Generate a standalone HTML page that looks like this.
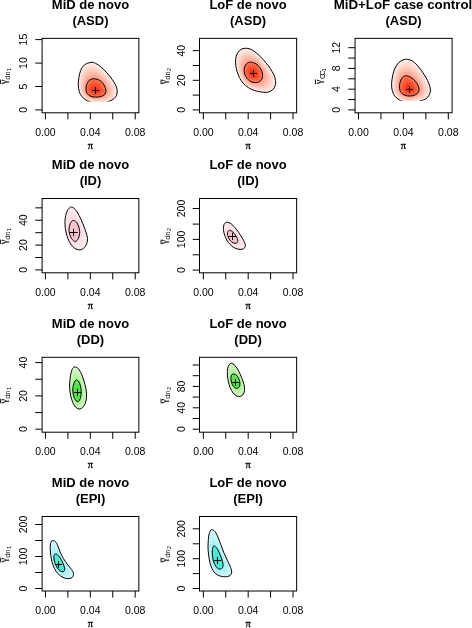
<!DOCTYPE html>
<html lang="en"><head><meta charset="utf-8"><title>Posterior density contour plots</title>
<style>html,body{margin:0;padding:0;background:#fff}body{width:472px;height:628px;overflow:hidden}svg{display:block;will-change:transform}text{font-family:"Liberation Sans", Arial, Helvetica, sans-serif;fill:#000}.t{font-size:13px;font-weight:bold;text-anchor:middle}.a{font-size:10.5px;text-anchor:middle}.g{font-size:10.5px;stroke:#000;stroke-width:0.1px;font-family:"Liberation Serif","DejaVu Serif",serif}.p{font-size:10.5px;stroke:#000;stroke-width:0.3px;text-anchor:middle;font-family:"Liberation Serif","DejaVu Serif",serif}.s{font-size:7.4px}.ss{font-size:5.6px}</style></head><body>
<svg width="472" height="628" viewBox="0 0 472 628">
<rect width="472" height="628" fill="#fff"/>
<g>
<clipPath id="cp0"><rect x="42.10" y="38.35" width="96.75" height="63.16"/></clipPath>
<g clip-path="url(#cp0)">
<path d="M90.76,62.36C92.64,62.06 93.83,62.55 95.51,63.31C97.19,64.06 98.97,65.28 100.85,66.86C102.73,68.45 104.90,70.72 106.78,72.80C108.66,74.87 110.64,77.25 112.12,79.32C113.60,81.40 114.83,83.38 115.68,85.25C116.53,87.13 117.08,88.91 117.22,90.59C117.36,92.27 117.06,93.99 116.51,95.34C115.95,96.68 115.03,97.71 113.90,98.66C112.77,99.61 111.33,100.30 109.75,101.03C108.16,101.77 106.09,102.58 104.41,103.05C102.73,103.53 101.24,103.78 99.66,103.88C98.08,103.98 96.60,104.04 94.92,103.64C93.23,103.25 91.06,102.10 89.58,101.51C88.09,100.92 87.30,100.92 86.02,100.08C84.73,99.25 82.99,97.91 81.86,96.53C80.74,95.14 79.85,93.76 79.25,91.78C78.66,89.80 78.36,87.03 78.31,84.66C78.25,82.29 78.50,79.92 78.90,77.54C79.29,75.17 79.79,72.50 80.68,70.42C81.57,68.35 82.56,66.43 84.24,65.08C85.92,63.74 88.88,62.65 90.76,62.36Z" fill="#ffede7"/>
<polygon points="116.39,90.36 116.41,92.22 116.10,94.05 115.43,95.79 114.32,97.33 112.90,98.63 111.28,99.67 109.62,100.49 108.06,101.19 106.57,101.78 105.15,102.27 103.78,102.68 102.45,103.00 101.15,103.22 99.89,103.37 98.66,103.44 97.46,103.46 96.29,103.40 95.15,103.22 94.05,102.93 93.00,102.55 92.00,102.13 91.02,101.70 90.05,101.29 89.06,100.91 88.00,100.58 86.94,100.15 85.95,99.56 85.00,98.88 84.06,98.12 83.14,97.29 82.28,96.36 81.49,95.33 80.79,94.21 80.20,92.99 79.75,91.70 79.42,90.36 79.18,88.96 79.01,87.51 78.90,86.00 78.86,84.42 78.90,82.78 79.04,81.05 79.27,79.23 79.59,77.30 80.01,75.21 80.58,72.99 81.43,70.75 82.57,68.56 84.09,66.64 86.02,65.25 88.17,64.28 90.44,63.62 92.80,63.51 95.15,64.26 97.34,65.38 99.32,66.73 101.10,68.16 102.70,69.62 104.15,71.06 105.49,72.45 106.74,73.81 107.92,75.15 109.04,76.47 110.11,77.80 111.14,79.16 112.12,80.56 113.07,82.00 113.96,83.51 114.78,85.10 115.49,86.77 116.05,88.53" fill="#ffe9e2"/>
<polygon points="115.59,90.36 115.61,92.15 115.30,93.91 114.66,95.58 113.60,97.07 112.25,98.33 110.70,99.33 109.11,100.13 107.60,100.80 106.16,101.36 104.79,101.84 103.47,102.23 102.18,102.53 100.93,102.74 99.71,102.88 98.53,102.95 97.38,102.98 96.25,102.92 95.15,102.75 94.09,102.48 93.08,102.12 92.10,101.73 91.16,101.33 90.22,100.94 89.25,100.58 88.22,100.25 87.20,99.84 86.24,99.27 85.32,98.61 84.40,97.88 83.51,97.08 82.68,96.17 81.92,95.17 81.24,94.08 80.68,92.91 80.24,91.66 79.93,90.36 79.71,89.00 79.55,87.60 79.45,86.15 79.41,84.63 79.46,83.04 79.60,81.38 79.84,79.63 80.17,77.78 80.58,75.78 81.15,73.66 81.97,71.54 83.09,69.46 84.56,67.64 86.41,66.32 88.47,65.41 90.64,64.78 92.91,64.68 95.15,65.38 97.25,66.43 99.15,67.69 100.87,69.03 102.41,70.41 103.82,71.77 105.11,73.11 106.32,74.41 107.46,75.69 108.54,76.96 109.58,78.25 110.57,79.56 111.51,80.91 112.41,82.31 113.26,83.76 114.05,85.29 114.72,86.90 115.26,88.60" fill="#ffe4dc"/>
<polygon points="114.78,90.36 114.80,92.07 114.51,93.77 113.90,95.38 112.89,96.81 111.60,98.03 110.12,99.00 108.59,99.77 107.14,100.41 105.75,100.95 104.42,101.41 103.15,101.77 101.91,102.06 100.71,102.27 99.53,102.39 98.40,102.46 97.29,102.49 96.21,102.43 95.15,102.28 94.13,102.03 93.15,101.70 92.21,101.33 91.29,100.96 90.38,100.59 89.44,100.25 88.45,99.93 87.46,99.53 86.53,98.98 85.63,98.34 84.75,97.64 83.89,96.86 83.08,95.98 82.35,95.02 81.70,93.96 81.16,92.82 80.74,91.62 80.45,90.36 80.23,89.05 80.09,87.70 80.00,86.29 79.97,84.83 80.02,83.30 80.17,81.71 80.41,80.03 80.74,78.26 81.15,76.35 81.71,74.34 82.52,72.32 83.61,70.36 85.03,68.64 86.80,67.40 88.77,66.53 90.85,65.94 93.01,65.85 95.15,66.50 97.15,67.47 98.98,68.65 100.63,69.90 102.12,71.20 103.48,72.49 104.73,73.76 105.90,75.00 107.00,76.23 108.05,77.46 109.05,78.70 110.00,79.96 110.90,81.27 111.76,82.61 112.57,84.02 113.31,85.49 113.96,87.04 114.47,88.67" fill="#ffded5"/>
<polygon points="113.98,90.36 114.00,92.00 113.71,93.63 113.13,95.17 112.17,96.55 110.95,97.72 109.54,98.66 108.08,99.41 106.68,100.02 105.34,100.54 104.06,100.97 102.83,101.32 101.64,101.59 100.48,101.79 99.36,101.91 98.27,101.98 97.21,102.00 96.17,101.95 95.15,101.81 94.17,101.58 93.23,101.27 92.32,100.94 91.43,100.59 90.54,100.24 89.63,99.91 88.68,99.60 87.72,99.21 86.82,98.68 85.95,98.07 85.10,97.40 84.26,96.64 83.48,95.80 82.77,94.86 82.15,93.84 81.64,92.74 81.24,91.57 80.96,90.36 80.76,89.10 80.62,87.79 80.54,86.44 80.52,85.03 80.59,83.56 80.74,82.03 80.98,80.43 81.31,78.74 81.72,76.93 82.28,75.01 83.07,73.10 84.12,71.25 85.49,69.64 87.19,68.47 89.07,67.66 91.05,67.11 93.11,67.02 95.15,67.62 97.06,68.52 98.81,69.61 100.40,70.78 101.84,71.99 103.15,73.21 104.36,74.42 105.48,75.60 106.55,76.77 107.56,77.95 108.52,79.14 109.42,80.36 110.28,81.62 111.10,82.92 111.87,84.27 112.58,85.69 113.19,87.17 113.68,88.73" fill="#ffd9ce"/>
<polygon points="113.17,90.36 113.19,91.93 112.92,93.49 112.36,94.97 111.46,96.29 110.30,97.42 108.96,98.33 107.56,99.04 106.21,99.64 104.93,100.13 103.70,100.54 102.51,100.87 101.37,101.12 100.26,101.31 99.18,101.42 98.14,101.49 97.12,101.51 96.12,101.47 95.15,101.34 94.21,101.13 93.30,100.85 92.42,100.54 91.56,100.22 90.71,99.89 89.83,99.58 88.90,99.28 87.98,98.90 87.12,98.39 86.27,97.81 85.44,97.16 84.64,96.43 83.88,95.61 83.20,94.71 82.60,93.72 82.12,92.65 81.74,91.53 81.48,90.36 81.29,89.14 81.16,87.89 81.09,86.59 81.08,85.23 81.15,83.83 81.31,82.36 81.55,80.83 81.88,79.22 82.30,77.50 82.85,75.69 83.62,73.89 84.64,72.15 85.96,70.64 87.58,69.55 89.37,68.78 91.26,68.27 93.21,68.19 95.15,68.74 96.97,69.56 98.64,70.57 100.16,71.65 101.55,72.78 102.81,73.93 103.98,75.07 105.07,76.20 106.09,77.32 107.06,78.44 107.98,79.59 108.85,80.76 109.67,81.97 110.45,83.22 111.18,84.52 111.84,85.88 112.43,87.31 112.89,88.80" fill="#ffd3c7"/>
<polygon points="112.37,90.36 112.38,91.86 112.12,93.35 111.59,94.76 110.74,96.03 109.65,97.12 108.38,97.99 107.05,98.68 105.75,99.25 104.51,99.72 103.33,100.10 102.19,100.41 101.10,100.65 100.03,100.83 99.00,100.94 98.00,101.00 97.03,101.02 96.08,100.98 95.15,100.87 94.25,100.68 93.38,100.42 92.53,100.14 91.70,99.84 90.87,99.54 90.02,99.25 89.13,98.96 88.24,98.59 87.41,98.10 86.59,97.54 85.79,96.91 85.01,96.21 84.28,95.42 83.63,94.55 83.06,93.60 82.60,92.57 82.24,91.49 81.99,90.36 81.81,89.19 81.70,87.98 81.64,86.73 81.64,85.44 81.71,84.09 81.88,82.69 82.12,81.23 82.45,79.70 82.87,78.07 83.41,76.37 84.17,74.67 85.16,73.05 86.43,71.64 87.97,70.62 89.67,69.91 91.46,69.43 93.32,69.36 95.15,69.85 96.88,70.60 98.47,71.52 99.93,72.52 101.26,73.58 102.48,74.65 103.60,75.72 104.65,76.79 105.64,77.86 106.57,78.94 107.45,80.03 108.28,81.16 109.06,82.33 109.79,83.53 110.48,84.78 111.11,86.08 111.66,87.44 112.10,88.87" fill="#ffcdbf"/>
<polygon points="111.57,90.36 111.58,91.79 111.33,93.21 110.83,94.56 110.03,95.77 109.00,96.81 107.80,97.66 106.53,98.32 105.29,98.86 104.10,99.30 102.97,99.67 101.88,99.96 100.83,100.18 99.81,100.35 98.83,100.45 97.87,100.51 96.95,100.53 96.04,100.50 95.15,100.40 94.29,100.23 93.45,100.00 92.64,99.74 91.83,99.47 91.03,99.19 90.21,98.91 89.36,98.63 88.51,98.28 87.70,97.81 86.91,97.27 86.13,96.67 85.38,96.00 84.68,95.24 84.06,94.39 83.51,93.47 83.08,92.49 82.74,91.44 82.51,90.36 82.34,89.24 82.23,88.08 82.18,86.88 82.19,85.64 82.28,84.35 82.44,83.02 82.69,81.63 83.03,80.18 83.44,78.64 83.98,77.04 84.72,75.46 85.68,73.95 86.89,72.64 88.36,71.69 89.97,71.03 91.67,70.59 93.42,70.52 95.15,70.97 96.79,71.65 98.30,72.48 99.70,73.40 100.97,74.37 102.14,75.37 103.22,76.38 104.23,77.39 105.18,78.40 106.08,79.43 106.92,80.48 107.71,81.56 108.44,82.68 109.14,83.84 109.78,85.03 110.38,86.28 110.90,87.58 111.31,88.94" fill="#ffc6b8"/>
<polygon points="110.76,90.36 110.77,91.72 110.53,93.07 110.06,94.35 109.31,95.51 108.35,96.51 107.22,97.32 106.01,97.96 104.83,98.48 103.69,98.89 102.60,99.24 101.56,99.51 100.56,99.71 99.59,99.87 98.65,99.96 97.74,100.02 96.86,100.05 96.00,100.02 95.15,99.93 94.33,99.78 93.53,99.58 92.74,99.35 91.97,99.10 91.20,98.84 90.41,98.58 89.59,98.31 88.77,97.96 87.99,97.52 87.23,97.01 86.48,96.43 85.76,95.78 85.08,95.05 84.48,94.24 83.97,93.35 83.56,92.40 83.24,91.40 83.02,90.36 82.87,89.28 82.77,88.17 82.73,87.03 82.75,85.84 82.84,84.61 83.01,83.35 83.27,82.03 83.60,80.66 84.01,79.22 84.55,77.72 85.27,76.24 86.20,74.85 87.36,73.65 88.75,72.77 90.28,72.15 91.87,71.76 93.52,71.69 95.15,72.09 96.70,72.69 98.13,73.44 99.46,74.27 100.68,75.16 101.81,76.09 102.84,77.03 103.81,77.99 104.73,78.95 105.59,79.92 106.39,80.93 107.14,81.96 107.83,83.04 108.48,84.14 109.09,85.28 109.64,86.47 110.13,87.71 110.52,89.01" fill="#ffc0b0"/>
<polygon points="109.96,90.36 109.97,91.65 109.74,92.93 109.29,94.14 108.60,95.25 107.70,96.21 106.64,96.99 105.50,97.60 104.37,98.09 103.28,98.48 102.24,98.80 101.24,99.05 100.28,99.24 99.36,99.39 98.47,99.48 97.61,99.53 96.78,99.56 95.96,99.54 95.15,99.46 94.37,99.33 93.60,99.15 92.85,98.95 92.11,98.73 91.36,98.49 90.60,98.25 89.81,97.98 89.03,97.65 88.28,97.23 87.55,96.74 86.83,96.19 86.13,95.56 85.48,94.86 84.91,94.08 84.42,93.23 84.03,92.32 83.74,91.35 83.54,90.36 83.39,89.33 83.31,88.27 83.28,87.17 83.31,86.04 83.40,84.88 83.58,83.67 83.84,82.43 84.17,81.14 84.58,79.79 85.11,78.39 85.82,77.02 86.72,75.74 87.83,74.65 89.14,73.84 90.58,73.28 92.08,72.92 93.62,72.86 95.15,73.21 96.61,73.74 97.97,74.40 99.23,75.14 100.40,75.95 101.47,76.81 102.47,77.69 103.40,78.58 104.27,79.49 105.09,80.42 105.86,81.37 106.57,82.36 107.22,83.39 107.83,84.45 108.39,85.54 108.91,86.67 109.37,87.85 109.73,89.08" fill="#ffb9a8"/>
<polygon points="109.15,90.36 109.16,91.58 108.95,92.79 108.53,93.94 107.88,94.99 107.05,95.91 106.06,96.65 104.98,97.24 103.91,97.70 102.87,98.07 101.87,98.37 100.92,98.60 100.01,98.78 99.14,98.91 98.30,98.99 97.48,99.05 96.69,99.07 95.91,99.05 95.15,98.99 94.41,98.88 93.68,98.73 92.96,98.55 92.24,98.36 91.52,98.14 90.79,97.91 90.04,97.66 89.29,97.34 88.57,96.94 87.87,96.47 87.17,95.94 86.51,95.35 85.89,94.68 85.34,93.93 84.88,93.11 84.51,92.23 84.24,91.31 84.05,90.36 83.92,89.37 83.85,88.36 83.83,87.32 83.86,86.25 83.97,85.14 84.15,84.00 84.41,82.83 84.74,81.62 85.16,80.36 85.68,79.07 86.37,77.81 87.23,76.64 88.29,75.65 89.53,74.92 90.88,74.40 92.28,74.08 93.72,74.03 95.15,74.32 96.52,74.78 97.80,75.36 98.99,76.02 100.11,76.74 101.14,77.53 102.09,78.34 102.98,79.18 103.81,80.03 104.60,80.91 105.33,81.82 105.99,82.77 106.60,83.74 107.17,84.75 107.69,85.79 108.17,86.87 108.60,87.98 108.94,89.15" fill="#ffb3a0"/>
<polygon points="108.35,90.36 108.35,91.51 108.15,92.65 107.76,93.73 107.17,94.73 106.40,95.60 105.48,96.32 104.47,96.88 103.44,97.31 102.45,97.66 101.51,97.93 100.61,98.15 99.74,98.31 98.92,98.43 98.12,98.51 97.35,98.56 96.60,98.58 95.87,98.57 95.15,98.52 94.45,98.43 93.75,98.30 93.06,98.16 92.38,97.98 91.68,97.79 90.98,97.58 90.27,97.33 89.55,97.03 88.86,96.65 88.18,96.20 87.52,95.70 86.88,95.13 86.29,94.49 85.76,93.77 85.33,92.99 84.99,92.15 84.74,91.27 84.57,90.36 84.45,89.42 84.38,88.46 84.37,87.47 84.42,86.45 84.53,85.40 84.71,84.33 84.98,83.23 85.31,82.10 85.73,80.93 86.25,79.74 86.92,78.59 87.75,77.54 88.76,76.65 89.92,75.99 91.18,75.53 92.49,75.24 93.83,75.20 95.15,75.44 96.42,75.83 97.63,76.32 98.76,76.89 99.82,77.53 100.80,78.24 101.71,79.00 102.56,79.77 103.36,80.58 104.11,81.40 104.80,82.26 105.42,83.17 105.99,84.10 106.51,85.06 107.00,86.05 107.44,87.06 107.84,88.12 108.15,89.22" fill="#ffac97"/>
<polygon points="107.54,90.36 107.55,91.44 107.36,92.51 106.99,93.53 106.45,94.47 105.75,95.30 104.90,95.98 103.95,96.52 102.98,96.93 102.04,97.25 101.15,97.50 100.29,97.69 99.47,97.84 98.69,97.95 97.94,98.02 97.22,98.07 96.52,98.09 95.83,98.09 95.15,98.05 94.49,97.98 93.83,97.88 93.17,97.76 92.51,97.61 91.85,97.44 91.18,97.24 90.49,97.01 89.82,96.72 89.15,96.36 88.50,95.94 87.87,95.46 87.25,94.92 86.69,94.30 86.19,93.62 85.78,92.87 85.47,92.06 85.24,91.22 85.08,90.36 84.98,89.47 84.92,88.55 84.92,87.61 84.98,86.65 85.09,85.67 85.28,84.66 85.55,83.63 85.89,82.58 86.30,81.50 86.81,80.42 87.46,79.38 88.27,78.44 89.23,77.65 90.31,77.06 91.48,76.65 92.69,76.41 93.93,76.37 95.15,76.56 96.33,76.87 97.46,77.28 98.53,77.76 99.53,78.33 100.47,78.96 101.33,79.65 102.14,80.37 102.90,81.12 103.61,81.90 104.26,82.71 104.85,83.57 105.38,84.45 105.86,85.36 106.30,86.30 106.71,87.26 107.07,88.25 107.37,89.29" fill="#ffa58f"/>
<polygon points="106.74,90.36 106.74,91.37 106.56,92.37 106.23,93.32 105.74,94.21 105.10,95.00 104.32,95.65 103.43,96.15 102.52,96.54 101.63,96.83 100.78,97.06 99.97,97.24 99.20,97.37 98.47,97.47 97.77,97.53 97.09,97.58 96.43,97.60 95.79,97.60 95.15,97.58 94.53,97.53 93.90,97.45 93.28,97.36 92.65,97.24 92.01,97.09 91.37,96.91 90.72,96.69 90.08,96.40 89.44,96.06 88.82,95.67 88.21,95.22 87.63,94.70 87.09,94.12 86.62,93.46 86.24,92.74 85.95,91.98 85.74,91.18 85.60,90.36 85.50,89.51 85.46,88.65 85.47,87.76 85.53,86.85 85.66,85.93 85.85,84.99 86.12,84.03 86.46,83.06 86.87,82.08 87.38,81.09 88.01,80.16 88.79,79.34 89.70,78.65 90.71,78.14 91.78,77.78 92.90,77.57 94.03,77.54 95.15,77.68 96.24,77.92 97.29,78.24 98.29,78.64 99.24,79.12 100.13,79.68 100.96,80.30 101.73,80.97 102.45,81.66 103.12,82.39 103.73,83.16 104.28,83.97 104.77,84.81 105.20,85.67 105.60,86.55 105.97,87.46 106.31,88.39 106.58,89.36" fill="#ff9e87"/>
<path d="M93.14,78.73C94.72,78.59 96.89,78.99 98.47,79.68C100.06,80.37 101.54,81.66 102.63,82.88C103.71,84.11 104.45,85.65 105.00,87.03C105.55,88.42 106.05,89.90 105.95,91.19C105.85,92.47 105.26,93.86 104.41,94.75C103.56,95.64 102.33,96.13 100.85,96.53C99.36,96.92 97.19,97.16 95.51,97.12C93.83,97.08 92.15,96.88 90.76,96.29C89.38,95.69 87.99,94.71 87.20,93.56C86.41,92.41 86.12,90.89 86.02,89.41C85.92,87.92 86.12,86.14 86.61,84.66C87.10,83.18 87.90,81.50 88.98,80.51C90.07,79.52 91.55,78.87 93.14,78.73Z" fill="#ff7854"/>
<polygon points="105.17,90.36 105.17,91.23 105.01,92.09 104.72,92.92 104.32,93.69 103.79,94.38 103.13,94.96 102.36,95.41 101.57,95.74 100.79,95.99 100.04,96.18 99.33,96.33 98.66,96.43 98.02,96.51 97.41,96.57 96.83,96.61 96.26,96.63 95.70,96.64 95.15,96.63 94.61,96.60 94.06,96.55 93.51,96.49 92.95,96.40 92.39,96.29 91.82,96.13 91.25,95.93 90.68,95.68 90.12,95.39 89.57,95.04 89.03,94.64 88.51,94.19 88.03,93.68 87.62,93.10 87.30,92.46 87.05,91.78 86.88,91.08 86.76,90.36 86.68,89.61 86.65,88.86 86.67,88.08 86.74,87.29 86.86,86.49 87.04,85.67 87.29,84.85 87.61,84.03 88.00,83.20 88.46,82.38 89.03,81.62 89.73,80.96 90.52,80.42 91.39,80.01 92.30,79.72 93.25,79.56 94.21,79.54 95.15,79.62 96.08,79.77 96.98,79.99 97.85,80.28 98.68,80.66 99.46,81.11 100.19,81.63 100.87,82.19 101.50,82.79 102.09,83.42 102.63,84.08 103.10,84.79 103.51,85.53 103.88,86.29 104.21,87.06 104.52,87.85 104.80,88.66 105.03,89.49" fill="#ff714e"/>
<polygon points="104.40,90.36 104.40,91.16 104.25,91.96 103.99,92.72 103.61,93.43 103.12,94.07 102.51,94.61 101.81,95.02 101.07,95.32 100.35,95.56 99.67,95.73 99.01,95.87 98.39,95.96 97.80,96.04 97.24,96.09 96.70,96.13 96.17,96.15 95.66,96.15 95.15,96.14 94.65,96.12 94.14,96.08 93.64,96.02 93.12,95.94 92.60,95.83 92.07,95.69 91.55,95.50 91.03,95.27 90.51,95.00 90.00,94.68 89.50,94.31 89.02,93.89 88.58,93.42 88.20,92.89 87.90,92.30 87.68,91.67 87.51,91.02 87.40,90.36 87.33,89.67 87.30,88.97 87.32,88.26 87.38,87.53 87.50,86.79 87.67,86.03 87.90,85.28 88.19,84.51 88.55,83.75 88.98,83.00 89.50,82.29 90.14,81.68 90.88,81.18 91.68,80.80 92.52,80.54 93.40,80.39 94.28,80.37 95.15,80.45 96.01,80.59 96.84,80.79 97.64,81.06 98.41,81.40 99.13,81.82 99.80,82.30 100.43,82.82 101.01,83.37 101.56,83.95 102.05,84.57 102.48,85.22 102.87,85.90 103.21,86.60 103.51,87.31 103.80,88.04 104.06,88.79 104.27,89.56" fill="#ff6b48"/>
<polygon points="103.63,90.36 103.63,91.10 103.49,91.83 103.25,92.53 102.91,93.18 102.46,93.76 101.90,94.25 101.25,94.63 100.58,94.91 99.92,95.12 99.29,95.29 98.69,95.41 98.12,95.50 97.58,95.57 97.07,95.61 96.57,95.65 96.09,95.67 95.62,95.67 95.15,95.66 94.69,95.64 94.23,95.60 93.76,95.55 93.29,95.47 92.81,95.37 92.33,95.24 91.85,95.07 91.37,94.86 90.90,94.61 90.43,94.32 89.97,93.98 89.53,93.60 89.13,93.16 88.78,92.68 88.51,92.14 88.30,91.56 88.15,90.97 88.05,90.36 87.98,89.73 87.96,89.09 87.97,88.43 88.03,87.76 88.13,87.08 88.29,86.39 88.50,85.70 88.77,85.00 89.10,84.30 89.49,83.61 89.97,82.96 90.56,82.40 91.23,81.95 91.97,81.60 92.74,81.36 93.54,81.22 94.35,81.21 95.15,81.27 95.94,81.40 96.70,81.59 97.44,81.83 98.14,82.15 98.80,82.53 99.42,82.97 99.99,83.45 100.53,83.95 101.03,84.48 101.48,85.05 101.87,85.65 102.22,86.27 102.54,86.91 102.82,87.57 103.08,88.23 103.31,88.92 103.51,89.63" fill="#ff6442"/>
<polygon points="102.85,90.36 102.86,91.03 102.73,91.69 102.51,92.33 102.20,92.92 101.80,93.45 101.29,93.90 100.70,94.24 100.09,94.50 99.49,94.69 98.91,94.84 98.37,94.95 97.85,95.03 97.36,95.09 96.89,95.14 96.44,95.17 96.00,95.18 95.58,95.19 95.15,95.18 94.73,95.16 94.31,95.12 93.89,95.08 93.46,95.01 93.03,94.92 92.59,94.80 92.15,94.65 91.71,94.45 91.28,94.23 90.86,93.96 90.44,93.65 90.04,93.30 89.68,92.91 89.36,92.46 89.11,91.97 88.92,91.45 88.79,90.91 88.69,90.36 88.64,89.79 88.61,89.20 88.63,88.61 88.68,88.00 88.77,87.38 88.91,86.75 89.11,86.12 89.35,85.49 89.65,84.85 90.01,84.22 90.45,83.63 90.98,83.13 91.59,82.71 92.26,82.40 92.96,82.17 93.69,82.05 94.42,82.04 95.15,82.10 95.86,82.22 96.56,82.39 97.23,82.61 97.87,82.89 98.47,83.25 99.03,83.64 99.55,84.08 100.04,84.53 100.49,85.02 100.90,85.53 101.26,86.08 101.58,86.64 101.86,87.23 102.12,87.82 102.36,88.43 102.57,89.05 102.75,89.69" fill="#ff5e3d"/>
<polygon points="102.08,90.36 102.09,90.96 101.98,91.56 101.78,92.13 101.50,92.66 101.13,93.14 100.67,93.54 100.14,93.85 99.59,94.08 99.05,94.26 98.54,94.39 98.05,94.49 97.58,94.56 97.14,94.62 96.72,94.66 96.31,94.69 95.92,94.70 95.53,94.70 95.15,94.70 94.77,94.68 94.40,94.65 94.01,94.60 93.63,94.54 93.24,94.46 92.84,94.36 92.45,94.22 92.06,94.04 91.67,93.84 91.29,93.60 90.91,93.32 90.56,93.01 90.22,92.65 89.94,92.25 89.71,91.81 89.55,91.34 89.42,90.86 89.34,90.36 89.29,89.84 89.26,89.32 89.28,88.78 89.33,88.24 89.41,87.68 89.54,87.11 89.71,86.55 89.93,85.97 90.20,85.40 90.52,84.84 90.92,84.31 91.40,83.85 91.94,83.48 92.54,83.19 93.18,82.99 93.83,82.88 94.50,82.87 95.15,82.92 95.79,83.03 96.42,83.18 97.02,83.38 97.60,83.64 98.14,83.96 98.64,84.31 99.11,84.70 99.55,85.12 99.96,85.55 100.33,86.01 100.65,86.51 100.94,87.02 101.19,87.54 101.42,88.07 101.64,88.62 101.83,89.18 101.99,89.76" fill="#ff5737"/>
<polygon points="101.31,90.36 101.32,90.90 101.22,91.43 101.04,91.93 100.79,92.41 100.47,92.83 100.06,93.19 99.59,93.46 99.10,93.67 98.62,93.82 98.16,93.94 97.72,94.03 97.31,94.09 96.92,94.14 96.54,94.18 96.18,94.20 95.83,94.22 95.49,94.22 95.15,94.21 94.82,94.20 94.48,94.17 94.14,94.13 93.80,94.08 93.45,94.01 93.10,93.91 92.75,93.79 92.40,93.63 92.06,93.45 91.72,93.24 91.38,92.99 91.07,92.72 90.77,92.40 90.52,92.04 90.32,91.65 90.17,91.23 90.06,90.80 89.99,90.36 89.94,89.90 89.92,89.43 89.93,88.96 89.97,88.47 90.05,87.98 90.16,87.47 90.32,86.97 90.51,86.46 90.75,85.95 91.04,85.45 91.39,84.98 91.81,84.57 92.30,84.24 92.83,83.99 93.40,83.81 93.98,83.71 94.57,83.70 95.15,83.75 95.72,83.84 96.28,83.98 96.81,84.16 97.33,84.39 97.81,84.67 98.25,84.99 98.67,85.33 99.06,85.70 99.42,86.08 99.75,86.50 100.04,86.93 100.30,87.39 100.52,87.85 100.73,88.33 100.92,88.81 101.09,89.31 101.23,89.82" fill="#ff5131"/>
<polygon points="100.54,90.36 100.54,90.83 100.46,91.29 100.31,91.74 100.09,92.15 99.80,92.52 99.45,92.84 99.04,93.07 98.61,93.25 98.19,93.39 97.79,93.49 97.40,93.57 97.04,93.63 96.70,93.67 96.37,93.70 96.05,93.72 95.75,93.74 95.45,93.74 95.15,93.73 94.86,93.72 94.56,93.69 94.27,93.66 93.97,93.61 93.66,93.55 93.36,93.47 93.05,93.36 92.75,93.22 92.44,93.06 92.15,92.88 91.86,92.66 91.58,92.42 91.32,92.14 91.10,91.83 90.92,91.49 90.79,91.12 90.70,90.75 90.63,90.36 90.59,89.96 90.57,89.55 90.58,89.13 90.62,88.71 90.69,88.27 90.79,87.83 90.92,87.39 91.09,86.95 91.30,86.50 91.55,86.06 91.86,85.65 92.23,85.29 92.66,85.01 93.12,84.78 93.62,84.63 94.13,84.54 94.64,84.53 95.15,84.58 95.65,84.66 96.14,84.78 96.61,84.93 97.05,85.13 97.47,85.38 97.87,85.66 98.23,85.96 98.57,86.28 98.89,86.62 99.18,86.98 99.43,87.36 99.65,87.76 99.85,88.17 100.03,88.58 100.20,89.00 100.35,89.44 100.47,89.89" fill="#ff4a2b"/>
<polygon points="99.77,90.36 99.77,90.76 99.70,91.16 99.57,91.54 99.38,91.90 99.14,92.21 98.83,92.48 98.48,92.69 98.11,92.84 97.75,92.96 97.41,93.05 97.08,93.11 96.77,93.16 96.48,93.20 96.20,93.22 95.93,93.24 95.66,93.25 95.41,93.26 95.15,93.25 94.90,93.24 94.65,93.22 94.39,93.19 94.14,93.15 93.88,93.09 93.61,93.02 93.35,92.93 93.09,92.81 92.83,92.68 92.58,92.52 92.33,92.33 92.09,92.13 91.87,91.89 91.68,91.62 91.53,91.33 91.42,91.01 91.33,90.69 91.28,90.36 91.24,90.01 91.23,89.66 91.24,89.31 91.27,88.94 91.32,88.57 91.41,88.19 91.53,87.82 91.67,87.44 91.85,87.05 92.06,86.68 92.33,86.32 92.65,86.02 93.01,85.77 93.41,85.58 93.84,85.45 94.27,85.37 94.72,85.36 95.15,85.40 95.58,85.47 96.00,85.57 96.40,85.71 96.78,85.88 97.14,86.09 97.48,86.33 97.79,86.59 98.08,86.86 98.36,87.15 98.60,87.46 98.82,87.79 99.01,88.13 99.18,88.48 99.33,88.83 99.48,89.20 99.60,89.57 99.71,89.96" fill="#ff4325"/>
<polygon points="99.00,90.36 99.00,90.69 98.94,91.02 98.83,91.34 98.68,91.64 98.47,91.90 98.22,92.13 97.93,92.30 97.62,92.43 97.32,92.52 97.03,92.60 96.76,92.65 96.50,92.69 96.26,92.72 96.02,92.75 95.80,92.76 95.58,92.77 95.36,92.77 95.15,92.77 94.94,92.76 94.73,92.74 94.52,92.72 94.31,92.68 94.09,92.64 93.87,92.58 93.65,92.50 93.43,92.40 93.22,92.29 93.01,92.16 92.80,92.00 92.60,91.83 92.41,91.63 92.26,91.41 92.13,91.17 92.04,90.91 91.97,90.63 91.92,90.36 91.89,90.07 91.88,89.78 91.89,89.48 91.92,89.18 91.96,88.87 92.03,88.55 92.13,88.24 92.25,87.92 92.40,87.60 92.58,87.29 92.80,86.99 93.07,86.74 93.37,86.53 93.70,86.38 94.06,86.26 94.42,86.20 94.79,86.20 95.15,86.23 95.51,86.29 95.86,86.37 96.19,86.48 96.51,86.63 96.81,86.80 97.09,87.00 97.35,87.22 97.59,87.45 97.82,87.69 98.03,87.94 98.21,88.22 98.37,88.50 98.51,88.79 98.64,89.09 98.75,89.39 98.86,89.70 98.95,90.02" fill="#ff3d1f"/>
<polygon points="98.23,90.36 98.23,90.63 98.19,90.89 98.10,91.14 97.97,91.38 97.81,91.60 97.61,91.77 97.37,91.91 97.13,92.01 96.89,92.09 96.66,92.15 96.44,92.19 96.23,92.23 96.04,92.25 95.85,92.27 95.67,92.28 95.49,92.29 95.32,92.29 95.15,92.28 94.98,92.28 94.82,92.26 94.65,92.24 94.48,92.22 94.30,92.18 94.13,92.13 93.95,92.07 93.78,91.99 93.60,91.90 93.43,91.80 93.27,91.68 93.11,91.54 92.96,91.38 92.84,91.20 92.74,91.00 92.66,90.80 92.61,90.58 92.57,90.36 92.55,90.13 92.54,89.89 92.54,89.66 92.56,89.41 92.60,89.17 92.66,88.92 92.73,88.66 92.83,88.41 92.95,88.15 93.09,87.90 93.27,87.67 93.48,87.46 93.73,87.30 93.99,87.17 94.28,87.08 94.57,87.03 94.86,87.03 95.15,87.05 95.44,87.10 95.71,87.17 95.98,87.26 96.24,87.37 96.48,87.51 96.70,87.67 96.91,87.84 97.11,88.03 97.29,88.22 97.45,88.43 97.60,88.64 97.72,88.87 97.84,89.10 97.94,89.34 98.03,89.58 98.12,89.83 98.19,90.09" fill="#ff3619"/>
<polygon points="97.46,90.36 97.46,90.56 97.43,90.76 97.36,90.95 97.27,91.13 97.15,91.29 96.99,91.42 96.82,91.52 96.63,91.60 96.45,91.66 96.28,91.70 96.12,91.73 95.96,91.76 95.82,91.78 95.67,91.79 95.54,91.80 95.41,91.80 95.28,91.81 95.15,91.80 95.03,91.80 94.90,91.79 94.77,91.77 94.64,91.75 94.51,91.72 94.38,91.69 94.25,91.64 94.12,91.59 93.99,91.52 93.86,91.44 93.74,91.35 93.62,91.24 93.51,91.12 93.41,90.99 93.34,90.84 93.28,90.69 93.24,90.52 93.22,90.36 93.20,90.18 93.19,90.01 93.19,89.83 93.21,89.65 93.24,89.46 93.28,89.28 93.34,89.09 93.41,88.90 93.50,88.70 93.61,88.52 93.74,88.34 93.90,88.19 94.08,88.06 94.28,87.97 94.49,87.90 94.71,87.87 94.93,87.86 95.15,87.88 95.37,87.91 95.57,87.96 95.78,88.03 95.97,88.12 96.15,88.22 96.32,88.34 96.47,88.47 96.62,88.61 96.75,88.75 96.88,88.91 96.99,89.07 97.08,89.24 97.17,89.42 97.24,89.60 97.31,89.78 97.38,89.96 97.43,90.16" fill="#ff3014"/>
<polygon points="96.69,90.36 96.69,90.49 96.67,90.62 96.62,90.75 96.56,90.87 96.48,90.98 96.38,91.06 96.26,91.13 96.14,91.18 96.02,91.22 95.90,91.25 95.80,91.27 95.69,91.29 95.59,91.30 95.50,91.31 95.41,91.32 95.32,91.32 95.24,91.32 95.15,91.32 95.07,91.32 94.98,91.31 94.90,91.30 94.81,91.29 94.73,91.27 94.64,91.24 94.55,91.21 94.46,91.18 94.38,91.13 94.29,91.08 94.21,91.02 94.13,90.95 94.06,90.87 93.99,90.78 93.94,90.68 93.91,90.58 93.88,90.47 93.86,90.36 93.85,90.24 93.84,90.13 93.85,90.01 93.86,89.88 93.88,89.76 93.90,89.64 93.94,89.51 93.99,89.38 94.05,89.25 94.12,89.13 94.21,89.01 94.32,88.91 94.44,88.83 94.57,88.76 94.71,88.72 94.86,88.70 95.01,88.69 95.15,88.70 95.29,88.73 95.43,88.76 95.57,88.81 95.70,88.86 95.82,88.93 95.93,89.01 96.03,89.10 96.13,89.19 96.22,89.29 96.30,89.39 96.37,89.50 96.44,89.61 96.49,89.73 96.55,89.85 96.59,89.97 96.64,90.09 96.67,90.22" fill="#ff290e"/>
<polygon points="95.92,90.36 95.92,90.42 95.91,90.49 95.89,90.55 95.86,90.61 95.82,90.67 95.77,90.71 95.71,90.74 95.65,90.77 95.59,90.79 95.53,90.80 95.47,90.82 95.42,90.82 95.37,90.83 95.33,90.83 95.28,90.84 95.24,90.84 95.19,90.84 95.15,90.84 95.11,90.84 95.07,90.83 95.03,90.83 94.98,90.82 94.94,90.81 94.90,90.80 94.85,90.78 94.81,90.77 94.77,90.74 94.72,90.72 94.68,90.69 94.64,90.65 94.61,90.61 94.57,90.57 94.55,90.52 94.53,90.47 94.52,90.41 94.51,90.36 94.50,90.30 94.50,90.24 94.50,90.18 94.51,90.12 94.51,90.06 94.53,90.00 94.55,89.93 94.57,89.87 94.60,89.81 94.64,89.74 94.68,89.68 94.74,89.63 94.80,89.59 94.86,89.56 94.93,89.54 95.01,89.53 95.08,89.52 95.15,89.53 95.22,89.54 95.29,89.56 95.36,89.58 95.42,89.61 95.48,89.64 95.54,89.68 95.59,89.73 95.64,89.77 95.69,89.82 95.73,89.87 95.76,89.93 95.80,89.98 95.82,90.04 95.85,90.10 95.87,90.16 95.89,90.23 95.91,90.29" fill="#ff2308"/>
<path d="M90.76,62.36C92.64,62.06 93.83,62.55 95.51,63.31C97.19,64.06 98.97,65.28 100.85,66.86C102.73,68.45 104.90,70.72 106.78,72.80C108.66,74.87 110.64,77.25 112.12,79.32C113.60,81.40 114.83,83.38 115.68,85.25C116.53,87.13 117.08,88.91 117.22,90.59C117.36,92.27 117.06,93.99 116.51,95.34C115.95,96.68 115.03,97.71 113.90,98.66C112.77,99.61 111.33,100.30 109.75,101.03C108.16,101.77 106.09,102.58 104.41,103.05C102.73,103.53 101.24,103.78 99.66,103.88C98.08,103.98 96.60,104.04 94.92,103.64C93.23,103.25 91.06,102.10 89.58,101.51C88.09,100.92 87.30,100.92 86.02,100.08C84.73,99.25 82.99,97.91 81.86,96.53C80.74,95.14 79.85,93.76 79.25,91.78C78.66,89.80 78.36,87.03 78.31,84.66C78.25,82.29 78.50,79.92 78.90,77.54C79.29,75.17 79.79,72.50 80.68,70.42C81.57,68.35 82.56,66.43 84.24,65.08C85.92,63.74 88.88,62.65 90.76,62.36Z" fill="none" stroke="#000" stroke-width="1.0"/>
</g>
<path d="M93.14,78.73C94.72,78.59 96.89,78.99 98.47,79.68C100.06,80.37 101.54,81.66 102.63,82.88C103.71,84.11 104.45,85.65 105.00,87.03C105.55,88.42 106.05,89.90 105.95,91.19C105.85,92.47 105.26,93.86 104.41,94.75C103.56,95.64 102.33,96.13 100.85,96.53C99.36,96.92 97.19,97.16 95.51,97.12C93.83,97.08 92.15,96.88 90.76,96.29C89.38,95.69 87.99,94.71 87.20,93.56C86.41,92.41 86.12,90.89 86.02,89.41C85.92,87.92 86.12,86.14 86.61,84.66C87.10,83.18 87.90,81.50 88.98,80.51C90.07,79.52 91.55,78.87 93.14,78.73Z" fill="none" stroke="#000" stroke-width="1.0"/>
<path d="M92.00,90.50H99.00M95.50,87.10V93.90" stroke="#000" stroke-width="1" fill="none"/>
<rect x="42.10" y="38.35" width="96.75" height="74.45" fill="none" stroke="#000" stroke-width="1"/>
<path d="M45.45,112.80v6.6M67.89,112.80v6.6M90.32,112.80v6.6M112.76,112.80v6.6M135.20,112.80v6.6M42.10,109.90h-6.8M42.10,86.50h-6.8M42.10,63.10h-6.8M42.10,39.60h-6.8" stroke="#000" stroke-width="1" fill="none"/>
<text class="a" x="45.45" y="135.60">0.00</text>
<text class="a" x="90.32" y="135.60">0.04</text>
<text class="a" x="135.20" y="135.60">0.08</text>
<text class="a" transform="translate(27.10,109.90) rotate(-90)">0</text>
<text class="a" transform="translate(27.10,86.50) rotate(-90)">5</text>
<text class="a" transform="translate(27.10,63.10) rotate(-90)">10</text>
<text class="a" transform="translate(27.10,39.60) rotate(-90)">15</text>
<text class="p" x="90.32" y="148.60">π</text>
<g transform="translate(6.90,84.28) rotate(-90)">
<text class="g" x="0" y="0">γ</text><path d="M0.1,-6.2h4.6" stroke="#000" stroke-width="1"/>
<text class="s" x="4.60" y="2.60">dn</text><text class="ss" x="13.40" y="3.90">1</text>
</g>
<text class="t" x="90.47" y="9.05">MiD de novo</text>
<text class="t" x="90.47" y="25.05">(ASD)</text>
</g>
<g>
<g>
<path d="M245.22,48.27C246.75,48.24 248.61,48.44 250.31,49.08C252.00,49.73 253.69,50.86 255.39,52.14C257.08,53.41 258.78,55.02 260.47,56.71C262.17,58.41 263.95,60.36 265.56,62.31C267.17,64.25 268.78,66.37 270.14,68.41C271.49,70.44 272.80,72.47 273.69,74.51C274.59,76.54 275.27,78.75 275.53,80.61C275.78,82.47 275.69,84.17 275.22,85.69C274.75,87.22 273.78,88.71 272.68,89.76C271.58,90.81 270.14,91.58 268.61,92.00C267.08,92.42 265.39,92.42 263.53,92.31C261.66,92.19 259.46,91.80 257.42,91.29C255.39,90.78 253.27,90.19 251.32,89.25C249.37,88.32 247.42,87.14 245.73,85.69C244.03,84.25 242.42,82.47 241.15,80.61C239.88,78.75 238.92,76.54 238.10,74.51C237.29,72.47 236.69,70.44 236.27,68.41C235.85,66.37 235.59,64.25 235.56,62.31C235.53,60.36 235.64,58.41 236.07,56.71C236.49,55.02 237.25,53.37 238.10,52.14C238.95,50.90 239.97,49.93 241.15,49.29C242.34,48.64 243.69,48.31 245.22,48.27Z" fill="#ffede7"/>
<polygon points="272.29,73.19 273.09,74.93 273.78,76.82 274.34,78.86 274.67,81.02 274.67,83.22 274.22,85.35 273.29,87.29 271.96,88.97 270.24,90.28 268.24,91.16 266.03,91.58 263.79,91.61 261.67,91.46 259.70,91.17 257.87,90.81 256.19,90.40 254.62,89.96 253.15,89.48 251.78,88.93 250.49,88.31 249.28,87.64 248.15,86.94 247.08,86.20 246.09,85.42 245.16,84.60 244.29,83.75 243.47,82.87 242.70,81.96 241.98,81.01 241.30,80.03 240.68,79.00 240.10,77.94 239.57,76.83 239.06,75.67 238.57,74.46 238.10,73.19 237.65,71.83 237.25,70.38 236.89,68.83 236.58,67.15 236.34,65.35 236.21,63.40 236.21,61.32 236.39,59.12 236.85,56.89 237.68,54.75 238.86,52.77 240.40,51.10 242.31,49.94 244.48,49.35 246.75,49.29 248.99,49.61 251.15,50.33 253.15,51.43 254.95,52.65 256.56,53.89 257.99,55.14 259.28,56.35 260.46,57.51 261.56,58.63 262.58,59.72 263.55,60.80 264.47,61.87 265.36,62.94 266.23,64.03 267.09,65.14 267.94,66.29 268.80,67.49 269.65,68.77 270.53,70.12 271.42,71.59" fill="#ffe9e2"/>
<polygon points="271.53,73.19 272.28,74.86 272.92,76.67 273.43,78.62 273.73,80.68 273.72,82.78 273.29,84.81 272.40,86.66 271.13,88.27 269.50,89.54 267.60,90.40 265.51,90.83 263.37,90.89 261.35,90.77 259.46,90.51 257.71,90.18 256.08,89.80 254.57,89.39 253.15,88.93 251.82,88.41 250.57,87.82 249.40,87.18 248.30,86.51 247.27,85.79 246.31,85.03 245.41,84.24 244.57,83.41 243.78,82.56 243.03,81.68 242.33,80.76 241.68,79.81 241.08,78.82 240.52,77.78 240.01,76.71 239.52,75.59 239.04,74.42 238.59,73.19 238.17,71.88 237.79,70.48 237.45,68.98 237.16,67.37 236.95,65.63 236.83,63.76 236.85,61.77 237.04,59.67 237.51,57.54 238.32,55.51 239.45,53.62 240.94,52.04 242.77,50.92 244.84,50.35 247.02,50.28 249.17,50.58 251.23,51.26 253.15,52.28 254.88,53.43 256.43,54.61 257.81,55.79 259.06,56.95 260.21,58.06 261.27,59.13 262.25,60.19 263.19,61.23 264.08,62.26 264.94,63.30 265.77,64.35 266.60,65.42 267.41,66.54 268.22,67.70 269.04,68.93 269.87,70.24 270.71,71.65" fill="#ffe4dc"/>
<polygon points="270.77,73.19 271.46,74.79 272.06,76.52 272.53,78.38 272.80,80.34 272.77,82.33 272.35,84.27 271.51,86.04 270.31,87.58 268.76,88.80 266.96,89.64 264.98,90.07 262.95,90.16 261.03,90.07 259.22,89.85 257.54,89.55 255.98,89.20 254.52,88.82 253.15,88.39 251.87,87.89 250.66,87.33 249.53,86.72 248.46,86.07 247.47,85.38 246.54,84.65 245.67,83.88 244.85,83.08 244.09,82.25 243.37,81.40 242.69,80.51 242.06,79.59 241.48,78.63 240.94,77.63 240.44,76.59 239.97,75.51 239.51,74.38 239.08,73.19 238.68,71.92 238.32,70.57 238.01,69.13 237.74,67.58 237.55,65.91 237.46,64.13 237.49,62.22 237.70,60.22 238.16,58.19 238.95,56.26 240.05,54.48 241.48,52.97 243.23,51.90 245.20,51.35 247.28,51.27 249.34,51.55 251.32,52.18 253.15,53.14 254.81,54.22 256.30,55.33 257.64,56.45 258.84,57.55 259.95,58.61 260.97,59.64 261.93,60.65 262.83,61.65 263.69,62.65 264.51,63.65 265.32,64.67 266.10,65.71 266.88,66.79 267.65,67.91 268.42,69.09 269.21,70.36 270.00,71.71" fill="#ffded5"/>
<polygon points="270.01,73.19 270.65,74.72 271.19,76.37 271.62,78.14 271.86,79.99 271.82,81.89 271.42,83.73 270.62,85.42 269.48,86.89 268.03,88.06 266.32,88.88 264.45,89.32 262.53,89.43 260.70,89.37 258.98,89.19 257.37,88.92 255.87,88.60 254.47,88.25 253.15,87.85 251.91,87.38 250.74,86.84 249.65,86.26 248.62,85.64 247.66,84.97 246.76,84.26 245.92,83.52 245.13,82.74 244.40,81.94 243.70,81.12 243.05,80.26 242.44,79.37 241.88,78.44 241.36,77.48 240.88,76.48 240.42,75.43 239.98,74.34 239.57,73.19 239.20,71.97 238.86,70.67 238.57,69.28 238.33,67.79 238.16,66.19 238.08,64.49 238.14,62.67 238.35,60.77 238.81,58.85 239.59,57.02 240.65,55.33 242.02,53.90 243.68,52.88 245.57,52.35 247.55,52.26 249.51,52.51 251.40,53.11 253.15,54.00 254.74,55.01 256.17,56.05 257.46,57.11 258.62,58.15 259.69,59.16 260.68,60.15 261.60,61.12 262.47,62.08 263.30,63.04 264.09,64.01 264.86,64.99 265.61,66.00 266.35,67.03 267.08,68.12 267.81,69.26 268.55,70.47 269.29,71.77" fill="#ffd9ce"/>
<polygon points="269.24,73.19 269.84,74.65 270.33,76.22 270.72,77.89 270.92,79.65 270.87,81.45 270.49,83.19 269.73,84.79 268.66,86.20 267.29,87.32 265.69,88.12 263.92,88.57 262.11,88.70 260.38,88.68 258.74,88.53 257.20,88.29 255.77,88.01 254.42,87.68 253.15,87.30 251.96,86.86 250.83,86.36 249.77,85.80 248.78,85.20 247.85,84.56 246.98,83.87 246.17,83.16 245.42,82.41 244.71,81.63 244.04,80.83 243.41,80.01 242.82,79.15 242.28,78.26 241.78,77.33 241.31,76.36 240.87,75.35 240.45,74.30 240.06,73.19 239.71,72.01 239.40,70.76 239.13,69.43 238.91,68.00 238.76,66.48 238.71,64.85 238.78,63.12 239.01,61.32 239.47,59.50 240.22,57.78 241.25,56.18 242.56,54.83 244.14,53.86 245.93,53.35 247.81,53.26 249.68,53.48 251.48,54.03 253.15,54.86 254.67,55.80 256.05,56.77 257.28,57.77 258.41,58.75 259.44,59.71 260.39,60.65 261.28,61.58 262.11,62.51 262.91,63.43 263.66,64.37 264.40,65.31 265.11,66.28 265.82,67.28 266.51,68.32 267.20,69.42 267.89,70.59 268.58,71.84" fill="#ffd3c7"/>
<polygon points="268.48,73.19 269.02,74.57 269.47,76.06 269.81,77.65 269.98,79.31 269.92,81.01 269.55,82.66 268.84,84.17 267.83,85.50 266.55,86.58 265.05,87.36 263.40,87.81 261.69,87.98 260.05,87.98 258.49,87.86 257.03,87.67 255.66,87.41 254.37,87.11 253.15,86.76 252.00,86.34 250.92,85.87 249.90,85.34 248.94,84.77 248.04,84.15 247.20,83.49 246.43,82.79 245.70,82.07 245.01,81.32 244.37,80.55 243.77,79.76 243.20,78.93 242.68,78.07 242.20,77.17 241.75,76.24 241.32,75.27 240.92,74.26 240.56,73.19 240.22,72.06 239.93,70.86 239.68,69.58 239.49,68.21 239.36,66.76 239.33,65.21 239.42,63.57 239.66,61.87 240.12,60.16 240.86,58.53 241.85,57.04 243.10,55.77 244.60,54.84 246.29,54.34 248.08,54.25 249.85,54.45 251.56,54.96 253.15,55.72 254.60,56.58 255.92,57.49 257.11,58.42 258.19,59.35 259.18,60.26 260.10,61.16 260.95,62.05 261.76,62.93 262.51,63.82 263.24,64.72 263.94,65.63 264.62,66.57 265.28,67.53 265.94,68.53 266.58,69.59 267.23,70.70 267.87,71.90" fill="#ffcdbf"/>
<polygon points="267.72,73.19 268.21,74.50 268.61,75.91 268.90,77.41 269.05,78.97 268.97,80.56 268.62,82.12 267.95,83.55 267.01,84.81 265.81,85.84 264.41,86.60 262.87,87.06 261.27,87.25 259.73,87.28 258.25,87.20 256.86,87.04 255.55,86.81 254.32,86.54 253.15,86.21 252.05,85.83 251.00,85.38 250.02,84.88 249.10,84.33 248.23,83.74 247.43,83.10 246.68,82.43 245.98,81.74 245.32,81.02 244.71,80.27 244.13,79.51 243.58,78.71 243.08,77.88 242.61,77.02 242.18,76.13 241.78,75.19 241.40,74.22 241.05,73.19 240.74,72.10 240.47,70.95 240.24,69.73 240.07,68.43 239.97,67.04 239.96,65.57 240.06,64.02 240.32,62.41 240.78,60.81 241.49,59.29 242.44,57.89 243.63,56.70 245.06,55.83 246.66,55.34 248.34,55.24 250.02,55.42 251.64,55.88 253.15,56.58 254.54,57.37 255.79,58.21 256.93,59.08 257.97,59.95 258.92,60.81 259.81,61.66 260.63,62.51 261.40,63.36 262.12,64.22 262.81,65.08 263.48,65.96 264.12,66.85 264.75,67.78 265.37,68.74 265.97,69.75 266.57,70.82 267.16,71.96" fill="#ffc6b8"/>
<polygon points="266.96,73.19 267.39,74.43 267.74,75.76 268.00,77.16 268.11,78.63 268.03,80.12 267.69,81.58 267.06,82.92 266.18,84.12 265.07,85.10 263.77,85.84 262.34,86.31 260.85,86.52 259.40,86.59 258.01,86.54 256.70,86.41 255.45,86.21 254.27,85.97 253.15,85.67 252.09,85.31 251.09,84.89 250.14,84.42 249.25,83.90 248.42,83.33 247.65,82.71 246.93,82.07 246.26,81.40 245.63,80.71 245.04,79.99 244.49,79.26 243.96,78.49 243.48,77.70 243.03,76.87 242.62,76.01 242.23,75.11 241.87,74.17 241.54,73.19 241.25,72.15 241.01,71.04 240.80,69.88 240.65,68.64 240.57,67.32 240.58,65.93 240.71,64.47 240.97,62.96 241.43,61.47 242.13,60.05 243.04,58.75 244.17,57.63 245.52,56.81 247.02,56.34 248.61,56.23 250.19,56.39 251.72,56.81 253.15,57.44 254.47,58.16 255.67,58.93 256.76,59.74 257.75,60.55 258.67,61.36 259.51,62.17 260.30,62.98 261.04,63.79 261.73,64.61 262.39,65.44 263.02,66.28 263.63,67.14 264.22,68.03 264.80,68.95 265.36,69.92 265.91,70.94 266.45,72.02" fill="#ffc0b0"/>
<polygon points="266.19,73.19 266.58,74.36 266.88,75.61 267.09,76.92 267.17,78.29 267.08,79.68 266.75,81.04 266.17,82.30 265.36,83.43 264.33,84.37 263.14,85.08 261.81,85.55 260.43,85.79 259.08,85.89 257.77,85.88 256.53,85.78 255.34,85.62 254.22,85.40 253.15,85.13 252.14,84.80 251.17,84.40 250.27,83.96 249.41,83.46 248.62,82.92 247.87,82.33 247.19,81.71 246.54,81.06 245.94,80.40 245.38,79.71 244.84,79.00 244.34,78.27 243.88,77.51 243.45,76.72 243.05,75.89 242.68,75.03 242.34,74.13 242.03,73.19 241.77,72.19 241.54,71.14 241.36,70.03 241.23,68.85 241.18,67.60 241.21,66.29 241.35,64.92 241.63,63.51 242.09,62.12 242.76,60.80 243.64,59.60 244.71,58.57 245.97,57.79 247.38,57.34 248.87,57.22 250.36,57.36 251.80,57.73 253.15,58.29 254.40,58.95 255.54,59.65 256.58,60.40 257.53,61.15 258.41,61.91 259.22,62.67 259.98,63.44 260.68,64.22 261.34,65.00 261.97,65.79 262.56,66.60 263.14,67.42 263.69,68.27 264.22,69.16 264.74,70.08 265.25,71.05 265.74,72.09" fill="#ffb9a8"/>
<polygon points="265.43,73.19 265.77,74.29 266.02,75.45 266.18,76.68 266.23,77.95 266.13,79.24 265.82,80.50 265.28,81.68 264.53,82.73 263.59,83.63 262.50,84.33 261.29,84.80 260.01,85.07 258.75,85.20 257.53,85.22 256.36,85.15 255.24,85.02 254.17,84.83 253.15,84.58 252.18,84.28 251.26,83.92 250.39,83.50 249.57,83.03 248.81,82.50 248.10,81.94 247.44,81.35 246.82,80.73 246.25,80.09 245.71,79.43 245.20,78.75 244.73,78.05 244.28,77.32 243.87,76.57 243.49,75.78 243.13,74.95 242.81,74.09 242.52,73.19 242.28,72.24 242.08,71.23 241.92,70.18 241.82,69.06 241.78,67.88 241.83,66.65 241.99,65.37 242.28,64.06 242.74,62.77 243.40,61.56 244.24,60.45 245.25,59.50 246.43,58.77 247.75,58.34 249.14,58.21 250.53,58.33 251.88,58.66 253.15,59.15 254.33,59.73 255.41,60.37 256.40,61.05 257.31,61.76 258.15,62.46 258.93,63.18 259.65,63.91 260.32,64.64 260.95,65.39 261.54,66.15 262.10,66.92 262.64,67.71 263.16,68.52 263.65,69.36 264.13,70.25 264.59,71.17 265.03,72.15" fill="#ffb3a0"/>
<polygon points="264.67,73.19 264.95,74.22 265.15,75.30 265.28,76.44 265.30,77.61 265.18,78.79 264.89,79.96 264.39,81.05 263.71,82.04 262.85,82.89 261.86,83.57 260.76,84.05 259.59,84.34 258.43,84.50 257.29,84.55 256.19,84.52 255.13,84.42 254.12,84.26 253.15,84.04 252.23,83.76 251.35,83.43 250.51,83.04 249.73,82.59 249.00,82.09 248.32,81.55 247.69,80.99 247.11,80.39 246.56,79.78 246.04,79.15 245.56,78.50 245.11,77.83 244.68,77.14 244.29,76.41 243.92,75.66 243.58,74.87 243.28,74.05 243.01,73.19 242.79,72.28 242.61,71.33 242.48,70.33 242.40,69.27 242.38,68.16 242.46,67.01 242.63,65.82 242.94,64.61 243.39,63.43 244.03,62.32 244.83,61.31 245.79,60.43 246.89,59.75 248.11,59.34 249.41,59.20 250.70,59.30 251.96,59.58 253.15,60.01 254.26,60.52 255.29,61.09 256.23,61.71 257.09,62.36 257.90,63.01 258.64,63.69 259.33,64.37 259.96,65.07 260.56,65.78 261.12,66.50 261.64,67.24 262.15,67.99 262.62,68.77 263.08,69.57 263.52,70.41 263.93,71.29 264.32,72.21" fill="#ffac97"/>
<polygon points="263.90,73.19 264.14,74.15 264.29,75.15 264.37,76.19 264.36,77.27 264.23,78.35 263.95,79.42 263.50,80.43 262.88,81.35 262.11,82.15 261.22,82.81 260.23,83.29 259.17,83.61 258.10,83.80 257.05,83.89 256.02,83.90 255.03,83.82 254.07,83.69 253.15,83.49 252.27,83.25 251.43,82.94 250.64,82.58 249.89,82.16 249.19,81.68 248.54,81.17 247.94,80.62 247.39,80.06 246.87,79.47 246.38,78.87 245.92,78.25 245.49,77.61 245.08,76.95 244.71,76.26 244.36,75.54 244.03,74.79 243.75,74.01 243.51,73.19 243.31,72.33 243.15,71.42 243.04,70.48 242.98,69.48 242.99,68.45 243.08,67.37 243.28,66.27 243.59,65.16 244.05,64.08 244.67,63.07 245.43,62.16 246.33,61.36 247.35,60.74 248.47,60.33 249.67,60.20 250.87,60.27 252.04,60.51 253.15,60.87 254.19,61.31 255.16,61.81 256.05,62.37 256.88,62.96 257.64,63.57 258.35,64.19 259.00,64.84 259.60,65.50 260.17,66.17 260.69,66.86 261.18,67.56 261.65,68.28 262.09,69.02 262.51,69.78 262.90,70.57 263.27,71.40 263.61,72.27" fill="#ffa58f"/>
<polygon points="263.14,73.19 263.32,74.08 263.43,75.00 263.46,75.95 263.42,76.92 263.28,77.91 263.02,78.88 262.61,79.81 262.05,80.66 261.38,81.41 260.59,82.05 259.70,82.54 258.75,82.88 257.78,83.11 256.81,83.23 255.85,83.27 254.92,83.22 254.02,83.12 253.15,82.95 252.32,82.73 251.52,82.45 250.76,82.12 250.05,81.72 249.38,81.27 248.77,80.78 248.20,80.26 247.67,79.72 247.17,79.16 246.71,78.59 246.28,78.00 245.87,77.39 245.49,76.76 245.12,76.11 244.79,75.43 244.49,74.71 244.22,73.97 244.00,73.19 243.82,72.37 243.69,71.52 243.60,70.63 243.56,69.70 243.59,68.73 243.71,67.73 243.92,66.72 244.25,65.71 244.70,64.74 245.30,63.83 246.03,63.01 246.87,62.30 247.80,61.72 248.84,61.33 249.94,61.19 251.05,61.24 252.12,61.43 253.15,61.73 254.12,62.10 255.03,62.53 255.88,63.03 256.66,63.56 257.38,64.12 258.05,64.70 258.67,65.30 259.25,65.93 259.77,66.56 260.27,67.22 260.73,67.88 261.16,68.56 261.56,69.27 261.94,69.99 262.29,70.74 262.61,71.52 262.90,72.33" fill="#ff9e87"/>
<path d="M249.29,62.31C250.64,61.97 252.42,62.31 253.86,62.81C255.31,63.32 256.75,64.25 257.93,65.36C259.12,66.46 260.22,67.98 260.98,69.42C261.75,70.86 262.34,72.47 262.51,74.00C262.68,75.53 262.51,77.31 262.00,78.58C261.49,79.85 260.56,80.95 259.46,81.63C258.36,82.31 256.83,82.64 255.39,82.64C253.95,82.64 252.17,82.31 250.81,81.63C249.46,80.95 248.27,79.85 247.25,78.58C246.24,77.31 245.22,75.61 244.71,74.00C244.20,72.39 244.03,70.44 244.20,68.92C244.37,67.39 244.88,65.95 245.73,64.85C246.58,63.75 247.93,62.64 249.29,62.31Z" fill="#ff7854"/>
<polygon points="261.72,73.19 261.84,73.95 261.89,74.73 261.89,75.53 261.82,76.34 261.68,77.16 261.45,77.98 261.11,78.76 260.65,79.48 260.10,80.14 259.46,80.71 258.75,81.17 257.96,81.52 257.15,81.75 256.32,81.90 255.50,81.96 254.70,81.95 253.91,81.88 253.15,81.75 252.42,81.57 251.71,81.34 251.04,81.05 250.41,80.71 249.83,80.31 249.29,79.88 248.79,79.42 248.32,78.94 247.89,78.45 247.48,77.94 247.10,77.42 246.74,76.89 246.40,76.33 246.09,75.76 245.79,75.16 245.53,74.53 245.29,73.87 245.11,73.19 244.97,72.47 244.86,71.72 244.80,70.95 244.79,70.14 244.83,69.31 244.96,68.46 245.18,67.60 245.49,66.76 245.91,65.95 246.45,65.20 247.09,64.53 247.81,63.94 248.61,63.45 249.48,63.11 250.41,62.97 251.35,62.99 252.27,63.13 253.15,63.34 253.99,63.62 254.78,63.96 255.52,64.36 256.20,64.80 256.84,65.27 257.43,65.77 257.98,66.30 258.48,66.84 258.94,67.40 259.36,67.97 259.76,68.56 260.13,69.16 260.47,69.78 260.78,70.41 261.07,71.07 261.32,71.75 261.54,72.45" fill="#ff714e"/>
<polygon points="261.06,73.19 261.17,73.89 261.22,74.61 261.21,75.35 261.15,76.10 261.02,76.86 260.81,77.61 260.49,78.33 260.08,79.00 259.57,79.60 258.98,80.13 258.32,80.56 257.59,80.87 256.84,81.09 256.08,81.23 255.32,81.29 254.58,81.28 253.85,81.21 253.15,81.09 252.48,80.92 251.83,80.71 251.21,80.45 250.63,80.13 250.09,79.76 249.59,79.37 249.12,78.94 248.69,78.50 248.29,78.05 247.92,77.58 247.57,77.10 247.24,76.60 246.92,76.09 246.63,75.56 246.36,75.01 246.11,74.43 245.90,73.82 245.73,73.19 245.60,72.53 245.50,71.84 245.44,71.12 245.43,70.38 245.47,69.61 245.59,68.82 245.79,68.03 246.08,67.25 246.47,66.50 246.97,65.82 247.56,65.20 248.23,64.65 248.96,64.20 249.77,63.88 250.62,63.75 251.49,63.77 252.34,63.90 253.15,64.10 253.93,64.36 254.65,64.67 255.34,65.04 255.97,65.45 256.56,65.88 257.10,66.34 257.61,66.83 258.07,67.33 258.49,67.85 258.89,68.38 259.25,68.92 259.59,69.47 259.90,70.04 260.19,70.62 260.46,71.23 260.69,71.86 260.90,72.51" fill="#ff6b48"/>
<polygon points="260.40,73.19 260.50,73.83 260.55,74.49 260.54,75.17 260.48,75.85 260.37,76.55 260.17,77.24 259.88,77.90 259.50,78.51 259.03,79.07 258.49,79.55 257.89,79.95 257.22,80.23 256.53,80.43 255.84,80.56 255.14,80.61 254.46,80.60 253.80,80.54 253.15,80.43 252.53,80.28 251.94,80.09 251.37,79.84 250.84,79.55 250.34,79.22 249.88,78.85 249.46,78.46 249.07,78.06 248.70,77.64 248.36,77.21 248.03,76.77 247.73,76.32 247.44,75.85 247.17,75.36 246.92,74.86 246.70,74.32 246.50,73.77 246.35,73.19 246.23,72.58 246.14,71.95 246.09,71.29 246.07,70.61 246.11,69.90 246.22,69.18 246.40,68.46 246.67,67.75 247.03,67.06 247.48,66.43 248.03,65.86 248.64,65.36 249.31,64.95 250.05,64.66 250.84,64.54 251.63,64.56 252.41,64.68 253.15,64.86 253.86,65.09 254.53,65.38 255.15,65.72 255.73,66.09 256.27,66.49 256.77,66.91 257.24,67.36 257.66,67.82 258.05,68.29 258.41,68.78 258.74,69.27 259.05,69.78 259.34,70.30 259.61,70.84 259.85,71.39 260.07,71.97 260.25,72.57" fill="#ff6442"/>
<polygon points="259.74,73.19 259.84,73.77 259.88,74.37 259.87,74.99 259.82,75.61 259.71,76.24 259.53,76.87 259.27,77.47 258.92,78.03 258.50,78.53 258.01,78.97 257.45,79.33 256.85,79.59 256.23,79.78 255.59,79.89 254.96,79.94 254.34,79.93 253.74,79.87 253.15,79.77 252.59,79.63 252.05,79.46 251.53,79.24 251.05,78.97 250.60,78.67 250.18,78.34 249.79,77.98 249.44,77.61 249.10,77.24 248.79,76.85 248.50,76.45 248.22,76.03 247.96,75.61 247.72,75.16 247.49,74.70 247.29,74.22 247.11,73.72 246.96,73.19 246.86,72.64 246.78,72.06 246.73,71.46 246.72,70.84 246.75,70.20 246.85,69.55 247.02,68.89 247.26,68.24 247.58,67.62 248.00,67.05 248.49,66.53 249.05,66.07 249.66,65.70 250.33,65.43 251.05,65.32 251.77,65.34 252.48,65.45 253.15,65.61 253.80,65.83 254.40,66.09 254.97,66.40 255.50,66.74 255.99,67.10 256.45,67.48 256.86,67.89 257.25,68.31 257.60,68.74 257.93,69.18 258.23,69.63 258.52,70.09 258.78,70.56 259.02,71.05 259.24,71.56 259.44,72.08 259.61,72.62" fill="#ff5e3d"/>
<polygon points="259.08,73.19 259.17,73.71 259.20,74.25 259.20,74.81 259.15,75.37 259.05,75.94 258.89,76.50 258.66,77.04 258.34,77.54 257.96,78.00 257.52,78.39 257.02,78.72 256.48,78.95 255.92,79.12 255.35,79.22 254.78,79.26 254.22,79.25 253.68,79.20 253.15,79.11 252.64,78.99 252.16,78.83 251.69,78.63 251.26,78.39 250.85,78.12 250.48,77.82 250.13,77.50 249.81,77.17 249.51,76.83 249.23,76.48 248.96,76.12 248.71,75.75 248.48,75.36 248.26,74.97 248.06,74.55 247.87,74.12 247.71,73.66 247.58,73.19 247.48,72.69 247.41,72.17 247.37,71.64 247.36,71.08 247.39,70.50 247.48,69.91 247.63,69.32 247.85,68.74 248.14,68.17 248.51,67.66 248.96,67.20 249.46,66.79 250.01,66.44 250.61,66.21 251.26,66.11 251.91,66.13 252.54,66.22 253.15,66.37 253.73,66.56 254.28,66.80 254.79,67.08 255.27,67.38 255.71,67.71 256.12,68.05 256.49,68.42 256.84,68.79 257.16,69.18 257.45,69.58 257.73,69.98 257.98,70.40 258.22,70.83 258.43,71.26 258.63,71.72 258.81,72.19 258.96,72.68" fill="#ff5737"/>
<polygon points="258.43,73.19 258.50,73.65 258.53,74.13 258.53,74.63 258.48,75.13 258.40,75.63 258.26,76.13 258.05,76.61 257.77,77.06 257.43,77.46 257.04,77.82 256.59,78.10 256.11,78.31 255.61,78.46 255.10,78.55 254.60,78.59 254.10,78.58 253.62,78.53 253.15,78.45 252.70,78.34 252.27,78.20 251.86,78.03 251.47,77.82 251.11,77.57 250.77,77.31 250.47,77.02 250.18,76.73 249.91,76.43 249.66,76.11 249.43,75.79 249.21,75.46 249.00,75.12 248.80,74.77 248.62,74.40 248.46,74.01 248.32,73.61 248.20,73.19 248.11,72.75 248.05,72.29 248.01,71.81 248.00,71.31 248.03,70.80 248.11,70.28 248.24,69.75 248.44,69.23 248.70,68.73 249.03,68.27 249.42,67.86 249.87,67.50 250.36,67.19 250.89,66.98 251.47,66.90 252.05,66.91 252.61,67.00 253.15,67.13 253.67,67.30 254.15,67.51 254.61,67.76 255.03,68.03 255.42,68.32 255.79,68.62 256.12,68.95 256.43,69.28 256.71,69.63 256.97,69.98 257.22,70.34 257.44,70.71 257.65,71.09 257.85,71.48 258.02,71.88 258.18,72.30 258.32,72.73" fill="#ff5131"/>
<polygon points="257.77,73.19 257.83,73.60 257.86,74.02 257.86,74.45 257.82,74.88 257.74,75.33 257.62,75.77 257.44,76.19 257.19,76.58 256.89,76.93 256.55,77.24 256.16,77.49 255.74,77.67 255.30,77.80 254.86,77.88 254.42,77.91 253.98,77.91 253.56,77.87 253.15,77.80 252.76,77.70 252.38,77.58 252.02,77.42 251.68,77.24 251.36,77.02 251.07,76.79 250.80,76.54 250.55,76.29 250.32,76.02 250.10,75.75 249.89,75.47 249.70,75.18 249.52,74.88 249.35,74.57 249.19,74.25 249.05,73.91 248.92,73.56 248.82,73.19 248.74,72.80 248.69,72.40 248.66,71.98 248.65,71.55 248.67,71.10 248.74,70.64 248.86,70.18 249.03,69.72 249.25,69.29 249.55,68.89 249.89,68.53 250.28,68.21 250.71,67.94 251.18,67.76 251.68,67.68 252.18,67.70 252.68,67.77 253.15,67.89 253.60,68.04 254.03,68.22 254.43,68.43 254.80,68.67 255.14,68.93 255.46,69.19 255.75,69.48 256.02,69.77 256.27,70.07 256.50,70.38 256.71,70.70 256.91,71.02 257.09,71.35 257.26,71.69 257.41,72.04 257.55,72.41 257.67,72.79" fill="#ff4a2b"/>
<polygon points="257.11,73.19 257.16,73.54 257.19,73.90 257.18,74.27 257.15,74.64 257.09,75.02 256.98,75.40 256.82,75.76 256.61,76.09 256.36,76.39 256.07,76.66 255.73,76.87 255.37,77.03 255.00,77.14 254.62,77.21 254.24,77.24 253.87,77.23 253.50,77.20 253.15,77.14 252.81,77.06 252.49,76.95 252.18,76.82 251.89,76.66 251.62,76.48 251.37,76.28 251.14,76.06 250.92,75.84 250.72,75.62 250.54,75.38 250.36,75.14 250.19,74.89 250.04,74.64 249.89,74.37 249.76,74.10 249.63,73.81 249.53,73.50 249.44,73.19 249.37,72.86 249.33,72.51 249.30,72.15 249.29,71.78 249.31,71.40 249.37,71.00 249.47,70.61 249.62,70.22 249.81,69.85 250.06,69.50 250.36,69.19 250.69,68.92 251.06,68.69 251.46,68.53 251.89,68.47 252.32,68.48 252.75,68.54 253.15,68.64 253.54,68.77 253.90,68.93 254.24,69.11 254.56,69.32 254.86,69.53 255.13,69.76 255.38,70.01 255.61,70.26 255.82,70.52 256.02,70.78 256.20,71.05 256.37,71.33 256.53,71.61 256.67,71.91 256.81,72.21 256.92,72.52 257.03,72.85" fill="#ff4325"/>
<polygon points="256.45,73.19 256.49,73.48 256.51,73.78 256.51,74.09 256.49,74.40 256.43,74.72 256.34,75.03 256.21,75.33 256.04,75.61 255.83,75.86 255.58,76.08 255.30,76.26 255.00,76.39 254.69,76.48 254.37,76.54 254.06,76.56 253.75,76.56 253.44,76.53 253.15,76.48 252.87,76.41 252.60,76.32 252.34,76.21 252.10,76.08 251.87,75.93 251.67,75.76 251.47,75.58 251.29,75.40 251.13,75.21 250.97,75.02 250.83,74.82 250.69,74.61 250.56,74.40 250.43,74.18 250.32,73.95 250.22,73.70 250.13,73.45 250.06,73.19 250.00,72.91 249.96,72.62 249.94,72.33 249.94,72.02 249.95,71.69 250.00,71.37 250.08,71.04 250.21,70.71 250.37,70.40 250.58,70.12 250.82,69.86 251.10,69.63 251.41,69.44 251.74,69.31 252.10,69.26 252.46,69.26 252.81,69.32 253.15,69.40 253.47,69.51 253.78,69.64 254.06,69.79 254.33,69.96 254.57,70.14 254.80,70.34 255.01,70.54 255.20,70.75 255.38,70.96 255.54,71.18 255.69,71.41 255.83,71.64 255.97,71.87 256.09,72.12 256.20,72.37 256.30,72.63 256.38,72.90" fill="#ff3d1f"/>
<polygon points="255.79,73.19 255.83,73.42 255.84,73.66 255.84,73.91 255.82,74.16 255.78,74.41 255.70,74.66 255.60,74.90 255.46,75.12 255.29,75.32 255.09,75.50 254.87,75.64 254.63,75.75 254.38,75.82 254.13,75.87 253.88,75.89 253.63,75.88 253.39,75.86 253.15,75.82 252.93,75.77 252.71,75.70 252.50,75.61 252.31,75.50 252.13,75.38 251.96,75.25 251.81,75.10 251.67,74.96 251.53,74.81 251.41,74.65 251.29,74.49 251.18,74.33 251.08,74.15 250.98,73.98 250.89,73.79 250.81,73.60 250.73,73.40 250.68,73.19 250.63,72.97 250.60,72.74 250.58,72.50 250.58,72.25 250.59,71.99 250.63,71.73 250.70,71.47 250.79,71.21 250.92,70.96 251.09,70.73 251.29,70.52 251.51,70.34 251.76,70.19 252.02,70.08 252.31,70.04 252.60,70.05 252.88,70.09 253.15,70.16 253.41,70.24 253.65,70.35 253.88,70.47 254.09,70.61 254.29,70.75 254.47,70.91 254.64,71.07 254.79,71.23 254.93,71.41 255.06,71.58 255.19,71.76 255.30,71.95 255.40,72.14 255.50,72.33 255.59,72.53 255.67,72.74 255.73,72.96" fill="#ff3619"/>
<polygon points="255.13,73.19 255.16,73.36 255.17,73.54 255.17,73.73 255.15,73.91 255.12,74.10 255.07,74.29 254.99,74.47 254.88,74.64 254.76,74.79 254.61,74.92 254.44,75.03 254.26,75.11 254.07,75.16 253.88,75.20 253.70,75.21 253.51,75.21 253.33,75.19 253.15,75.16 252.98,75.12 252.82,75.07 252.67,75.00 252.52,74.92 252.39,74.83 252.26,74.73 252.15,74.63 252.04,74.51 251.94,74.40 251.84,74.28 251.76,74.16 251.67,74.04 251.60,73.91 251.52,73.78 251.45,73.64 251.39,73.50 251.34,73.35 251.30,73.19 251.26,73.02 251.24,72.85 251.23,72.67 251.22,72.48 251.23,72.29 251.26,72.10 251.31,71.90 251.38,71.70 251.48,71.52 251.61,71.34 251.75,71.19 251.92,71.05 252.10,70.94 252.31,70.86 252.52,70.83 252.74,70.83 252.95,70.87 253.15,70.91 253.35,70.98 253.53,71.06 253.70,71.15 253.86,71.25 254.00,71.36 254.14,71.48 254.27,71.60 254.38,71.72 254.49,71.85 254.59,71.98 254.68,72.12 254.76,72.26 254.84,72.40 254.91,72.55 254.98,72.70 255.04,72.85 255.09,73.02" fill="#ff3014"/>
<polygon points="254.47,73.19 254.49,73.30 254.50,73.42 254.50,73.55 254.49,73.67 254.46,73.80 254.43,73.92 254.38,74.04 254.31,74.15 254.22,74.26 254.12,74.34 254.01,74.42 253.89,74.47 253.77,74.50 253.64,74.53 253.51,74.54 253.39,74.53 253.27,74.52 253.15,74.50 253.04,74.48 252.93,74.44 252.83,74.40 252.73,74.34 252.64,74.28 252.56,74.22 252.48,74.15 252.41,74.07 252.34,74.00 252.28,73.92 252.22,73.84 252.17,73.76 252.11,73.67 252.07,73.58 252.02,73.49 251.98,73.39 251.94,73.29 251.92,73.19 251.89,73.08 251.88,72.96 251.87,72.84 251.87,72.72 251.87,72.59 251.89,72.46 251.93,72.33 251.97,72.20 252.04,72.07 252.12,71.96 252.22,71.86 252.33,71.76 252.45,71.69 252.59,71.64 252.73,71.61 252.88,71.62 253.02,71.64 253.15,71.67 253.28,71.71 253.40,71.77 253.52,71.83 253.62,71.90 253.72,71.97 253.81,72.05 253.89,72.13 253.97,72.21 254.04,72.30 254.11,72.38 254.17,72.47 254.23,72.57 254.28,72.66 254.33,72.76 254.37,72.86 254.41,72.96 254.44,73.07" fill="#ff290e"/>
<polygon points="253.81,73.19 253.82,73.24 253.82,73.31 253.82,73.37 253.82,73.43 253.81,73.49 253.79,73.55 253.76,73.61 253.73,73.67 253.69,73.72 253.64,73.77 253.58,73.80 253.52,73.83 253.46,73.85 253.40,73.86 253.33,73.86 253.27,73.86 253.21,73.85 253.15,73.84 253.10,73.83 253.04,73.81 252.99,73.79 252.94,73.77 252.90,73.73 252.86,73.70 252.82,73.67 252.78,73.63 252.75,73.59 252.72,73.55 252.69,73.51 252.66,73.47 252.63,73.43 252.61,73.38 252.59,73.34 252.57,73.29 252.55,73.24 252.53,73.19 252.52,73.13 252.51,73.07 252.51,73.01 252.51,72.95 252.51,72.89 252.52,72.82 252.54,72.76 252.56,72.69 252.60,72.63 252.64,72.57 252.69,72.52 252.74,72.48 252.80,72.44 252.87,72.41 252.94,72.40 253.01,72.40 253.08,72.41 253.15,72.43 253.22,72.45 253.28,72.48 253.33,72.51 253.39,72.54 253.44,72.58 253.48,72.62 253.52,72.66 253.56,72.70 253.60,72.74 253.63,72.79 253.66,72.83 253.69,72.88 253.72,72.92 253.74,72.97 253.76,73.02 253.78,73.08 253.80,73.13" fill="#ff2308"/>
<path d="M245.22,48.27C246.75,48.24 248.61,48.44 250.31,49.08C252.00,49.73 253.69,50.86 255.39,52.14C257.08,53.41 258.78,55.02 260.47,56.71C262.17,58.41 263.95,60.36 265.56,62.31C267.17,64.25 268.78,66.37 270.14,68.41C271.49,70.44 272.80,72.47 273.69,74.51C274.59,76.54 275.27,78.75 275.53,80.61C275.78,82.47 275.69,84.17 275.22,85.69C274.75,87.22 273.78,88.71 272.68,89.76C271.58,90.81 270.14,91.58 268.61,92.00C267.08,92.42 265.39,92.42 263.53,92.31C261.66,92.19 259.46,91.80 257.42,91.29C255.39,90.78 253.27,90.19 251.32,89.25C249.37,88.32 247.42,87.14 245.73,85.69C244.03,84.25 242.42,82.47 241.15,80.61C239.88,78.75 238.92,76.54 238.10,74.51C237.29,72.47 236.69,70.44 236.27,68.41C235.85,66.37 235.59,64.25 235.56,62.31C235.53,60.36 235.64,58.41 236.07,56.71C236.49,55.02 237.25,53.37 238.10,52.14C238.95,50.90 239.97,49.93 241.15,49.29C242.34,48.64 243.69,48.31 245.22,48.27Z" fill="none" stroke="#000" stroke-width="1.0"/>
</g>
<path d="M249.29,62.31C250.64,61.97 252.42,62.31 253.86,62.81C255.31,63.32 256.75,64.25 257.93,65.36C259.12,66.46 260.22,67.98 260.98,69.42C261.75,70.86 262.34,72.47 262.51,74.00C262.68,75.53 262.51,77.31 262.00,78.58C261.49,79.85 260.56,80.95 259.46,81.63C258.36,82.31 256.83,82.64 255.39,82.64C253.95,82.64 252.17,82.31 250.81,81.63C249.46,80.95 248.27,79.85 247.25,78.58C246.24,77.31 245.22,75.61 244.71,74.00C244.20,72.39 244.03,70.44 244.20,68.92C244.37,67.39 244.88,65.95 245.73,64.85C246.58,63.75 247.93,62.64 249.29,62.31Z" fill="none" stroke="#000" stroke-width="1.0"/>
<path d="M250.00,73.50H257.00M253.50,70.10V76.90" stroke="#000" stroke-width="1" fill="none"/>
<rect x="199.50" y="38.35" width="97.15" height="74.45" fill="none" stroke="#000" stroke-width="1"/>
<path d="M203.35,112.80v6.6M225.76,112.80v6.6M248.18,112.80v6.6M270.59,112.80v6.6M293.00,112.80v6.6M199.50,109.90h-6.8M199.50,95.10h-6.8M199.50,80.30h-6.8M199.50,65.50h-6.8M199.50,50.65h-6.8" stroke="#000" stroke-width="1" fill="none"/>
<text class="a" x="203.35" y="135.60">0.00</text>
<text class="a" x="248.18" y="135.60">0.04</text>
<text class="a" x="293.00" y="135.60">0.08</text>
<text class="a" transform="translate(184.50,109.90) rotate(-90)">0</text>
<text class="a" transform="translate(184.50,80.30) rotate(-90)">20</text>
<text class="a" transform="translate(184.50,50.65) rotate(-90)">40</text>
<text class="p" x="248.18" y="148.60">π</text>
<g transform="translate(167.30,84.28) rotate(-90)">
<text class="g" x="0" y="0">γ</text><path d="M0.1,-6.2h4.6" stroke="#000" stroke-width="1"/>
<text class="s" x="4.60" y="2.60">dn</text><text class="ss" x="13.40" y="3.90">2</text>
</g>
<text class="t" x="248.07" y="9.05">LoF de novo</text>
<text class="t" x="248.07" y="25.05">(ASD)</text>
</g>
<g>
<clipPath id="cp2"><rect x="355.05" y="38.35" width="97.05" height="62.29"/></clipPath>
<g clip-path="url(#cp2)">
<path d="M407.51,59.36C408.99,59.55 410.67,59.95 412.25,60.90C413.84,61.85 415.42,63.37 417.00,65.05C418.58,66.73 420.26,68.91 421.75,70.98C423.23,73.06 424.71,75.43 425.90,77.51C427.08,79.58 428.11,81.46 428.86,83.44C429.62,85.42 430.31,87.49 430.41,89.37C430.51,91.25 430.21,93.13 429.46,94.71C428.71,96.29 427.28,97.88 425.90,98.86C424.51,99.85 422.73,100.05 421.15,100.64C419.57,101.24 418.09,102.03 416.41,102.42C414.73,102.82 412.85,103.02 411.07,103.02C409.29,103.02 407.51,102.86 405.73,102.42C403.95,101.99 401.97,101.20 400.39,100.41C398.81,99.62 397.42,98.82 396.24,97.68C395.05,96.53 394.02,95.21 393.27,93.53C392.52,91.84 391.99,89.57 391.73,87.59C391.47,85.62 391.53,83.84 391.73,81.66C391.93,79.49 392.36,76.82 392.92,74.54C393.47,72.27 394.10,69.99 395.05,68.02C396.00,66.04 397.23,64.06 398.61,62.68C399.99,61.29 401.87,60.27 403.36,59.71C404.84,59.16 406.03,59.16 407.51,59.36Z" fill="#ffede7"/>
<polygon points="429.60,89.37 429.56,91.17 429.25,92.93 428.62,94.62 427.66,96.15 426.46,97.49 425.08,98.63 423.38,99.41 421.63,99.93 420.14,100.46 418.82,101.01 417.55,101.51 416.29,101.91 415.02,102.17 413.77,102.35 412.56,102.46 411.37,102.51 410.20,102.51 409.05,102.45 407.92,102.33 406.80,102.16 405.69,101.92 404.60,101.61 403.52,101.24 402.44,100.82 401.36,100.35 400.28,99.82 399.19,99.23 398.11,98.56 397.07,97.76 396.12,96.84 395.24,95.81 394.47,94.68 393.82,93.45 393.31,92.15 392.90,90.79 392.57,89.37 392.33,87.91 392.17,86.40 392.13,84.84 392.19,83.24 392.32,81.57 392.53,79.84 392.82,78.01 393.20,76.07 393.70,74.02 394.33,71.83 395.17,69.55 396.30,67.29 397.73,65.10 399.52,63.18 401.64,61.73 404.00,60.72 406.52,60.45 409.05,60.84 411.47,61.70 413.67,63.16 415.61,64.91 417.31,66.69 418.81,68.45 420.14,70.16 421.35,71.81 422.45,73.40 423.47,74.96 424.41,76.49 425.30,78.00 426.14,79.50 426.95,81.03 427.68,82.59 428.33,84.21 428.89,85.87 429.35,87.60" fill="#ffe9e2"/>
<polygon points="428.78,89.37 428.74,91.10 428.44,92.79 427.84,94.41 426.93,95.88 425.78,97.17 424.45,98.26 422.83,99.02 421.16,99.53 419.72,100.05 418.45,100.58 417.23,101.05 416.01,101.43 414.79,101.68 413.59,101.86 412.42,101.97 411.28,102.01 410.16,102.01 409.05,101.95 407.96,101.85 406.88,101.68 405.81,101.45 404.76,101.16 403.72,100.81 402.68,100.41 401.64,99.96 400.59,99.45 399.54,98.89 398.49,98.23 397.49,97.47 396.57,96.58 395.72,95.59 394.97,94.50 394.34,93.32 393.83,92.06 393.44,90.74 393.12,89.37 392.89,87.96 392.74,86.50 392.70,84.99 392.76,83.44 392.88,81.83 393.08,80.15 393.36,78.39 393.73,76.52 394.22,74.54 394.84,72.44 395.66,70.25 396.76,68.09 398.15,66.00 399.88,64.17 401.93,62.81 404.20,61.88 406.63,61.65 409.05,62.04 411.37,62.88 413.48,64.26 415.33,65.93 416.97,67.62 418.41,69.30 419.70,70.93 420.86,72.50 421.93,74.03 422.90,75.52 423.81,76.99 424.67,78.44 425.48,79.89 426.25,81.35 426.96,82.85 427.58,84.41 428.12,86.01 428.55,87.67" fill="#ffe4dc"/>
<polygon points="427.97,89.37 427.93,91.02 427.64,92.65 427.06,94.20 426.19,95.61 425.09,96.85 423.82,97.90 422.27,98.63 420.68,99.13 419.31,99.63 418.08,100.14 416.91,100.59 415.73,100.95 414.56,101.19 413.41,101.36 412.29,101.47 411.19,101.52 410.11,101.51 409.05,101.46 408.00,101.36 406.96,101.20 405.94,100.99 404.93,100.71 403.92,100.37 402.92,99.99 401.92,99.56 400.91,99.08 399.89,98.54 398.88,97.91 397.91,97.17 397.02,96.32 396.20,95.37 395.47,94.32 394.86,93.18 394.36,91.96 393.97,90.69 393.67,89.37 393.44,88.01 393.31,86.60 393.27,85.14 393.32,83.65 393.44,82.10 393.64,80.47 393.90,78.77 394.27,76.97 394.74,75.07 395.35,73.04 396.15,70.95 397.22,68.88 398.57,66.90 400.24,65.17 402.22,63.89 404.41,63.03 406.73,62.85 409.05,63.24 411.27,64.06 413.28,65.37 415.06,66.95 416.63,68.55 418.01,70.15 419.25,71.70 420.38,73.20 421.40,74.66 422.34,76.08 423.22,77.49 424.04,78.88 424.82,80.27 425.56,81.68 426.24,83.12 426.83,84.61 427.34,86.15 427.76,87.74" fill="#ffded5"/>
<polygon points="427.16,89.37 427.12,90.95 426.84,92.51 426.29,93.99 425.45,95.34 424.41,96.53 423.19,97.54 421.72,98.24 420.21,98.73 418.89,99.21 417.72,99.70 416.58,100.13 415.46,100.47 414.34,100.71 413.23,100.87 412.16,100.97 411.10,101.02 410.07,101.01 409.05,100.97 408.04,100.87 407.05,100.73 406.06,100.52 405.09,100.26 404.12,99.94 403.16,99.58 402.19,99.17 401.22,98.71 400.24,98.19 399.26,97.59 398.33,96.88 397.47,96.06 396.68,95.14 395.97,94.13 395.37,93.04 394.89,91.87 394.51,90.64 394.22,89.37 394.00,88.06 393.87,86.70 393.84,85.30 393.89,83.85 394.00,82.36 394.19,80.79 394.45,79.15 394.80,77.41 395.27,75.59 395.86,73.65 396.64,71.65 397.68,69.68 398.99,67.80 400.61,66.17 402.51,64.97 404.61,64.19 406.83,64.04 409.05,64.44 411.16,65.23 413.09,66.48 414.79,67.97 416.29,69.49 417.62,71.00 418.81,72.47 419.89,73.89 420.87,75.28 421.78,76.65 422.62,77.99 423.41,79.32 424.16,80.65 424.86,82.00 425.51,83.38 426.08,84.81 426.57,86.28 426.96,87.81" fill="#ffd9ce"/>
<polygon points="426.35,89.37 426.30,90.88 426.03,92.37 425.51,93.78 424.72,95.07 423.72,96.21 422.56,97.17 421.17,97.86 419.73,98.33 418.48,98.80 417.35,99.26 416.26,99.67 415.18,99.99 414.11,100.22 413.05,100.37 412.02,100.47 411.02,100.52 410.03,100.52 409.05,100.47 408.09,100.39 407.13,100.25 406.19,100.05 405.25,99.81 404.32,99.51 403.40,99.16 402.47,98.78 401.53,98.34 400.58,97.84 399.65,97.26 398.75,96.59 397.92,95.80 397.15,94.92 396.47,93.95 395.89,92.90 395.42,91.78 395.05,90.60 394.77,89.37 394.56,88.11 394.44,86.80 394.41,85.45 394.46,84.06 394.56,82.62 394.74,81.11 394.99,79.53 395.33,77.86 395.79,76.11 396.37,74.26 397.13,72.35 398.14,70.48 399.41,68.70 400.97,67.17 402.80,66.05 404.81,65.35 406.94,65.24 409.05,65.65 411.06,66.41 412.89,67.59 414.51,68.99 415.95,70.42 417.22,71.84 418.37,73.24 419.40,74.59 420.35,75.91 421.22,77.21 422.02,78.49 422.78,79.76 423.49,81.03 424.17,82.32 424.79,83.65 425.33,85.01 425.79,86.42 426.16,87.88" fill="#ffd3c7"/>
<polygon points="425.54,89.37 425.49,90.81 425.23,92.23 424.73,93.57 423.98,94.81 423.04,95.89 421.93,96.81 420.61,97.47 419.26,97.94 418.06,98.38 416.98,98.82 415.94,99.21 414.91,99.52 413.88,99.73 412.87,99.88 411.89,99.97 410.93,100.02 409.98,100.02 409.05,99.98 408.13,99.90 407.22,99.77 406.31,99.59 405.42,99.36 404.53,99.07 403.64,98.75 402.74,98.38 401.84,97.96 400.93,97.49 400.03,96.94 399.17,96.29 398.37,95.54 397.63,94.70 396.97,93.77 396.41,92.76 395.95,91.68 395.59,90.55 395.32,89.37 395.12,88.15 395.01,86.90 394.98,85.60 395.02,84.27 395.13,82.88 395.29,81.43 395.53,79.91 395.86,78.31 396.31,76.63 396.88,74.87 397.62,73.05 398.60,71.27 399.83,69.60 401.33,68.17 403.09,67.14 405.02,66.50 407.04,66.44 409.05,66.85 410.96,67.58 412.70,68.69 414.24,70.01 415.61,71.35 416.83,72.69 417.92,74.00 418.92,75.28 419.82,76.54 420.65,77.77 421.43,78.99 422.15,80.20 422.83,81.42 423.48,82.65 424.06,83.91 424.57,85.21 425.02,86.56 425.36,87.95" fill="#ffcdbf"/>
<polygon points="424.73,89.37 424.68,90.74 424.42,92.08 423.95,93.37 423.24,94.54 422.35,95.57 421.30,96.44 420.06,97.08 418.78,97.54 417.65,97.97 416.61,98.38 415.62,98.75 414.63,99.04 413.65,99.24 412.69,99.38 411.76,99.47 410.84,99.52 409.94,99.52 409.05,99.49 408.17,99.41 407.30,99.29 406.44,99.12 405.58,98.91 404.73,98.64 403.88,98.34 403.02,97.99 402.15,97.59 401.28,97.14 400.42,96.62 399.59,96.00 398.82,95.28 398.11,94.48 397.47,93.59 396.93,92.62 396.48,91.59 396.13,90.50 395.87,89.37 395.68,88.20 395.57,87.00 395.55,85.75 395.59,84.47 395.69,83.14 395.84,81.75 396.08,80.29 396.40,78.76 396.83,77.15 397.39,75.48 398.12,73.76 399.06,72.07 400.25,70.50 401.70,69.17 403.38,68.22 405.22,67.66 407.15,67.64 409.05,68.05 410.85,68.76 412.50,69.80 413.97,71.03 415.27,72.28 416.43,73.54 417.48,74.77 418.43,75.98 419.30,77.16 420.09,78.33 420.83,79.49 421.52,80.64 422.17,81.80 422.78,82.97 423.34,84.17 423.82,85.41 424.24,86.69 424.57,88.02" fill="#ffc6b8"/>
<polygon points="423.92,89.37 423.86,90.67 423.62,91.94 423.17,93.16 422.51,94.27 421.66,95.25 420.67,96.08 419.50,96.69 418.30,97.14 417.23,97.55 416.24,97.95 415.29,98.29 414.36,98.56 413.42,98.75 412.51,98.89 411.62,98.97 410.75,99.02 409.90,99.02 409.05,98.99 408.22,98.93 407.39,98.81 406.56,98.66 405.75,98.45 404.93,98.21 404.11,97.92 403.29,97.60 402.47,97.22 401.63,96.79 400.80,96.29 400.01,95.70 399.27,95.02 398.59,94.25 397.97,93.40 397.45,92.48 397.01,91.50 396.67,90.46 396.42,89.37 396.24,88.25 396.14,87.10 396.12,85.91 396.16,84.68 396.25,83.40 396.40,82.07 396.62,80.67 396.93,79.20 397.35,77.68 397.90,76.08 398.61,74.46 399.52,72.87 400.67,71.40 402.06,70.17 403.67,69.30 405.43,68.82 407.25,68.84 409.05,69.25 410.75,69.93 412.31,70.91 413.69,72.05 414.93,73.21 416.04,74.39 417.04,75.54 417.94,76.67 418.77,77.79 419.53,78.89 420.23,79.99 420.89,81.08 421.51,82.18 422.09,83.29 422.62,84.44 423.07,85.62 423.47,86.83 423.77,88.09" fill="#ffc0b0"/>
<polygon points="423.10,89.37 423.05,90.60 422.82,91.80 422.40,92.95 421.77,94.00 420.98,94.93 420.04,95.72 418.95,96.30 417.83,96.74 416.81,97.14 415.88,97.51 414.97,97.83 414.08,98.08 413.20,98.26 412.33,98.39 411.49,98.47 410.66,98.52 409.85,98.53 409.05,98.50 408.26,98.44 407.47,98.34 406.69,98.19 405.91,98.00 405.13,97.78 404.35,97.51 403.57,97.20 402.78,96.85 401.98,96.44 401.19,95.97 400.43,95.41 399.72,94.76 399.06,94.03 398.47,93.22 397.96,92.34 397.54,91.40 397.21,90.41 396.97,89.37 396.80,88.30 396.71,87.20 396.69,86.06 396.72,84.89 396.81,83.66 396.95,82.39 397.16,81.05 397.46,79.65 397.88,78.20 398.41,76.69 399.10,75.16 399.98,73.67 401.09,72.30 402.42,71.16 403.96,70.38 405.63,69.97 407.36,70.04 409.05,70.46 410.65,71.11 412.11,72.01 413.42,73.06 414.59,74.14 415.64,75.23 416.59,76.31 417.46,77.37 418.24,78.42 418.97,79.46 419.63,80.49 420.26,81.53 420.84,82.56 421.39,83.62 421.89,84.70 422.32,85.82 422.69,86.97 422.97,88.16" fill="#ffb9a8"/>
<polygon points="422.29,89.37 422.24,90.53 422.01,91.66 421.62,92.74 421.03,93.73 420.29,94.61 419.41,95.35 418.39,95.92 417.35,96.34 416.40,96.72 415.51,97.07 414.65,97.37 413.80,97.61 412.97,97.78 412.15,97.90 411.36,97.98 410.58,98.02 409.81,98.03 409.05,98.01 408.30,97.95 407.55,97.86 406.81,97.73 406.07,97.55 405.33,97.34 404.59,97.10 403.84,96.81 403.09,96.48 402.33,96.09 401.57,95.65 400.85,95.12 400.17,94.50 399.54,93.81 398.98,93.04 398.48,92.20 398.07,91.31 397.75,90.36 397.52,89.37 397.36,88.35 397.28,87.30 397.26,86.21 397.29,85.09 397.37,83.92 397.50,82.70 397.70,81.43 398.00,80.10 398.40,78.72 398.92,77.30 399.59,75.86 400.44,74.46 401.51,73.20 402.79,72.16 404.25,71.46 405.83,71.13 407.46,71.24 409.05,71.66 410.55,72.28 411.92,73.12 413.15,74.08 414.25,75.08 415.25,76.08 416.15,77.08 416.97,78.06 417.72,79.04 418.40,80.02 419.04,80.99 419.63,81.97 420.18,82.95 420.70,83.94 421.17,84.96 421.57,86.02 421.92,87.10 422.17,88.22" fill="#ffb3a0"/>
<polygon points="421.48,89.37 421.42,90.46 421.21,91.52 420.84,92.53 420.30,93.47 419.61,94.29 418.78,94.99 417.84,95.53 416.88,95.94 415.98,96.30 415.14,96.63 414.33,96.91 413.53,97.13 412.74,97.29 411.97,97.40 411.22,97.48 410.49,97.52 409.76,97.53 409.05,97.51 408.34,97.46 407.64,97.38 406.94,97.26 406.24,97.10 405.54,96.91 404.83,96.68 404.12,96.42 403.40,96.10 402.68,95.75 401.96,95.32 401.27,94.82 400.62,94.24 400.02,93.58 399.48,92.86 399.00,92.07 398.60,91.22 398.29,90.31 398.06,89.37 397.92,88.40 397.84,87.40 397.83,86.37 397.86,85.30 397.93,84.19 398.05,83.02 398.25,81.81 398.53,80.54 398.92,79.24 399.43,77.91 400.08,76.56 400.90,75.26 401.93,74.10 403.15,73.16 404.54,72.54 406.04,72.29 407.57,72.44 409.05,72.86 410.44,73.46 411.72,74.23 412.87,75.10 413.92,76.01 414.85,76.93 415.71,77.85 416.48,78.76 417.19,79.67 417.84,80.58 418.44,81.49 419.00,82.41 419.52,83.33 420.00,84.26 420.44,85.23 420.82,86.22 421.14,87.24 421.38,88.29" fill="#ffac97"/>
<polygon points="420.67,89.37 420.61,90.38 420.41,91.38 420.06,92.32 419.56,93.20 418.92,93.97 418.15,94.63 417.29,95.14 416.40,95.54 415.57,95.89 414.77,96.19 414.00,96.45 413.25,96.65 412.51,96.80 411.79,96.91 411.09,96.98 410.40,97.02 409.72,97.03 409.05,97.02 408.39,96.98 407.72,96.90 407.06,96.80 406.40,96.65 405.74,96.48 405.07,96.27 404.39,96.02 403.71,95.73 403.03,95.40 402.34,95.00 401.69,94.53 401.07,93.98 400.50,93.36 399.98,92.68 399.52,91.93 399.13,91.12 398.82,90.27 398.61,89.37 398.48,88.45 398.41,87.50 398.40,86.52 398.42,85.50 398.49,84.45 398.61,83.34 398.79,82.19 399.06,80.99 399.44,79.77 399.94,78.52 400.57,77.26 401.36,76.06 402.35,75.00 403.51,74.16 404.83,73.62 406.24,73.44 407.67,73.64 409.05,74.06 410.34,74.64 411.53,75.34 412.60,76.12 413.58,76.94 414.46,77.78 415.26,78.61 416.00,79.45 416.67,80.30 417.28,81.14 417.84,81.99 418.37,82.85 418.86,83.71 419.31,84.59 419.72,85.49 420.07,86.42 420.37,87.38 420.58,88.36" fill="#ffa58f"/>
<polygon points="419.86,89.37 419.79,90.31 419.60,91.23 419.28,92.11 418.82,92.93 418.23,93.65 417.52,94.26 416.73,94.75 415.93,95.14 415.15,95.47 414.40,95.75 413.68,95.99 412.98,96.17 412.29,96.31 411.61,96.41 410.96,96.48 410.31,96.52 409.68,96.54 409.05,96.53 408.43,96.49 407.81,96.43 407.19,96.33 406.56,96.20 405.94,96.04 405.31,95.85 404.67,95.63 404.03,95.36 403.38,95.05 402.73,94.68 402.11,94.23 401.52,93.72 400.97,93.14 400.48,92.49 400.04,91.79 399.66,91.03 399.36,90.22 399.16,89.37 399.04,88.50 398.98,87.60 398.97,86.67 398.99,85.71 399.05,84.71 399.16,83.66 399.33,82.57 399.59,81.44 399.97,80.29 400.45,79.13 401.06,77.96 401.82,76.85 402.77,75.90 403.88,75.16 405.12,74.71 406.45,74.60 407.78,74.84 409.05,75.27 410.24,75.81 411.33,76.44 412.33,77.14 413.24,77.87 414.06,78.62 414.82,79.38 415.51,80.15 416.14,80.92 416.72,81.71 417.25,82.49 417.74,83.29 418.20,84.09 418.62,84.91 418.99,85.75 419.32,86.62 419.59,87.51 419.78,88.43" fill="#ff9e87"/>
<path d="M406.32,75.73C407.71,75.79 409.58,76.62 411.07,77.51C412.55,78.40 414.03,79.68 415.22,81.07C416.41,82.45 417.55,84.33 418.19,85.81C418.82,87.30 419.16,88.68 419.02,89.97C418.88,91.25 418.38,92.58 417.36,93.53C416.33,94.47 414.49,95.27 412.85,95.66C411.21,96.06 409.19,96.16 407.51,95.90C405.83,95.64 404.01,95.01 402.76,94.12C401.52,93.23 400.57,91.94 400.03,90.56C399.50,89.18 399.50,87.40 399.56,85.81C399.62,84.23 399.86,82.51 400.39,81.07C400.92,79.62 401.77,78.04 402.76,77.15C403.75,76.26 404.94,75.67 406.32,75.73Z" fill="#ff7854"/>
<polygon points="418.33,89.37 418.27,90.18 418.10,90.97 417.83,91.72 417.44,92.43 416.94,93.05 416.33,93.58 415.67,94.01 414.99,94.36 414.33,94.65 413.68,94.89 413.05,95.09 412.44,95.24 411.84,95.36 411.26,95.45 410.70,95.51 410.14,95.55 409.59,95.56 409.05,95.56 408.51,95.53 407.97,95.48 407.44,95.40 406.89,95.30 406.35,95.17 405.80,95.01 405.24,94.82 404.67,94.59 404.11,94.32 403.54,94.00 402.99,93.61 402.48,93.17 401.99,92.66 401.55,92.10 401.16,91.49 400.82,90.82 400.56,90.12 400.38,89.37 400.27,88.61 400.22,87.82 400.21,87.01 400.23,86.16 400.28,85.28 400.38,84.37 400.53,83.41 400.76,82.42 401.10,81.42 401.54,80.42 402.09,79.43 402.77,78.49 403.61,77.70 404.58,77.10 405.67,76.76 406.82,76.73 407.97,76.99 409.05,77.39 410.06,77.87 410.99,78.40 411.84,78.96 412.62,79.56 413.34,80.18 413.99,80.81 414.60,81.45 415.15,82.11 415.65,82.78 416.11,83.45 416.53,84.13 416.93,84.83 417.29,85.53 417.61,86.26 417.89,87.00 418.12,87.77 418.27,88.57" fill="#ff714e"/>
<polygon points="417.62,89.37 417.56,90.12 417.41,90.85 417.15,91.54 416.80,92.19 416.33,92.77 415.77,93.25 415.16,93.65 414.54,93.98 413.92,94.24 413.32,94.47 412.74,94.65 412.18,94.79 411.63,94.90 411.09,94.98 410.57,95.04 410.06,95.07 409.55,95.09 409.05,95.08 408.55,95.06 408.06,95.01 407.56,94.94 407.06,94.84 406.56,94.72 406.05,94.57 405.53,94.40 405.01,94.19 404.49,93.94 403.96,93.64 403.46,93.29 402.98,92.88 402.54,92.41 402.13,91.89 401.77,91.32 401.46,90.71 401.21,90.06 401.05,89.37 400.95,88.66 400.90,87.94 400.89,87.19 400.91,86.41 400.96,85.60 401.05,84.75 401.19,83.87 401.40,82.95 401.71,82.03 402.12,81.11 402.62,80.19 403.25,79.32 404.03,78.60 404.93,78.04 405.93,77.73 406.99,77.70 408.05,77.94 409.05,78.31 409.98,78.76 410.84,79.24 411.63,79.76 412.35,80.31 413.01,80.88 413.61,81.47 414.17,82.06 414.68,82.67 415.14,83.28 415.57,83.91 415.96,84.54 416.32,85.18 416.65,85.83 416.95,86.50 417.21,87.19 417.42,87.90 417.56,88.63" fill="#ff6b48"/>
<polygon points="416.90,89.37 416.85,90.06 416.71,90.72 416.48,91.36 416.15,91.96 415.73,92.49 415.21,92.93 414.65,93.29 414.08,93.59 413.52,93.84 412.97,94.04 412.44,94.21 411.92,94.34 411.41,94.44 410.92,94.51 410.44,94.57 409.97,94.60 409.51,94.61 409.05,94.61 408.60,94.58 408.14,94.54 407.68,94.47 407.23,94.39 406.76,94.27 406.30,94.14 405.83,93.98 405.35,93.79 404.87,93.56 404.39,93.29 403.93,92.96 403.49,92.58 403.08,92.16 402.71,91.68 402.38,91.16 402.09,90.60 401.86,90.00 401.71,89.37 401.62,88.72 401.58,88.06 401.57,87.37 401.59,86.66 401.63,85.91 401.71,85.14 401.84,84.33 402.04,83.49 402.32,82.65 402.70,81.80 403.16,80.96 403.73,80.16 404.44,79.49 405.27,78.99 406.19,78.70 407.16,78.67 408.13,78.89 409.05,79.23 409.90,79.64 410.69,80.08 411.41,80.56 412.07,81.07 412.68,81.59 413.23,82.13 413.74,82.67 414.21,83.23 414.63,83.79 415.02,84.36 415.38,84.94 415.72,85.53 416.02,86.12 416.29,86.74 416.53,87.37 416.73,88.02 416.85,88.69" fill="#ff6442"/>
<polygon points="416.19,89.37 416.14,89.99 416.01,90.60 415.80,91.18 415.50,91.72 415.12,92.20 414.65,92.61 414.14,92.94 413.62,93.21 413.11,93.43 412.61,93.62 412.13,93.77 411.66,93.89 411.20,93.98 410.75,94.05 410.32,94.09 409.89,94.12 409.47,94.13 409.05,94.13 408.64,94.11 408.22,94.07 407.81,94.01 407.39,93.93 406.97,93.83 406.55,93.71 406.12,93.56 405.68,93.38 405.25,93.18 404.81,92.93 404.39,92.64 403.99,92.29 403.62,91.90 403.28,91.47 402.98,91.00 402.72,90.49 402.52,89.94 402.38,89.37 402.30,88.78 402.26,88.18 402.25,87.55 402.27,86.90 402.31,86.23 402.38,85.52 402.50,84.78 402.68,84.02 402.94,83.26 403.27,82.49 403.69,81.72 404.22,81.00 404.86,80.39 405.61,79.93 406.45,79.67 407.34,79.65 408.22,79.85 409.05,80.16 409.82,80.53 410.54,80.93 411.20,81.36 411.80,81.82 412.35,82.30 412.85,82.79 413.32,83.28 413.74,83.79 414.13,84.30 414.48,84.82 414.81,85.34 415.11,85.87 415.39,86.42 415.64,86.98 415.85,87.55 416.03,88.14 416.15,88.75" fill="#ff5e3d"/>
<polygon points="415.48,89.37 415.43,89.93 415.32,90.48 415.13,91.00 414.86,91.49 414.51,91.92 414.09,92.28 413.63,92.58 413.17,92.83 412.70,93.03 412.26,93.19 411.82,93.33 411.40,93.44 410.98,93.52 410.58,93.58 410.19,93.62 409.80,93.65 409.43,93.66 409.05,93.65 408.68,93.64 408.31,93.60 407.93,93.55 407.56,93.47 407.18,93.38 406.80,93.27 406.41,93.14 406.02,92.98 405.63,92.80 405.24,92.57 404.86,92.31 404.50,92.00 404.17,91.65 403.86,91.26 403.59,90.84 403.36,90.38 403.17,89.89 403.05,89.37 402.98,88.84 402.94,88.30 402.93,87.73 402.95,87.15 402.98,86.54 403.05,85.91 403.15,85.24 403.31,84.56 403.55,83.87 403.85,83.18 404.23,82.49 404.70,81.84 405.28,81.29 405.96,80.88 406.71,80.64 407.51,80.62 408.30,80.80 409.05,81.08 409.75,81.41 410.39,81.77 410.98,82.16 411.52,82.58 412.02,83.01 412.47,83.44 412.89,83.89 413.27,84.34 413.62,84.81 413.94,85.27 414.23,85.75 414.50,86.22 414.75,86.71 414.98,87.22 415.17,87.73 415.33,88.27 415.44,88.81" fill="#ff5737"/>
<polygon points="414.76,89.37 414.73,89.87 414.62,90.35 414.45,90.82 414.21,91.25 413.91,91.64 413.53,91.96 413.12,92.22 412.71,92.44 412.30,92.62 411.90,92.77 411.51,92.89 411.14,92.98 410.77,93.06 410.41,93.11 410.06,93.15 409.72,93.17 409.38,93.18 409.05,93.18 408.72,93.16 408.39,93.13 408.06,93.08 407.72,93.02 407.39,92.94 407.05,92.84 406.71,92.72 406.36,92.58 406.01,92.42 405.66,92.22 405.32,91.98 405.00,91.71 404.71,91.40 404.44,91.05 404.20,90.67 403.99,90.27 403.82,89.83 403.71,89.37 403.65,88.90 403.62,88.42 403.61,87.92 403.63,87.40 403.65,86.86 403.71,86.29 403.81,85.70 403.95,85.09 404.16,84.48 404.43,83.86 404.77,83.25 405.18,82.67 405.70,82.19 406.30,81.82 406.97,81.61 407.68,81.59 408.38,81.75 409.05,82.00 409.67,82.30 410.24,82.62 410.77,82.97 411.25,83.33 411.69,83.71 412.09,84.10 412.46,84.50 412.80,84.90 413.11,85.31 413.39,85.73 413.66,86.15 413.90,86.57 414.12,87.01 414.32,87.46 414.49,87.91 414.63,88.39 414.73,88.88" fill="#ff5131"/>
<polygon points="414.05,89.37 414.02,89.81 413.92,90.23 413.78,90.64 413.57,91.02 413.30,91.35 412.97,91.64 412.61,91.87 412.25,92.06 411.89,92.21 411.54,92.34 411.20,92.45 410.88,92.53 410.55,92.60 410.24,92.64 409.94,92.68 409.64,92.70 409.34,92.71 409.05,92.70 408.76,92.69 408.47,92.66 408.18,92.62 407.89,92.56 407.60,92.49 407.30,92.41 407.00,92.30 406.69,92.18 406.39,92.04 406.08,91.86 405.79,91.66 405.51,91.42 405.25,91.14 405.01,90.84 404.80,90.51 404.62,90.15 404.48,89.77 404.38,89.37 404.33,88.96 404.30,88.53 404.29,88.10 404.30,87.64 404.33,87.17 404.38,86.68 404.46,86.16 404.59,85.63 404.77,85.09 405.01,84.55 405.30,84.02 405.67,83.51 406.12,83.09 406.65,82.76 407.23,82.58 407.85,82.56 408.47,82.70 409.05,82.92 409.59,83.18 410.09,83.46 410.55,83.77 410.97,84.09 411.36,84.42 411.71,84.76 412.04,85.11 412.33,85.46 412.60,85.82 412.85,86.18 413.08,86.55 413.29,86.92 413.49,87.30 413.66,87.70 413.81,88.10 413.93,88.51 414.02,88.94" fill="#ff4a2b"/>
<polygon points="413.33,89.37 413.31,89.75 413.23,90.11 413.10,90.46 412.92,90.78 412.69,91.07 412.41,91.31 412.11,91.51 411.79,91.67 411.49,91.81 411.19,91.92 410.90,92.01 410.61,92.08 410.34,92.14 410.07,92.18 409.81,92.21 409.55,92.22 409.30,92.23 409.05,92.23 408.80,92.21 408.55,92.19 408.31,92.16 408.06,92.11 407.80,92.05 407.55,91.97 407.29,91.89 407.03,91.78 406.77,91.66 406.51,91.51 406.26,91.33 406.02,91.12 405.79,90.89 405.59,90.63 405.41,90.35 405.25,90.04 405.13,89.72 405.05,89.37 405.00,89.02 404.98,88.65 404.97,88.28 404.98,87.89 405.00,87.49 405.05,87.06 405.12,86.62 405.23,86.16 405.38,85.70 405.58,85.24 405.84,84.78 406.15,84.35 406.54,83.98 406.99,83.71 407.49,83.55 408.02,83.54 408.55,83.66 409.05,83.84 409.52,84.06 409.94,84.31 410.34,84.57 410.70,84.84 411.03,85.13 411.33,85.42 411.61,85.72 411.86,86.02 412.10,86.33 412.31,86.64 412.50,86.95 412.69,87.27 412.85,87.60 413.00,87.93 413.13,88.28 413.24,88.63 413.31,89.00" fill="#ff4325"/>
<polygon points="412.62,89.37 412.60,89.68 412.53,89.99 412.43,90.28 412.28,90.55 412.09,90.79 411.85,90.99 411.60,91.16 411.34,91.29 411.08,91.40 410.83,91.49 410.59,91.57 410.35,91.63 410.12,91.68 409.90,91.71 409.68,91.73 409.47,91.75 409.26,91.75 409.05,91.75 408.84,91.74 408.64,91.72 408.43,91.69 408.22,91.65 408.01,91.60 407.80,91.54 407.58,91.47 407.37,91.38 407.15,91.28 406.93,91.15 406.72,91.00 406.52,90.83 406.34,90.64 406.17,90.42 406.02,90.19 405.89,89.93 405.78,89.66 405.72,89.37 405.68,89.08 405.66,88.77 405.65,88.46 405.66,88.14 405.68,87.80 405.72,87.45 405.77,87.08 405.86,86.70 405.99,86.32 406.16,85.93 406.37,85.55 406.63,85.19 406.96,84.88 407.33,84.65 407.75,84.52 408.19,84.51 408.63,84.61 409.05,84.76 409.44,84.95 409.80,85.15 410.12,85.37 410.42,85.60 410.70,85.84 410.95,86.08 411.18,86.33 411.40,86.58 411.59,86.84 411.77,87.10 411.93,87.36 412.08,87.62 412.22,87.90 412.34,88.17 412.45,88.46 412.54,88.76 412.60,89.06" fill="#ff3d1f"/>
<polygon points="411.91,89.37 411.89,89.62 411.84,89.86 411.75,90.10 411.63,90.31 411.48,90.50 411.29,90.67 411.09,90.80 410.88,90.91 410.67,91.00 410.48,91.07 410.28,91.13 410.09,91.18 409.91,91.22 409.73,91.24 409.56,91.26 409.39,91.27 409.22,91.28 409.05,91.28 408.89,91.27 408.72,91.25 408.55,91.23 408.39,91.20 408.22,91.16 408.05,91.11 407.88,91.05 407.70,90.98 407.53,90.89 407.35,90.80 407.19,90.68 407.03,90.54 406.88,90.39 406.74,90.21 406.62,90.02 406.52,89.82 406.44,89.60 406.38,89.37 406.35,89.14 406.34,88.89 406.33,88.64 406.34,88.39 406.35,88.11 406.38,87.83 406.43,87.54 406.50,87.23 406.60,86.93 406.74,86.62 406.91,86.31 407.12,86.02 407.38,85.78 407.68,85.60 408.01,85.49 408.36,85.48 408.72,85.56 409.05,85.69 409.36,85.83 409.65,86.00 409.91,86.17 410.15,86.35 410.37,86.54 410.57,86.74 410.76,86.94 410.93,87.14 411.08,87.34 411.22,87.55 411.35,87.76 411.47,87.97 411.59,88.19 411.68,88.41 411.77,88.64 411.84,88.88 411.89,89.12" fill="#ff3619"/>
<polygon points="411.19,89.37 411.18,89.56 411.14,89.74 411.08,89.92 410.99,90.08 410.87,90.22 410.73,90.34 410.58,90.44 410.42,90.52 410.27,90.59 410.12,90.65 409.97,90.69 409.83,90.73 409.70,90.75 409.56,90.78 409.43,90.79 409.30,90.80 409.18,90.80 409.05,90.80 408.93,90.79 408.80,90.78 408.68,90.76 408.55,90.74 408.43,90.71 408.30,90.67 408.17,90.63 408.04,90.58 407.91,90.51 407.78,90.44 407.65,90.35 407.53,90.25 407.42,90.13 407.32,90.00 407.23,89.86 407.15,89.71 407.09,89.54 407.05,89.37 407.03,89.20 407.01,89.01 407.01,88.83 407.02,88.63 407.03,88.43 407.05,88.22 407.08,88.00 407.14,87.77 407.22,87.54 407.32,87.31 407.44,87.08 407.60,86.86 407.79,86.68 408.02,86.54 408.27,86.46 408.54,86.46 408.80,86.51 409.05,86.61 409.28,86.72 409.50,86.84 409.69,86.97 409.88,87.11 410.04,87.25 410.19,87.40 410.33,87.55 410.46,87.70 410.57,87.85 410.68,88.01 410.78,88.16 410.87,88.32 410.95,88.49 411.03,88.65 411.09,88.83 411.14,89.00 411.18,89.19" fill="#ff3014"/>
<polygon points="410.48,89.37 410.47,89.50 410.44,89.62 410.40,89.73 410.34,89.84 410.26,89.94 410.17,90.02 410.07,90.09 409.97,90.14 409.86,90.18 409.76,90.22 409.67,90.25 409.57,90.28 409.48,90.29 409.39,90.31 409.30,90.32 409.22,90.32 409.13,90.33 409.05,90.32 408.97,90.32 408.89,90.31 408.80,90.30 408.72,90.28 408.64,90.26 408.55,90.24 408.46,90.21 408.38,90.18 408.29,90.13 408.20,90.08 408.12,90.03 408.04,89.96 407.97,89.88 407.90,89.79 407.84,89.70 407.79,89.60 407.74,89.49 407.72,89.37 407.70,89.25 407.69,89.13 407.69,89.01 407.69,88.88 407.70,88.74 407.72,88.60 407.74,88.46 407.78,88.30 407.83,88.15 407.90,88.00 407.98,87.84 408.08,87.70 408.21,87.58 408.36,87.48 408.53,87.43 408.71,87.43 408.88,87.47 409.05,87.53 409.21,87.60 409.35,87.68 409.48,87.77 409.60,87.86 409.71,87.96 409.81,88.06 409.90,88.15 409.99,88.26 410.07,88.36 410.14,88.46 410.20,88.57 410.26,88.67 410.32,88.78 410.37,88.89 410.41,89.01 410.45,89.13 410.47,89.25" fill="#ff290e"/>
<polygon points="409.76,89.37 409.76,89.43 409.75,89.50 409.73,89.55 409.70,89.61 409.66,89.66 409.61,89.70 409.56,89.73 409.51,89.76 409.46,89.78 409.41,89.80 409.36,89.81 409.31,89.82 409.27,89.83 409.22,89.84 409.18,89.84 409.13,89.85 409.09,89.85 409.05,89.85 409.01,89.85 408.97,89.84 408.93,89.84 408.88,89.83 408.84,89.82 408.80,89.81 408.76,89.79 408.71,89.77 408.67,89.75 408.63,89.73 408.58,89.70 408.55,89.66 408.51,89.63 408.47,89.58 408.44,89.54 408.42,89.48 408.40,89.43 408.38,89.37 408.38,89.31 408.37,89.25 408.37,89.19 408.37,89.13 408.38,89.06 408.38,88.99 408.40,88.91 408.41,88.84 408.44,88.76 408.47,88.68 408.52,88.61 408.57,88.54 408.63,88.47 408.71,88.43 408.79,88.40 408.88,88.40 408.97,88.42 409.05,88.45 409.13,88.49 409.20,88.53 409.27,88.57 409.33,88.62 409.38,88.67 409.43,88.71 409.48,88.76 409.52,88.81 409.56,88.87 409.59,88.92 409.63,88.97 409.66,89.02 409.68,89.08 409.71,89.13 409.73,89.19 409.75,89.25 409.76,89.31" fill="#ff2308"/>
<path d="M407.51,59.36C408.99,59.55 410.67,59.95 412.25,60.90C413.84,61.85 415.42,63.37 417.00,65.05C418.58,66.73 420.26,68.91 421.75,70.98C423.23,73.06 424.71,75.43 425.90,77.51C427.08,79.58 428.11,81.46 428.86,83.44C429.62,85.42 430.31,87.49 430.41,89.37C430.51,91.25 430.21,93.13 429.46,94.71C428.71,96.29 427.28,97.88 425.90,98.86C424.51,99.85 422.73,100.05 421.15,100.64C419.57,101.24 418.09,102.03 416.41,102.42C414.73,102.82 412.85,103.02 411.07,103.02C409.29,103.02 407.51,102.86 405.73,102.42C403.95,101.99 401.97,101.20 400.39,100.41C398.81,99.62 397.42,98.82 396.24,97.68C395.05,96.53 394.02,95.21 393.27,93.53C392.52,91.84 391.99,89.57 391.73,87.59C391.47,85.62 391.53,83.84 391.73,81.66C391.93,79.49 392.36,76.82 392.92,74.54C393.47,72.27 394.10,69.99 395.05,68.02C396.00,66.04 397.23,64.06 398.61,62.68C399.99,61.29 401.87,60.27 403.36,59.71C404.84,59.16 406.03,59.16 407.51,59.36Z" fill="none" stroke="#000" stroke-width="1.0"/>
</g>
<path d="M406.32,75.73C407.71,75.79 409.58,76.62 411.07,77.51C412.55,78.40 414.03,79.68 415.22,81.07C416.41,82.45 417.55,84.33 418.19,85.81C418.82,87.30 419.16,88.68 419.02,89.97C418.88,91.25 418.38,92.58 417.36,93.53C416.33,94.47 414.49,95.27 412.85,95.66C411.21,96.06 409.19,96.16 407.51,95.90C405.83,95.64 404.01,95.01 402.76,94.12C401.52,93.23 400.57,91.94 400.03,90.56C399.50,89.18 399.50,87.40 399.56,85.81C399.62,84.23 399.86,82.51 400.39,81.07C400.92,79.62 401.77,78.04 402.76,77.15C403.75,76.26 404.94,75.67 406.32,75.73Z" fill="none" stroke="#000" stroke-width="1.0"/>
<path d="M406.00,89.50H413.00M409.50,86.10V92.90" stroke="#000" stroke-width="1" fill="none"/>
<rect x="355.05" y="38.35" width="97.05" height="74.45" fill="none" stroke="#000" stroke-width="1"/>
<path d="M358.50,112.80v6.6M380.95,112.80v6.6M403.40,112.80v6.6M425.85,112.80v6.6M448.30,112.80v6.6M355.05,109.90h-6.8M355.05,99.53h-6.8M355.05,89.17h-6.8M355.05,78.80h-6.8M355.05,68.43h-6.8M355.05,58.07h-6.8M355.05,47.70h-6.8" stroke="#000" stroke-width="1" fill="none"/>
<text class="a" x="358.50" y="135.60">0.00</text>
<text class="a" x="403.40" y="135.60">0.04</text>
<text class="a" x="448.30" y="135.60">0.08</text>
<text class="a" transform="translate(340.05,109.90) rotate(-90)">0</text>
<text class="a" transform="translate(340.05,89.17) rotate(-90)">4</text>
<text class="a" transform="translate(340.05,68.43) rotate(-90)">8</text>
<text class="a" transform="translate(340.05,47.70) rotate(-90)">12</text>
<text class="p" x="403.40" y="148.60">π</text>
<g transform="translate(321.65,84.28) rotate(-90)">
<text class="g" x="0" y="0">γ</text><path d="M0.1,-6.2h4.6" stroke="#000" stroke-width="1"/>
<text class="s" x="5.30" y="3.50" letter-spacing="-1.85">CC</text><text class="ss" x="12.80" y="4.80">1</text>
</g>
<text class="t" x="402.98" y="9.05" style="font-size:13.3px">MiD+LoF case control</text>
<text class="t" x="403.58" y="25.05">(ASD)</text>
</g>
<g>
<g>
<path d="M71.46,207.05C72.47,207.25 74.00,207.95 75.27,209.35C76.55,210.75 77.82,213.04 79.09,215.46C80.37,217.87 81.77,221.06 82.91,223.86C84.06,226.66 85.20,229.84 85.97,232.26C86.73,234.68 87.37,236.46 87.49,238.37C87.62,240.28 87.37,242.06 86.73,243.71C86.09,245.37 84.82,247.28 83.68,248.30C82.53,249.31 81.13,249.70 79.86,249.82C78.58,249.95 77.31,249.70 76.04,249.06C74.77,248.42 73.37,247.28 72.22,246.00C71.07,244.73 70.06,243.20 69.16,241.42C68.27,239.64 67.51,237.48 66.87,235.31C66.24,233.15 65.66,230.73 65.35,228.44C65.03,226.15 64.90,223.73 64.96,221.57C65.03,219.40 65.35,217.24 65.73,215.46C66.11,213.67 66.68,212.08 67.26,210.87C67.83,209.66 68.46,208.84 69.16,208.20C69.86,207.56 70.44,206.86 71.46,207.05Z" fill="#fdeaed"/>
<polygon points="85.57,232.41 85.89,233.46 86.22,234.58 86.55,235.80 86.81,237.11 86.94,238.49 86.91,239.92 86.70,241.38 86.32,242.83 85.72,244.23 84.95,245.58 84.01,246.85 82.88,247.96 81.50,248.72 79.98,249.12 78.40,249.20 76.80,248.86 75.28,248.13 73.90,247.14 72.71,246.05 71.69,244.92 70.85,243.79 70.15,242.71 69.58,241.68 69.10,240.73 68.70,239.84 68.36,239.01 68.07,238.24 67.81,237.52 67.58,236.84 67.37,236.18 67.17,235.55 66.99,234.93 66.81,234.31 66.65,233.69 66.49,233.06 66.33,232.41 66.18,231.73 66.03,231.02 65.88,230.26 65.74,229.44 65.60,228.54 65.49,227.55 65.38,226.45 65.30,225.20 65.26,223.77 65.27,222.13 65.39,220.25 65.65,218.12 66.12,215.72 66.89,213.16 68.07,210.67 69.73,208.78 71.77,208.06 73.90,209.02 75.79,210.82 77.31,213.07 78.52,215.19 79.49,217.05 80.29,218.71 80.96,220.18 81.54,221.50 82.04,222.70 82.50,223.81 82.91,224.85 83.30,225.83 83.65,226.78 83.99,227.70 84.32,228.62 84.64,229.53 84.95,230.46 85.26,231.42" fill="#fde9ec"/>
<polygon points="85.12,232.41 85.41,233.42 85.72,234.49 86.02,235.66 86.25,236.91 86.36,238.22 86.32,239.58 86.12,240.97 85.75,242.35 85.19,243.70 84.45,244.99 83.57,246.22 82.49,247.29 81.19,248.04 79.74,248.47 78.23,248.58 76.70,248.28 75.23,247.61 73.90,246.67 72.74,245.62 71.76,244.53 70.94,243.44 70.27,242.39 69.71,241.40 69.24,240.48 68.85,239.62 68.52,238.82 68.24,238.07 67.99,237.37 67.76,236.71 67.56,236.07 67.37,235.46 67.19,234.85 67.02,234.25 66.86,233.65 66.71,233.04 66.55,232.41 66.41,231.75 66.26,231.06 66.12,230.33 65.99,229.53 65.86,228.66 65.76,227.71 65.66,226.64 65.59,225.44 65.56,224.07 65.58,222.49 65.70,220.70 65.97,218.67 66.42,216.37 67.17,213.92 68.31,211.54 69.90,209.73 71.85,209.02 73.90,209.90 75.72,211.59 77.20,213.71 78.37,215.73 79.32,217.52 80.09,219.13 80.74,220.56 81.30,221.85 81.79,223.01 82.22,224.09 82.62,225.09 82.98,226.05 83.32,226.97 83.64,227.87 83.95,228.75 84.25,229.64 84.54,230.53 84.83,231.45" fill="#fde8ec"/>
<polygon points="84.67,232.41 84.94,233.38 85.22,234.41 85.48,235.51 85.69,236.70 85.78,237.95 85.74,239.24 85.54,240.56 85.19,241.88 84.65,243.16 83.96,244.40 83.12,245.58 82.10,246.62 80.88,247.37 79.50,247.81 78.06,247.96 76.60,247.71 75.18,247.08 73.90,246.19 72.78,245.19 71.83,244.14 71.04,243.09 70.38,242.08 69.84,241.12 69.39,240.23 69.01,239.39 68.69,238.62 68.41,237.90 68.17,237.22 67.95,236.57 67.75,235.96 67.57,235.36 67.40,234.78 67.23,234.20 67.08,233.61 66.93,233.02 66.78,232.41 66.64,231.78 66.50,231.11 66.37,230.39 66.24,229.62 66.12,228.78 66.02,227.86 65.94,226.84 65.88,225.68 65.86,224.37 65.89,222.86 66.01,221.15 66.28,219.21 66.72,217.02 67.45,214.68 68.54,212.42 70.07,210.67 71.94,209.98 73.90,210.78 75.65,212.35 77.08,214.36 78.22,216.27 79.15,218.00 79.90,219.55 80.52,220.94 81.06,222.19 81.53,223.32 81.94,224.37 82.32,225.34 82.67,226.27 82.99,227.16 83.30,228.03 83.59,228.88 83.87,229.74 84.14,230.60 84.41,231.49" fill="#fce7eb"/>
<polygon points="84.22,232.41 84.46,233.33 84.71,234.32 84.95,235.37 85.13,236.50 85.20,237.68 85.15,238.91 84.96,240.16 84.62,241.41 84.12,242.63 83.47,243.81 82.68,244.94 81.72,245.95 80.56,246.70 79.27,247.15 77.90,247.33 76.50,247.14 75.14,246.56 73.90,245.72 72.82,244.76 71.90,243.75 71.13,242.75 70.49,241.77 69.97,240.84 69.53,239.98 69.17,239.17 68.86,238.42 68.59,237.72 68.35,237.06 68.14,236.44 67.95,235.85 67.77,235.27 67.60,234.70 67.44,234.14 67.29,233.58 67.15,233.00 67.01,232.41 66.87,231.80 66.74,231.15 66.61,230.46 66.49,229.71 66.38,228.91 66.29,228.02 66.22,227.03 66.17,225.93 66.16,224.67 66.20,223.23 66.33,221.60 66.59,219.75 67.02,217.67 67.73,215.45 68.78,213.29 70.23,211.62 72.02,210.94 73.90,211.66 75.59,213.12 76.97,215.00 78.08,216.82 78.97,218.47 79.70,219.97 80.30,221.32 80.82,222.53 81.27,223.63 81.67,224.64 82.03,225.59 82.36,226.49 82.66,227.35 82.95,228.19 83.22,229.02 83.48,229.84 83.74,230.68 83.98,231.53" fill="#fce6ea"/>
<polygon points="83.77,232.41 83.99,233.29 84.21,234.23 84.41,235.23 84.57,236.29 84.62,237.41 84.57,238.57 84.38,239.75 84.06,240.93 83.58,242.09 82.97,243.22 82.23,244.31 81.33,245.29 80.25,246.02 79.03,246.50 77.73,246.71 76.40,246.56 75.09,246.04 73.90,245.24 72.86,244.33 71.97,243.37 71.22,242.40 70.61,241.46 70.10,240.56 69.68,239.73 69.32,238.95 69.02,238.22 68.76,237.55 68.53,236.91 68.33,236.31 68.14,235.73 67.97,235.18 67.81,234.63 67.65,234.08 67.51,233.54 67.37,232.98 67.23,232.41 67.10,231.82 66.98,231.19 66.85,230.52 66.74,229.81 66.64,229.03 66.56,228.18 66.50,227.23 66.46,226.17 66.46,224.97 66.51,223.60 66.64,222.05 66.90,220.29 67.33,218.32 68.00,216.21 69.01,214.16 70.40,212.57 72.11,211.90 73.90,212.54 75.52,213.89 76.86,215.64 77.93,217.36 78.80,218.95 79.50,220.40 80.08,221.70 80.58,222.87 81.01,223.94 81.39,224.92 81.73,225.84 82.04,226.71 82.33,227.54 82.60,228.35 82.85,229.15 83.10,229.95 83.33,230.75 83.55,231.57" fill="#fce5e9"/>
<polygon points="83.32,232.41 83.51,233.25 83.70,234.14 83.88,235.08 84.01,236.09 84.05,237.14 83.98,238.23 83.80,239.34 83.49,240.46 83.05,241.56 82.48,242.63 81.79,243.67 80.95,244.62 79.93,245.35 78.79,245.84 77.56,246.09 76.29,245.99 75.05,245.51 73.90,244.77 72.89,243.90 72.04,242.98 71.32,242.05 70.72,241.14 70.23,240.28 69.82,239.48 69.48,238.72 69.19,238.02 68.94,237.37 68.72,236.76 68.52,236.18 68.34,235.62 68.17,235.08 68.01,234.55 67.86,234.03 67.72,233.50 67.59,232.96 67.46,232.41 67.33,231.84 67.21,231.23 67.10,230.59 66.99,229.90 66.90,229.15 66.83,228.33 66.78,227.43 66.75,226.41 66.76,225.27 66.82,223.97 66.96,222.50 67.22,220.84 67.63,218.96 68.28,216.97 69.24,215.03 70.57,213.52 72.19,212.86 73.90,213.42 75.45,214.66 76.74,216.29 77.79,217.91 78.63,219.42 79.31,220.82 79.86,222.08 80.34,223.22 80.75,224.25 81.11,225.20 81.43,226.09 81.73,226.93 82.00,227.73 82.25,228.52 82.49,229.28 82.71,230.05 82.93,230.82 83.13,231.60" fill="#fce4e8"/>
<polygon points="82.87,232.41 83.04,233.21 83.20,234.05 83.35,234.94 83.45,235.89 83.47,236.87 83.40,237.89 83.22,238.94 82.93,239.99 82.51,241.02 81.98,242.04 81.34,243.04 80.56,243.95 79.62,244.67 78.55,245.19 77.40,245.47 76.19,245.42 75.00,244.99 73.90,244.29 72.93,243.47 72.10,242.59 71.41,241.70 70.83,240.83 70.36,240.00 69.97,239.22 69.64,238.50 69.36,237.82 69.11,237.20 68.90,236.61 68.71,236.05 68.53,235.51 68.37,234.99 68.22,234.48 68.07,233.97 67.94,233.46 67.81,232.94 67.68,232.41 67.56,231.86 67.45,231.27 67.34,230.65 67.25,229.99 67.16,229.27 67.10,228.49 67.06,227.62 67.04,226.66 67.06,225.57 67.13,224.34 67.27,222.95 67.53,221.38 67.93,219.61 68.56,217.73 69.48,215.91 70.74,214.47 72.27,213.82 73.90,214.30 75.39,215.43 76.63,216.93 77.64,218.45 78.46,219.89 79.11,221.24 79.64,222.46 80.10,223.56 80.49,224.56 80.83,225.48 81.14,226.34 81.42,227.15 81.67,227.92 81.90,228.68 82.12,229.42 82.33,230.15 82.52,230.89 82.70,231.64" fill="#fce3e7"/>
<polygon points="82.42,232.41 82.56,233.17 82.70,233.96 82.81,234.80 82.89,235.68 82.89,236.60 82.81,237.56 82.64,238.53 82.36,239.51 81.98,240.49 81.49,241.45 80.90,242.40 80.18,243.28 79.30,244.00 78.31,244.53 77.23,244.85 76.09,244.84 74.95,244.47 73.90,243.81 72.97,243.04 72.17,242.20 71.50,241.35 70.95,240.52 70.49,239.72 70.11,238.97 69.79,238.28 69.52,237.63 69.29,237.02 69.08,236.46 68.89,235.92 68.72,235.40 68.57,234.90 68.42,234.40 68.28,233.92 68.15,233.42 68.03,232.92 67.91,232.41 67.79,231.88 67.69,231.32 67.59,230.72 67.50,230.08 67.42,229.39 67.37,228.64 67.34,227.82 67.34,226.90 67.36,225.87 67.44,224.71 67.59,223.40 67.84,221.92 68.23,220.26 68.83,218.49 69.71,216.78 70.90,215.42 72.36,214.78 73.90,215.18 75.32,216.20 76.52,217.58 77.49,218.99 78.28,220.37 78.91,221.66 79.42,222.84 79.86,223.90 80.23,224.87 80.55,225.76 80.84,226.59 81.10,227.37 81.34,228.12 81.56,228.84 81.76,229.55 81.95,230.25 82.12,230.96 82.28,231.68" fill="#fbe2e6"/>
<polygon points="81.97,232.41 82.09,233.13 82.19,233.87 82.28,234.66 82.33,235.48 82.31,236.33 82.23,237.22 82.06,238.12 81.80,239.04 81.44,239.95 80.99,240.86 80.45,241.77 79.79,242.61 78.99,243.33 78.07,243.87 77.06,244.22 75.99,244.27 74.91,243.94 73.90,243.34 73.01,242.61 72.24,241.81 71.60,241.01 71.06,240.21 70.62,239.44 70.26,238.72 69.95,238.05 69.69,237.43 69.46,236.85 69.26,236.30 69.08,235.78 68.92,235.29 68.77,234.80 68.63,234.33 68.49,233.86 68.37,233.39 68.25,232.90 68.14,232.41 68.03,231.90 67.92,231.36 67.83,230.78 67.75,230.17 67.68,229.51 67.64,228.80 67.62,228.01 67.63,227.15 67.66,226.17 67.75,225.08 67.90,223.85 68.16,222.46 68.54,220.91 69.11,219.25 69.95,217.65 71.07,216.37 72.44,215.73 73.90,216.06 75.25,216.97 76.40,218.22 77.35,219.54 78.11,220.84 78.71,222.08 79.21,223.22 79.62,224.25 79.97,225.18 80.27,226.04 80.55,226.83 80.79,227.59 81.01,228.31 81.21,229.00 81.39,229.68 81.56,230.36 81.71,231.03 81.85,231.71" fill="#fbe1e5"/>
<polygon points="81.52,232.41 81.61,233.09 81.69,233.78 81.74,234.51 81.77,235.27 81.74,236.06 81.64,236.88 81.48,237.71 81.23,238.56 80.91,239.42 80.50,240.27 80.01,241.13 79.41,241.95 78.68,242.65 77.83,243.22 76.90,243.60 75.89,243.70 74.86,243.42 73.90,242.86 73.05,242.17 72.31,241.43 71.69,240.66 71.18,239.90 70.75,239.16 70.40,238.47 70.11,237.83 69.86,237.23 69.64,236.67 69.44,236.15 69.27,235.65 69.11,235.17 68.97,234.71 68.83,234.26 68.70,233.80 68.58,233.35 68.47,232.89 68.36,232.41 68.26,231.92 68.16,231.40 68.08,230.85 68.00,230.26 67.94,229.63 67.91,228.95 67.90,228.21 67.92,227.39 67.96,226.48 68.06,225.45 68.22,224.30 68.47,223.00 68.84,221.56 69.39,220.02 70.18,218.52 71.24,217.32 72.52,216.69 73.90,216.94 75.18,217.74 76.29,218.87 77.20,220.08 77.94,221.32 78.52,222.51 78.99,223.60 79.38,224.59 79.71,225.49 80.00,226.31 80.25,227.08 80.48,227.81 80.68,228.50 80.86,229.17 81.02,229.82 81.18,230.46 81.31,231.10 81.42,231.75" fill="#fbe0e4"/>
<polygon points="81.07,232.41 81.13,233.04 81.18,233.69 81.21,234.37 81.21,235.07 81.16,235.79 81.05,236.54 80.89,237.31 80.67,238.09 80.37,238.88 80.00,239.69 79.56,240.49 79.02,241.28 78.36,241.98 77.59,242.56 76.73,242.98 75.79,243.12 74.82,242.89 73.90,242.39 73.08,241.74 72.38,241.04 71.78,240.31 71.29,239.58 70.88,238.88 70.55,238.22 70.26,237.60 70.02,237.03 69.81,236.50 69.62,236.00 69.46,235.52 69.31,235.06 69.17,234.62 69.04,234.18 68.91,233.75 68.80,233.31 68.69,232.87 68.59,232.41 68.49,231.94 68.40,231.44 68.32,230.92 68.25,230.36 68.20,229.75 68.18,229.11 68.18,228.41 68.21,227.63 68.27,226.78 68.37,225.82 68.53,224.75 68.78,223.55 69.14,222.21 69.67,220.78 70.41,219.40 71.41,218.27 72.61,217.65 73.90,217.82 75.12,218.51 76.17,219.51 77.06,220.63 77.77,221.79 78.32,222.93 78.77,223.98 79.14,224.93 79.45,225.80 79.72,226.59 79.95,227.33 80.16,228.03 80.35,228.69 80.51,229.33 80.66,229.95 80.79,230.56 80.91,231.18 81.00,231.79" fill="#fbdfe3"/>
<polygon points="80.62,232.41 80.66,233.00 80.68,233.61 80.68,234.23 80.65,234.87 80.58,235.53 80.47,236.20 80.31,236.90 80.10,237.62 79.84,238.35 79.51,239.10 79.12,239.86 78.63,240.61 78.05,241.30 77.35,241.90 76.57,242.36 75.69,242.55 74.77,242.37 73.90,241.91 73.12,241.31 72.45,240.65 71.88,239.96 71.40,239.27 71.01,238.60 70.69,237.97 70.42,237.38 70.19,236.83 69.99,236.32 69.81,235.85 69.65,235.39 69.50,234.95 69.37,234.52 69.24,234.11 69.12,233.69 69.01,233.27 68.91,232.85 68.81,232.41 68.72,231.96 68.64,231.48 68.56,230.98 68.50,230.45 68.46,229.88 68.45,229.26 68.46,228.60 68.50,227.88 68.57,227.08 68.68,226.19 68.85,225.20 69.10,224.09 69.44,222.86 69.94,221.54 70.65,220.27 71.57,219.22 72.69,218.61 73.90,218.70 75.05,219.27 76.06,220.15 76.91,221.17 77.59,222.26 78.12,223.35 78.55,224.36 78.90,225.27 79.19,226.11 79.44,226.87 79.66,227.58 79.85,228.25 80.02,228.88 80.16,229.49 80.29,230.08 80.41,230.67 80.50,231.25 80.57,231.83" fill="#fadde2"/>
<polygon points="80.18,232.41 80.18,232.96 80.18,233.52 80.14,234.08 80.09,234.66 80.00,235.26 79.88,235.87 79.73,236.49 79.54,237.14 79.30,237.81 79.02,238.51 78.67,239.22 78.25,239.94 77.73,240.63 77.12,241.25 76.40,241.74 75.59,241.98 74.73,241.85 73.90,241.44 73.16,240.88 72.52,240.26 71.97,239.61 71.52,238.96 71.14,238.32 70.84,237.72 70.58,237.16 70.35,236.64 70.16,236.15 69.99,235.69 69.83,235.26 69.69,234.84 69.57,234.43 69.45,234.03 69.33,233.63 69.23,233.23 69.13,232.83 69.04,232.41 68.95,231.98 68.87,231.52 68.81,231.05 68.76,230.54 68.72,230.00 68.72,229.42 68.74,228.80 68.79,228.12 68.87,227.38 68.99,226.56 69.16,225.64 69.41,224.63 69.75,223.50 70.22,222.30 70.88,221.14 71.74,220.16 72.78,219.57 73.90,219.58 74.98,220.04 75.95,220.80 76.77,221.71 77.42,222.74 77.93,223.77 78.33,224.74 78.66,225.62 78.93,226.42 79.16,227.15 79.36,227.83 79.53,228.46 79.68,229.07 79.81,229.65 79.93,230.22 80.02,230.77 80.10,231.32 80.15,231.86" fill="#fadce1"/>
<path d="M73.37,220.42C74.51,220.36 76.13,221.25 77.18,223.09C78.24,224.94 79.51,228.95 79.70,231.49C79.89,234.04 79.07,236.71 78.33,238.37C77.59,240.02 76.42,241.42 75.27,241.42C74.13,241.42 72.50,240.15 71.46,238.37C70.41,236.59 69.20,233.21 69.01,230.73C68.82,228.25 69.58,225.19 70.31,223.47C71.04,221.76 72.22,220.48 73.37,220.42Z" fill="#f7c8d0"/>
<polygon points="79.31,232.41 79.29,232.88 79.26,233.36 79.20,233.83 79.12,234.31 79.03,234.80 78.91,235.31 78.78,235.82 78.61,236.36 78.42,236.93 78.19,237.52 77.92,238.15 77.58,238.78 77.17,239.42 76.66,240.01 76.07,240.49 75.37,240.76 74.62,240.69 73.90,240.35 73.25,239.88 72.68,239.34 72.19,238.77 71.79,238.20 71.46,237.64 71.19,237.11 70.96,236.61 70.76,236.15 70.59,235.72 70.44,235.32 70.30,234.93 70.17,234.56 70.06,234.20 69.95,233.85 69.85,233.49 69.76,233.14 69.67,232.78 69.60,232.41 69.52,232.03 69.45,231.63 69.40,231.20 69.36,230.76 69.34,230.28 69.34,229.78 69.37,229.24 69.42,228.65 69.51,228.02 69.63,227.32 69.79,226.55 70.02,225.69 70.32,224.74 70.74,223.73 71.31,222.76 72.05,221.92 72.93,221.38 73.90,221.31 74.84,221.64 75.70,222.23 76.43,222.98 77.01,223.87 77.46,224.78 77.81,225.64 78.09,226.42 78.33,227.13 78.53,227.78 78.70,228.39 78.84,228.95 78.96,229.49 79.07,230.00 79.16,230.50 79.23,230.98 79.28,231.46 79.31,231.94" fill="#f7c7cf"/>
<polygon points="78.89,232.41 78.88,232.85 78.85,233.28 78.79,233.72 78.72,234.17 78.63,234.62 78.53,235.08 78.40,235.56 78.25,236.06 78.07,236.58 77.86,237.13 77.61,237.71 77.30,238.29 76.92,238.88 76.45,239.42 75.90,239.87 75.26,240.12 74.57,240.05 73.90,239.74 73.30,239.30 72.77,238.81 72.33,238.29 71.95,237.75 71.65,237.24 71.40,236.74 71.19,236.29 71.00,235.86 70.84,235.47 70.70,235.09 70.58,234.74 70.46,234.40 70.36,234.06 70.26,233.74 70.17,233.41 70.08,233.08 70.00,232.75 69.93,232.41 69.86,232.06 69.80,231.69 69.75,231.30 69.71,230.88 69.69,230.45 69.69,229.98 69.72,229.48 69.77,228.94 69.84,228.35 69.95,227.71 70.11,227.00 70.32,226.21 70.60,225.33 70.98,224.40 71.51,223.50 72.19,222.73 73.01,222.23 73.90,222.17 74.77,222.47 75.56,223.01 76.23,223.71 76.77,224.53 77.18,225.37 77.51,226.16 77.77,226.88 77.99,227.54 78.17,228.14 78.33,228.70 78.46,229.22 78.57,229.71 78.67,230.19 78.75,230.64 78.82,231.09 78.87,231.53 78.89,231.97" fill="#f7c6cf"/>
<polygon points="78.48,232.41 78.46,232.81 78.43,233.21 78.39,233.61 78.32,234.02 78.24,234.43 78.14,234.86 78.03,235.30 77.89,235.76 77.72,236.23 77.53,236.74 77.30,237.26 77.01,237.80 76.66,238.34 76.24,238.84 75.73,239.25 75.15,239.47 74.51,239.41 73.90,239.13 73.35,238.73 72.87,238.27 72.46,237.80 72.12,237.31 71.84,236.83 71.61,236.38 71.41,235.96 71.25,235.57 71.10,235.21 70.97,234.87 70.85,234.54 70.75,234.23 70.65,233.93 70.56,233.63 70.48,233.33 70.40,233.03 70.32,232.72 70.26,232.41 70.19,232.09 70.14,231.75 70.09,231.39 70.06,231.01 70.04,230.61 70.04,230.18 70.07,229.73 70.11,229.23 70.18,228.69 70.28,228.10 70.42,227.45 70.62,226.72 70.87,225.92 71.23,225.07 71.71,224.24 72.33,223.53 73.08,223.07 73.90,223.02 74.70,223.30 75.42,223.79 76.04,224.43 76.53,225.18 76.91,225.96 77.21,226.68 77.45,227.34 77.65,227.94 77.82,228.49 77.96,229.01 78.08,229.48 78.19,229.94 78.27,230.37 78.35,230.79 78.41,231.20 78.45,231.61 78.47,232.01" fill="#f7c5ce"/>
<polygon points="78.06,232.41 78.05,232.77 78.02,233.14 77.98,233.50 77.92,233.87 77.85,234.25 77.76,234.64 77.65,235.04 77.52,235.45 77.38,235.89 77.20,236.34 76.99,236.82 76.73,237.31 76.41,237.80 76.03,238.25 75.57,238.63 75.03,238.83 74.46,238.78 73.90,238.52 73.40,238.15 72.96,237.74 72.59,237.31 72.28,236.86 72.02,236.43 71.81,236.02 71.64,235.64 71.49,235.29 71.35,234.96 71.24,234.65 71.13,234.35 71.03,234.07 70.95,233.79 70.86,233.52 70.79,233.24 70.72,232.97 70.65,232.69 70.59,232.41 70.53,232.12 70.48,231.81 70.44,231.48 70.41,231.14 70.39,230.77 70.39,230.39 70.41,229.97 70.46,229.52 70.52,229.03 70.61,228.49 70.74,227.90 70.91,227.24 71.15,226.51 71.47,225.73 71.91,224.99 72.48,224.34 73.16,223.92 73.90,223.87 74.62,224.13 75.28,224.58 75.84,225.16 76.29,225.84 76.64,226.54 76.91,227.20 77.13,227.80 77.31,228.35 77.46,228.85 77.59,229.31 77.70,229.75 77.80,230.16 77.88,230.56 77.94,230.94 78.00,231.31 78.04,231.68 78.06,232.05" fill="#f6c5cd"/>
<polygon points="77.65,232.41 77.63,232.74 77.61,233.06 77.57,233.39 77.52,233.73 77.45,234.07 77.37,234.41 77.28,234.77 77.16,235.15 77.03,235.54 76.87,235.95 76.68,236.38 76.45,236.82 76.16,237.26 75.81,237.67 75.40,238.01 74.92,238.19 74.40,238.14 73.90,237.91 73.45,237.58 73.05,237.21 72.72,236.82 72.44,236.42 72.21,236.03 72.02,235.66 71.86,235.32 71.73,235.00 71.61,234.70 71.50,234.42 71.41,234.16 71.32,233.90 71.24,233.65 71.17,233.40 71.10,233.16 71.04,232.92 70.97,232.67 70.92,232.41 70.87,232.15 70.82,231.87 70.78,231.58 70.75,231.27 70.74,230.94 70.74,230.59 70.76,230.21 70.80,229.81 70.86,229.37 70.94,228.88 71.06,228.35 71.21,227.76 71.42,227.10 71.71,226.40 72.11,225.73 72.62,225.15 73.23,224.77 73.90,224.73 74.55,224.95 75.14,225.36 75.65,225.88 76.05,226.50 76.36,227.13 76.61,227.72 76.80,228.26 76.97,228.76 77.10,229.21 77.22,229.62 77.32,230.02 77.41,230.39 77.48,230.74 77.54,231.09 77.59,231.42 77.62,231.75 77.64,232.08" fill="#f6c4cc"/>
<polygon points="77.23,232.41 77.22,232.70 77.20,232.99 77.16,233.28 77.11,233.58 77.06,233.88 76.99,234.19 76.90,234.51 76.80,234.84 76.68,235.19 76.54,235.56 76.37,235.94 76.16,236.33 75.91,236.72 75.60,237.08 75.23,237.38 74.81,237.55 74.35,237.50 73.90,237.30 73.50,237.01 73.15,236.67 72.85,236.33 72.60,235.97 72.40,235.63 72.23,235.30 72.09,234.99 71.97,234.71 71.86,234.45 71.77,234.20 71.68,233.96 71.61,233.73 71.54,233.51 71.47,233.29 71.41,233.08 71.35,232.86 71.30,232.64 71.25,232.41 71.20,232.17 71.16,231.93 71.13,231.67 71.10,231.39 71.09,231.10 71.09,230.79 71.11,230.46 71.14,230.10 71.20,229.71 71.27,229.28 71.37,228.80 71.51,228.27 71.70,227.69 71.96,227.07 72.31,226.47 72.76,225.95 73.31,225.62 73.90,225.58 74.48,225.78 75.00,226.14 75.45,226.61 75.81,227.15 76.09,227.72 76.30,228.24 76.48,228.72 76.63,229.16 76.75,229.56 76.85,229.93 76.94,230.28 77.02,230.61 77.08,230.93 77.13,231.23 77.18,231.53 77.21,231.83 77.23,232.12" fill="#f6c3cc"/>
<polygon points="76.81,232.41 76.80,232.66 76.79,232.92 76.75,233.18 76.71,233.43 76.66,233.70 76.60,233.97 76.53,234.25 76.44,234.54 76.33,234.84 76.21,235.16 76.06,235.50 75.88,235.84 75.66,236.18 75.39,236.50 75.07,236.76 74.69,236.91 74.29,236.87 73.90,236.68 73.55,236.43 73.24,236.14 72.98,235.84 72.77,235.53 72.59,235.23 72.44,234.94 72.32,234.67 72.21,234.42 72.12,234.19 72.03,233.98 71.96,233.77 71.89,233.57 71.83,233.37 71.78,233.18 71.72,232.99 71.67,232.80 71.62,232.61 71.58,232.41 71.54,232.20 71.51,231.99 71.48,231.76 71.45,231.52 71.44,231.26 71.44,230.99 71.46,230.70 71.49,230.39 71.53,230.04 71.60,229.67 71.69,229.25 71.81,228.79 71.97,228.28 72.20,227.74 72.51,227.21 72.90,226.76 73.38,226.47 73.90,226.43 74.41,226.61 74.87,226.93 75.26,227.33 75.57,227.81 75.82,228.30 76.00,228.77 76.16,229.19 76.29,229.57 76.39,229.92 76.48,230.24 76.56,230.55 76.63,230.84 76.68,231.11 76.73,231.38 76.77,231.64 76.80,231.90 76.81,232.16" fill="#f6c2cb"/>
<polygon points="76.40,232.41 76.39,232.63 76.37,232.85 76.35,233.07 76.31,233.29 76.27,233.51 76.21,233.75 76.15,233.99 76.07,234.24 75.99,234.50 75.88,234.77 75.75,235.06 75.60,235.35 75.41,235.64 75.18,235.92 74.90,236.14 74.58,236.26 74.23,236.23 73.90,236.07 73.60,235.86 73.34,235.61 73.11,235.35 72.93,235.08 72.77,234.82 72.65,234.58 72.54,234.35 72.45,234.14 72.37,233.94 72.30,233.75 72.24,233.57 72.18,233.40 72.13,233.24 72.08,233.07 72.03,232.91 71.99,232.75 71.95,232.58 71.91,232.41 71.88,232.23 71.85,232.05 71.82,231.85 71.80,231.65 71.79,231.43 71.80,231.20 71.81,230.95 71.83,230.68 71.87,230.38 71.93,230.06 72.00,229.70 72.11,229.31 72.25,228.87 72.44,228.40 72.71,227.96 73.05,227.57 73.45,227.32 73.90,227.29 74.33,227.44 74.73,227.71 75.07,228.06 75.33,228.47 75.54,228.89 75.70,229.29 75.84,229.65 75.94,229.97 76.04,230.27 76.11,230.55 76.18,230.81 76.24,231.06 76.29,231.30 76.33,231.53 76.36,231.75 76.38,231.97 76.39,232.19" fill="#f6c1ca"/>
<polygon points="75.98,232.41 75.97,232.59 75.96,232.77 75.94,232.96 75.91,233.14 75.87,233.33 75.83,233.52 75.78,233.72 75.71,233.93 75.64,234.15 75.55,234.38 75.44,234.62 75.32,234.86 75.16,235.10 74.96,235.33 74.73,235.52 74.47,235.62 74.18,235.59 73.90,235.46 73.65,235.28 73.43,235.08 73.24,234.86 73.09,234.64 72.96,234.42 72.86,234.22 72.77,234.03 72.69,233.85 72.63,233.68 72.57,233.53 72.52,233.38 72.47,233.24 72.42,233.10 72.38,232.96 72.34,232.83 72.31,232.69 72.27,232.55 72.24,232.41 72.21,232.26 72.19,232.11 72.17,231.95 72.15,231.77 72.14,231.59 72.15,231.40 72.16,231.19 72.18,230.97 72.21,230.72 72.26,230.45 72.32,230.15 72.41,229.83 72.52,229.46 72.68,229.07 72.90,228.70 73.19,228.38 73.53,228.17 73.90,228.14 74.26,228.27 74.59,228.49 74.87,228.78 75.10,229.13 75.27,229.48 75.40,229.81 75.51,230.11 75.60,230.38 75.68,230.63 75.74,230.86 75.80,231.08 75.85,231.29 75.89,231.48 75.92,231.67 75.95,231.86 75.97,232.05 75.98,232.23" fill="#f6c0ca"/>
<polygon points="75.56,232.41 75.56,232.56 75.55,232.70 75.53,232.85 75.51,233.00 75.48,233.15 75.44,233.30 75.40,233.46 75.35,233.63 75.29,233.80 75.22,233.98 75.14,234.18 75.03,234.37 74.90,234.57 74.75,234.75 74.57,234.90 74.35,234.98 74.12,234.96 73.90,234.85 73.70,234.71 73.52,234.54 73.38,234.37 73.25,234.19 73.15,234.02 73.07,233.85 73.00,233.70 72.93,233.56 72.88,233.43 72.83,233.30 72.79,233.19 72.75,233.07 72.72,232.96 72.69,232.85 72.66,232.74 72.63,232.63 72.60,232.52 72.58,232.41 72.55,232.29 72.53,232.17 72.51,232.04 72.50,231.90 72.50,231.76 72.50,231.60 72.51,231.43 72.52,231.25 72.55,231.06 72.58,230.84 72.64,230.61 72.71,230.34 72.80,230.05 72.93,229.74 73.10,229.44 73.33,229.18 73.60,229.02 73.90,229.00 74.19,229.10 74.45,229.28 74.68,229.51 74.86,229.78 74.99,230.06 75.10,230.33 75.19,230.57 75.26,230.79 75.32,230.99 75.38,231.17 75.42,231.35 75.46,231.51 75.49,231.67 75.52,231.82 75.54,231.97 75.55,232.12 75.56,232.26" fill="#f6bfc9"/>
<polygon points="75.15,232.41 75.14,232.52 75.14,232.63 75.12,232.74 75.11,232.85 75.08,232.96 75.06,233.08 75.02,233.20 74.99,233.32 74.94,233.45 74.89,233.59 74.83,233.73 74.75,233.88 74.65,234.03 74.54,234.16 74.40,234.28 74.24,234.34 74.07,234.32 73.90,234.24 73.75,234.13 73.62,234.01 73.51,233.88 73.41,233.75 73.34,233.62 73.27,233.49 73.22,233.38 73.18,233.27 73.14,233.17 73.10,233.08 73.07,232.99 73.04,232.91 73.01,232.82 72.99,232.74 72.97,232.66 72.94,232.58 72.92,232.50 72.91,232.41 72.89,232.32 72.87,232.23 72.86,232.13 72.85,232.03 72.85,231.92 72.85,231.80 72.85,231.68 72.87,231.54 72.89,231.40 72.91,231.24 72.95,231.06 73.00,230.86 73.07,230.64 73.17,230.41 73.30,230.18 73.47,229.99 73.68,229.86 73.90,229.85 74.12,229.93 74.31,230.06 74.48,230.24 74.62,230.44 74.72,230.65 74.80,230.85 74.87,231.03 74.92,231.19 74.97,231.34 75.01,231.48 75.04,231.61 75.07,231.74 75.09,231.85 75.11,231.97 75.13,232.08 75.14,232.19 75.15,232.30" fill="#f5bfc8"/>
<polygon points="74.73,232.41 74.73,232.48 74.72,232.56 74.72,232.63 74.70,232.70 74.69,232.78 74.67,232.86 74.65,232.94 74.62,233.02 74.60,233.11 74.56,233.20 74.52,233.29 74.47,233.39 74.40,233.49 74.33,233.58 74.23,233.65 74.13,233.69 74.01,233.68 73.90,233.63 73.80,233.56 73.71,233.48 73.64,233.39 73.58,233.30 73.52,233.21 73.48,233.13 73.45,233.06 73.42,232.99 73.39,232.92 73.37,232.86 73.35,232.80 73.33,232.74 73.31,232.69 73.29,232.63 73.28,232.58 73.26,232.52 73.25,232.47 73.24,232.41 73.23,232.35 73.22,232.29 73.21,232.22 73.20,232.16 73.20,232.08 73.20,232.01 73.20,231.92 73.21,231.83 73.22,231.73 73.24,231.63 73.27,231.51 73.30,231.38 73.35,231.23 73.41,231.08 73.50,230.93 73.62,230.80 73.75,230.71 73.90,230.70 74.04,230.75 74.18,230.84 74.29,230.96 74.38,231.10 74.45,231.24 74.50,231.37 74.54,231.49 74.58,231.60 74.61,231.70 74.64,231.79 74.66,231.88 74.68,231.96 74.69,232.04 74.71,232.12 74.72,232.19 74.73,232.26 74.73,232.34" fill="#f5bec7"/>
<polygon points="74.32,232.41 74.31,232.45 74.31,232.48 74.31,232.52 74.30,232.56 74.29,232.59 74.29,232.63 74.27,232.67 74.26,232.71 74.25,232.76 74.23,232.80 74.21,232.85 74.18,232.90 74.15,232.95 74.11,232.99 74.07,233.03 74.01,233.05 73.96,233.05 73.90,233.02 73.85,232.98 73.81,232.94 73.77,232.90 73.74,232.86 73.71,232.81 73.69,232.77 73.67,232.73 73.66,232.70 73.65,232.67 73.63,232.63 73.62,232.60 73.61,232.58 73.60,232.55 73.60,232.52 73.59,232.49 73.58,232.47 73.57,232.44 73.57,232.41 73.56,232.38 73.56,232.35 73.55,232.32 73.55,232.28 73.55,232.25 73.55,232.21 73.55,232.17 73.56,232.12 73.56,232.07 73.57,232.02 73.58,231.96 73.60,231.89 73.62,231.82 73.66,231.74 73.70,231.67 73.76,231.60 73.83,231.56 73.90,231.56 73.97,231.58 74.04,231.63 74.09,231.69 74.14,231.75 74.17,231.82 74.20,231.89 74.22,231.95 74.24,232.00 74.26,232.05 74.27,232.10 74.28,232.14 74.29,232.19 74.30,232.23 74.30,232.26 74.31,232.30 74.31,232.34 74.32,232.37" fill="#f5bdc7"/>
<path d="M71.46,207.05C72.47,207.25 74.00,207.95 75.27,209.35C76.55,210.75 77.82,213.04 79.09,215.46C80.37,217.87 81.77,221.06 82.91,223.86C84.06,226.66 85.20,229.84 85.97,232.26C86.73,234.68 87.37,236.46 87.49,238.37C87.62,240.28 87.37,242.06 86.73,243.71C86.09,245.37 84.82,247.28 83.68,248.30C82.53,249.31 81.13,249.70 79.86,249.82C78.58,249.95 77.31,249.70 76.04,249.06C74.77,248.42 73.37,247.28 72.22,246.00C71.07,244.73 70.06,243.20 69.16,241.42C68.27,239.64 67.51,237.48 66.87,235.31C66.24,233.15 65.66,230.73 65.35,228.44C65.03,226.15 64.90,223.73 64.96,221.57C65.03,219.40 65.35,217.24 65.73,215.46C66.11,213.67 66.68,212.08 67.26,210.87C67.83,209.66 68.46,208.84 69.16,208.20C69.86,207.56 70.44,206.86 71.46,207.05Z" fill="none" stroke="#000" stroke-width="1.0"/>
</g>
<path d="M73.37,220.42C74.51,220.36 76.13,221.25 77.18,223.09C78.24,224.94 79.51,228.95 79.70,231.49C79.89,234.04 79.07,236.71 78.33,238.37C77.59,240.02 76.42,241.42 75.27,241.42C74.13,241.42 72.50,240.15 71.46,238.37C70.41,236.59 69.20,233.21 69.01,230.73C68.82,228.25 69.58,225.19 70.31,223.47C71.04,221.76 72.22,220.48 73.37,220.42Z" fill="none" stroke="#000" stroke-width="1.0"/>
<path d="M69.30,232.50H77.70M73.50,228.90V236.10" stroke="#000" stroke-width="1" fill="none"/>
<rect x="42.10" y="198.50" width="96.75" height="74.30" fill="none" stroke="#000" stroke-width="1"/>
<path d="M45.45,272.80v6.6M67.89,272.80v6.6M90.32,272.80v6.6M112.76,272.80v6.6M135.20,272.80v6.6M42.10,269.90h-6.8M42.10,257.50h-6.8M42.10,245.10h-6.8M42.10,232.70h-6.8M42.10,220.25h-6.8M42.10,207.85h-6.8" stroke="#000" stroke-width="1" fill="none"/>
<text class="a" x="45.45" y="295.60">0.00</text>
<text class="a" x="90.32" y="295.60">0.04</text>
<text class="a" x="135.20" y="295.60">0.08</text>
<text class="a" transform="translate(27.10,269.90) rotate(-90)">0</text>
<text class="a" transform="translate(27.10,245.10) rotate(-90)">20</text>
<text class="a" transform="translate(27.10,220.25) rotate(-90)">40</text>
<text class="p" x="90.32" y="308.60">π</text>
<g transform="translate(6.90,244.35) rotate(-90)">
<text class="g" x="0" y="0">γ</text><path d="M0.1,-6.2h4.6" stroke="#000" stroke-width="1"/>
<text class="s" x="4.60" y="2.60">dn</text><text class="ss" x="13.40" y="3.90">1</text>
</g>
<text class="t" x="90.47" y="169.20">MiD de novo</text>
<text class="t" x="90.47" y="185.20">(ID)</text>
</g>
<g>
<g>
<path d="M227.16,222.26C228.08,222.42 229.71,222.77 230.98,223.64C232.26,224.50 233.53,225.99 234.80,227.46C236.07,228.92 237.41,230.70 238.62,232.42C239.83,234.14 241.04,236.05 242.06,237.77C243.08,239.48 244.18,241.33 244.73,242.73C245.28,244.13 245.53,245.17 245.34,246.17C245.15,247.16 244.45,248.14 243.58,248.69C242.72,249.23 241.42,249.49 240.15,249.45C238.88,249.41 237.35,249.01 235.95,248.46C234.55,247.91 233.02,247.19 231.75,246.17C230.47,245.15 229.33,243.75 228.31,242.35C227.29,240.95 226.36,239.36 225.64,237.77C224.91,236.18 224.34,234.39 223.96,232.80C223.58,231.21 223.32,229.62 223.35,228.22C223.37,226.82 223.75,225.32 224.11,224.40C224.47,223.48 224.98,223.08 225.48,222.72C225.99,222.36 226.25,222.11 227.16,222.26Z" fill="#fdeaed"/>
<polygon points="241.10,236.77 241.58,237.58 242.12,238.50 242.74,239.55 243.43,240.80 244.13,242.26 244.68,243.89 244.84,245.52 244.40,246.87 243.52,247.94 242.31,248.63 240.88,248.95 239.40,248.97 237.94,248.74 236.57,248.35 235.34,247.89 234.23,247.40 233.24,246.87 232.36,246.32 231.58,245.72 230.89,245.10 230.29,244.49 229.76,243.90 229.30,243.33 228.88,242.80 228.50,242.29 228.14,241.80 227.82,241.32 227.51,240.84 227.22,240.37 226.94,239.90 226.67,239.42 226.41,238.94 226.16,238.43 225.91,237.91 225.66,237.36 225.42,236.77 225.18,236.15 224.94,235.46 224.70,234.72 224.46,233.90 224.22,232.98 224.00,231.95 223.80,230.78 223.67,229.48 223.67,228.09 223.88,226.67 224.28,225.24 224.96,223.95 225.99,223.11 227.28,222.83 228.71,223.14 230.04,223.62 231.27,224.34 232.36,225.27 233.28,226.22 234.07,227.09 234.74,227.87 235.34,228.57 235.87,229.23 236.36,229.85 236.80,230.43 237.22,230.98 237.61,231.52 237.99,232.05 238.36,232.57 238.73,233.10 239.09,233.63 239.46,234.19 239.84,234.77 240.24,235.38 240.65,236.05" fill="#fde9ec"/>
<polygon points="240.74,236.77 241.20,237.55 241.72,238.42 242.30,239.44 242.95,240.63 243.62,242.02 244.15,243.58 244.31,245.14 243.89,246.45 243.06,247.48 241.91,248.16 240.56,248.49 239.15,248.53 237.74,248.32 236.43,247.96 235.24,247.53 234.17,247.05 233.21,246.55 232.36,246.01 231.60,245.44 230.94,244.84 230.35,244.25 229.84,243.68 229.39,243.14 228.98,242.62 228.61,242.13 228.26,241.65 227.95,241.18 227.65,240.72 227.37,240.27 227.10,239.81 226.84,239.35 226.59,238.87 226.34,238.39 226.10,237.88 225.86,237.34 225.62,236.77 225.39,236.16 225.16,235.50 224.93,234.78 224.70,233.98 224.47,233.10 224.26,232.10 224.08,230.97 223.96,229.73 223.98,228.40 224.20,227.05 224.59,225.68 225.25,224.47 226.25,223.67 227.50,223.42 228.86,223.72 230.14,224.18 231.32,224.87 232.36,225.76 233.24,226.66 233.99,227.49 234.65,228.23 235.22,228.91 235.73,229.54 236.19,230.13 236.62,230.69 237.02,231.22 237.40,231.74 237.76,232.24 238.12,232.74 238.47,233.25 238.82,233.76 239.17,234.29 239.54,234.85 239.91,235.44 240.31,236.08" fill="#fde8ec"/>
<polygon points="240.38,236.77 240.82,237.51 241.31,238.35 241.86,239.32 242.48,240.46 243.11,241.79 243.61,243.27 243.77,244.76 243.38,246.02 242.60,247.02 241.51,247.69 240.24,248.02 238.89,248.09 237.55,247.90 236.29,247.57 235.14,247.16 234.11,246.71 233.19,246.23 232.36,245.71 231.62,245.15 230.98,244.58 230.42,244.01 229.92,243.47 229.48,242.94 229.08,242.44 228.72,241.97 228.39,241.51 228.08,241.05 227.79,240.61 227.52,240.16 227.25,239.72 227.00,239.27 226.76,238.81 226.52,238.34 226.29,237.84 226.06,237.32 225.83,236.77 225.60,236.18 225.38,235.54 225.16,234.84 224.94,234.07 224.72,233.21 224.52,232.25 224.35,231.17 224.25,229.97 224.29,228.70 224.51,227.42 224.90,226.13 225.55,224.98 226.51,224.23 227.71,224.00 229.01,224.29 230.24,224.74 231.36,225.40 232.36,226.24 233.20,227.10 233.92,227.89 234.55,228.60 235.10,229.25 235.59,229.85 236.03,230.41 236.44,230.95 236.82,231.46 237.18,231.95 237.53,232.43 237.87,232.91 238.21,233.40 238.54,233.89 238.88,234.40 239.23,234.93 239.59,235.50 239.97,236.11" fill="#fce7eb"/>
<polygon points="240.02,236.77 240.44,237.48 240.90,238.28 241.43,239.20 242.01,240.29 242.60,241.55 243.08,242.96 243.23,244.39 242.87,245.60 242.14,246.56 241.12,247.21 239.91,247.56 238.63,247.64 237.35,247.49 236.15,247.18 235.04,246.80 234.05,246.37 233.16,245.90 232.36,245.40 231.65,244.87 231.03,244.32 230.48,243.78 230.00,243.25 229.57,242.75 229.19,242.27 228.83,241.81 228.51,241.36 228.21,240.92 227.93,240.49 227.66,240.06 227.41,239.63 227.17,239.19 226.93,238.75 226.70,238.29 226.48,237.81 226.25,237.31 226.04,236.77 225.82,236.20 225.60,235.58 225.39,234.91 225.17,234.16 224.97,233.33 224.78,232.40 224.63,231.36 224.55,230.22 224.60,229.01 224.82,227.79 225.21,226.57 225.84,225.49 226.77,224.78 227.92,224.58 229.17,224.87 230.34,225.31 231.41,225.93 232.36,226.73 233.17,227.54 233.85,228.29 234.45,228.96 234.98,229.58 235.44,230.16 235.87,230.70 236.26,231.20 236.62,231.69 236.97,232.16 237.30,232.63 237.63,233.08 237.95,233.55 238.27,234.02 238.59,234.50 238.92,235.01 239.27,235.55 239.63,236.14" fill="#fce6ea"/>
<polygon points="239.66,236.77 240.06,237.45 240.49,238.21 240.99,239.09 241.54,240.11 242.09,241.31 242.54,242.65 242.69,244.01 242.37,245.17 241.68,246.10 240.72,246.74 239.59,247.10 238.38,247.20 237.16,247.07 236.01,246.80 234.95,246.44 233.99,246.03 233.13,245.58 232.36,245.10 231.67,244.58 231.07,244.06 230.55,243.54 230.08,243.03 229.66,242.55 229.29,242.09 228.95,241.65 228.63,241.22 228.34,240.79 228.07,240.37 227.81,239.96 227.57,239.54 227.33,239.12 227.11,238.68 226.89,238.24 226.67,237.78 226.45,237.29 226.24,236.77 226.03,236.22 225.82,235.62 225.62,234.97 225.41,234.25 225.22,233.45 225.05,232.55 224.91,231.56 224.84,230.46 224.90,229.32 225.13,228.16 225.52,227.01 226.14,226.00 227.03,225.34 228.13,225.16 229.32,225.44 230.43,225.87 231.46,226.47 232.36,227.22 233.13,227.98 233.78,228.69 234.35,229.33 234.85,229.92 235.30,230.47 235.70,230.98 236.08,231.46 236.42,231.93 236.75,232.38 237.07,232.82 237.38,233.26 237.69,233.70 237.99,234.15 238.30,234.61 238.62,235.10 238.94,235.61 239.29,236.17" fill="#fce5e9"/>
<polygon points="239.30,236.77 239.67,237.41 240.09,238.14 240.55,238.97 241.06,239.94 241.58,241.08 242.01,242.34 242.15,243.63 241.86,244.74 241.23,245.64 240.33,246.27 239.26,246.63 238.12,246.76 236.97,246.65 235.86,246.41 234.85,246.07 233.93,245.69 233.10,245.26 232.36,244.79 231.70,244.30 231.12,243.80 230.61,243.30 230.16,242.82 229.75,242.36 229.39,241.91 229.06,241.49 228.75,241.07 228.47,240.66 228.21,240.26 227.96,239.85 227.72,239.45 227.50,239.04 227.28,238.62 227.07,238.19 226.86,237.74 226.65,237.27 226.45,236.77 226.24,236.24 226.04,235.66 225.84,235.03 225.65,234.33 225.47,233.56 225.31,232.70 225.18,231.75 225.13,230.71 225.21,229.63 225.45,228.54 225.84,227.46 226.43,226.51 227.29,225.90 228.34,225.75 229.48,226.02 230.53,226.43 231.50,227.00 232.36,227.70 233.09,228.42 233.71,229.09 234.25,229.70 234.73,230.25 235.16,230.77 235.54,231.26 235.89,231.72 236.23,232.16 236.54,232.59 236.84,233.01 237.14,233.43 237.43,233.85 237.72,234.27 238.01,234.72 238.31,235.18 238.62,235.67 238.95,236.20" fill="#fce4e8"/>
<polygon points="238.94,236.77 239.29,237.38 239.68,238.06 240.11,238.85 240.59,239.77 241.08,240.84 241.47,242.04 241.61,243.25 241.35,244.32 240.77,245.18 239.93,245.80 238.94,246.17 237.87,246.31 236.77,246.24 235.72,246.02 234.75,245.71 233.87,245.35 233.07,244.93 232.36,244.49 231.72,244.02 231.17,243.54 230.67,243.06 230.24,242.60 229.85,242.16 229.49,241.74 229.17,241.33 228.87,240.93 228.60,240.53 228.35,240.14 228.11,239.75 227.88,239.36 227.66,238.96 227.45,238.56 227.25,238.14 227.05,237.71 226.85,237.26 226.65,236.77 226.46,236.26 226.26,235.70 226.07,235.09 225.89,234.42 225.72,233.68 225.57,232.85 225.46,231.94 225.43,230.96 225.52,229.93 225.76,228.91 226.15,227.90 226.73,227.02 227.55,226.46 228.56,226.33 229.63,226.59 230.63,226.99 231.55,227.53 232.36,228.19 233.05,228.86 233.64,229.49 234.16,230.06 234.61,230.59 235.01,231.08 235.38,231.54 235.71,231.98 236.03,232.40 236.33,232.81 236.61,233.20 236.89,233.60 237.17,234.00 237.44,234.40 237.72,234.82 238.00,235.26 238.30,235.73 238.61,236.23" fill="#fce3e7"/>
<polygon points="238.58,236.77 238.91,237.35 239.27,237.99 239.68,238.73 240.12,239.60 240.57,240.60 240.94,241.73 241.08,242.88 240.84,243.89 240.31,244.72 239.54,245.33 238.61,245.71 237.61,245.87 236.58,245.82 235.58,245.63 234.66,245.35 233.81,245.01 233.04,244.61 232.36,244.18 231.75,243.73 231.21,243.28 230.74,242.83 230.31,242.39 229.94,241.97 229.59,241.56 229.28,241.17 229.00,240.78 228.73,240.40 228.49,240.02 228.26,239.65 228.04,239.27 227.83,238.89 227.63,238.50 227.43,238.09 227.24,237.68 227.04,237.24 226.86,236.77 226.67,236.28 226.49,235.74 226.30,235.15 226.13,234.51 225.97,233.79 225.83,233.01 225.74,232.14 225.72,231.20 225.82,230.24 226.07,229.28 226.46,228.35 227.02,227.53 227.81,227.02 228.77,226.91 229.78,227.17 230.73,227.55 231.60,228.06 232.36,228.67 233.01,229.30 233.57,229.89 234.06,230.43 234.49,230.93 234.87,231.39 235.21,231.83 235.53,232.24 235.83,232.64 236.11,233.02 236.38,233.40 236.65,233.77 236.91,234.15 237.17,234.53 237.43,234.93 237.70,235.34 237.98,235.78 238.27,236.26" fill="#fbe2e6"/>
<polygon points="238.22,236.77 238.53,237.31 238.86,237.92 239.24,238.62 239.65,239.43 240.06,240.36 240.40,241.42 240.54,242.50 240.34,243.47 239.85,244.26 239.14,244.86 238.29,245.24 237.35,245.42 236.38,245.40 235.44,245.24 234.56,244.99 233.75,244.67 233.02,244.29 232.36,243.88 231.77,243.45 231.26,243.02 230.80,242.59 230.39,242.17 230.03,241.77 229.70,241.38 229.40,241.00 229.12,240.63 228.86,240.27 228.63,239.90 228.40,239.54 228.19,239.18 227.99,238.81 227.80,238.43 227.61,238.05 227.43,237.64 227.24,237.22 227.06,236.77 226.88,236.29 226.71,235.78 226.53,235.21 226.37,234.59 226.22,233.91 226.10,233.16 226.02,232.33 226.01,231.45 226.13,230.55 226.39,229.66 226.77,228.79 227.32,228.04 228.07,227.58 228.98,227.50 229.94,227.74 230.83,228.11 231.64,228.59 232.36,229.16 232.97,229.74 233.50,230.29 233.96,230.79 234.36,231.26 234.72,231.70 235.05,232.11 235.35,232.50 235.63,232.87 235.90,233.23 236.15,233.59 236.40,233.94 236.65,234.30 236.89,234.66 237.14,235.03 237.39,235.42 237.65,235.84 237.93,236.29" fill="#fbe1e5"/>
<polygon points="237.86,236.77 238.14,237.28 238.46,237.85 238.80,238.50 239.17,239.25 239.55,240.13 239.87,241.11 240.00,242.12 239.83,243.04 239.39,243.80 238.75,244.39 237.96,244.78 237.10,244.98 236.19,244.99 235.30,244.85 234.46,244.62 233.69,244.32 232.99,243.97 232.36,243.57 231.80,243.17 231.30,242.76 230.86,242.35 230.47,241.96 230.12,241.57 229.80,241.20 229.51,240.84 229.24,240.49 228.99,240.14 228.77,239.79 228.55,239.44 228.35,239.09 228.16,238.73 227.97,238.37 227.79,238.00 227.61,237.61 227.44,237.20 227.27,236.77 227.10,236.31 226.93,235.82 226.76,235.27 226.61,234.68 226.47,234.03 226.36,233.31 226.29,232.53 226.31,231.70 226.44,230.85 226.70,230.03 227.08,229.24 227.61,228.55 228.33,228.14 229.19,228.08 230.09,228.32 230.93,228.67 231.69,229.12 232.36,229.65 232.93,230.18 233.43,230.69 233.86,231.16 234.24,231.60 234.58,232.01 234.89,232.39 235.17,232.76 235.43,233.11 235.68,233.45 235.92,233.78 236.16,234.11 236.39,234.45 236.62,234.79 236.85,235.14 237.09,235.51 237.33,235.90 237.59,236.32" fill="#fbe0e4"/>
<polygon points="237.49,236.77 237.76,237.25 238.05,237.78 238.36,238.38 238.70,239.08 239.04,239.89 239.33,240.80 239.46,241.75 239.32,242.62 238.93,243.34 238.35,243.91 237.64,244.32 236.84,244.54 235.99,244.57 235.16,244.46 234.36,244.26 233.63,243.98 232.96,243.64 232.36,243.27 231.82,242.88 231.35,242.49 230.93,242.11 230.55,241.74 230.21,241.38 229.90,241.03 229.62,240.68 229.36,240.34 229.13,240.01 228.91,239.67 228.70,239.33 228.51,239.00 228.32,238.65 228.15,238.31 227.97,237.95 227.80,237.58 227.64,237.19 227.47,236.77 227.31,236.33 227.15,235.85 226.99,235.34 226.85,234.77 226.72,234.14 226.62,233.46 226.57,232.72 226.60,231.94 226.75,231.16 227.01,230.40 227.39,229.68 227.91,229.07 228.59,228.70 229.41,228.66 230.25,228.89 231.03,229.23 231.73,229.65 232.36,230.13 232.90,230.62 233.36,231.09 233.76,231.52 234.12,231.93 234.44,232.32 234.72,232.68 234.99,233.02 235.24,233.34 235.47,233.66 235.69,233.97 235.91,234.29 236.13,234.60 236.34,234.92 236.56,235.24 236.78,235.59 237.01,235.95 237.24,236.35" fill="#fbdfe3"/>
<polygon points="237.13,236.77 237.38,237.21 237.64,237.71 237.93,238.27 238.23,238.91 238.53,239.65 238.79,240.49 238.92,241.37 238.81,242.19 238.47,242.89 237.96,243.44 237.31,243.85 236.58,244.09 235.80,244.15 235.02,244.08 234.27,243.90 233.57,243.64 232.93,243.32 232.36,242.97 231.85,242.60 231.40,242.23 230.99,241.87 230.63,241.52 230.30,241.18 230.00,240.85 229.73,240.52 229.48,240.20 229.26,239.88 229.05,239.55 228.85,239.23 228.66,238.91 228.49,238.58 228.32,238.24 228.15,237.90 227.99,237.54 227.83,237.17 227.68,236.77 227.52,236.35 227.37,235.89 227.22,235.40 227.09,234.85 226.97,234.26 226.88,233.61 226.85,232.92 226.89,232.19 227.05,231.47 227.33,230.78 227.70,230.12 228.20,229.58 228.85,229.25 229.62,229.24 230.40,229.47 231.13,229.79 231.78,230.18 232.36,230.62 232.86,231.06 233.29,231.49 233.67,231.89 234.00,232.27 234.29,232.62 234.56,232.96 234.81,233.27 235.04,233.58 235.25,233.88 235.46,234.17 235.67,234.46 235.87,234.75 236.07,235.04 236.27,235.35 236.47,235.67 236.68,236.01 236.90,236.38" fill="#fadde2"/>
<polygon points="236.77,236.77 237.00,237.18 237.23,237.63 237.49,238.15 237.76,238.74 238.03,239.42 238.26,240.18 238.38,240.99 238.31,241.76 238.01,242.43 237.56,242.97 236.99,243.39 236.33,243.65 235.60,243.74 234.87,243.69 234.17,243.54 233.51,243.30 232.90,243.00 232.36,242.66 231.87,242.32 231.44,241.97 231.06,241.64 230.71,241.31 230.39,240.99 230.11,240.67 229.84,240.36 229.61,240.05 229.39,239.74 229.19,239.44 229.00,239.13 228.82,238.82 228.65,238.50 228.49,238.18 228.34,237.85 228.18,237.51 228.03,237.15 227.88,236.77 227.74,236.37 227.59,235.93 227.45,235.46 227.33,234.94 227.22,234.38 227.15,233.76 227.13,233.11 227.19,232.43 227.36,231.78 227.64,231.15 228.01,230.57 228.50,230.09 229.11,229.81 229.83,229.83 230.55,230.04 231.23,230.35 231.83,230.71 232.36,231.11 232.82,231.50 233.22,231.89 233.57,232.26 233.88,232.60 234.15,232.93 234.40,233.24 234.63,233.53 234.84,233.82 235.04,234.09 235.23,234.36 235.42,234.63 235.61,234.90 235.79,235.17 235.98,235.46 236.17,235.75 236.36,236.07 236.56,236.41" fill="#fadce1"/>
<path d="M229.46,230.36C230.35,230.29 231.75,230.99 232.89,232.04C234.04,233.08 235.50,235.16 236.33,236.62C237.16,238.08 237.86,239.74 237.86,240.82C237.86,241.90 237.09,242.77 236.33,243.11C235.57,243.46 234.36,243.39 233.27,242.88C232.19,242.37 230.75,241.23 229.84,240.06C228.92,238.89 228.16,237.13 227.78,235.86C227.39,234.58 227.27,233.34 227.55,232.42C227.83,231.50 228.56,230.42 229.46,230.36Z" fill="#f7c8d0"/>
<polygon points="236.12,236.77 236.31,237.12 236.51,237.51 236.72,237.94 236.93,238.44 237.15,239.01 237.34,239.65 237.45,240.34 237.41,241.01 237.18,241.60 236.82,242.09 236.36,242.49 235.81,242.75 235.19,242.85 234.56,242.83 233.95,242.72 233.37,242.52 232.84,242.25 232.36,241.96 231.93,241.66 231.55,241.36 231.21,241.07 230.90,240.78 230.62,240.50 230.36,240.23 230.13,239.96 229.92,239.68 229.72,239.41 229.54,239.14 229.38,238.86 229.22,238.59 229.07,238.31 228.93,238.02 228.79,237.73 228.66,237.43 228.52,237.11 228.39,236.77 228.26,236.42 228.14,236.03 228.01,235.61 227.91,235.15 227.82,234.66 227.76,234.12 227.76,233.55 227.83,232.97 228.00,232.42 228.27,231.90 228.61,231.42 229.05,231.04 229.59,230.83 230.21,230.86 230.83,231.06 231.40,231.33 231.91,231.64 232.36,231.96 232.75,232.29 233.09,232.61 233.39,232.92 233.65,233.21 233.89,233.49 234.10,233.76 234.30,234.01 234.48,234.25 234.65,234.48 234.82,234.71 234.98,234.94 235.13,235.17 235.29,235.41 235.45,235.65 235.61,235.90 235.77,236.17 235.95,236.46" fill="#f7c7cf"/>
<polygon points="235.83,236.77 236.01,237.09 236.19,237.45 236.38,237.85 236.58,238.31 236.78,238.84 236.96,239.43 237.06,240.07 237.02,240.69 236.81,241.23 236.48,241.68 236.05,242.05 235.54,242.29 234.97,242.38 234.39,242.37 233.83,242.26 233.29,242.07 232.80,241.83 232.36,241.56 231.96,241.28 231.61,241.01 231.30,240.74 231.01,240.47 230.75,240.22 230.52,239.96 230.30,239.71 230.10,239.46 229.92,239.21 229.76,238.95 229.61,238.70 229.46,238.45 229.32,238.19 229.19,237.93 229.07,237.66 228.94,237.38 228.82,237.08 228.70,236.77 228.58,236.44 228.46,236.09 228.35,235.70 228.25,235.28 228.17,234.82 228.12,234.32 228.11,233.80 228.18,233.27 228.34,232.75 228.58,232.27 228.90,231.84 229.30,231.48 229.80,231.29 230.37,231.32 230.94,231.50 231.47,231.75 231.94,232.04 232.36,232.33 232.72,232.63 233.04,232.93 233.31,233.21 233.55,233.49 233.77,233.74 233.97,233.99 234.15,234.22 234.31,234.44 234.47,234.66 234.63,234.87 234.77,235.08 234.92,235.29 235.06,235.51 235.21,235.73 235.36,235.97 235.51,236.22 235.67,236.48" fill="#f7c6cf"/>
<polygon points="235.54,236.77 235.70,237.07 235.87,237.39 236.05,237.76 236.23,238.18 236.41,238.66 236.57,239.21 236.67,239.79 236.63,240.36 236.44,240.85 236.13,241.27 235.74,241.61 235.28,241.83 234.76,241.92 234.22,241.90 233.71,241.80 233.21,241.63 232.76,241.41 232.36,241.16 232.00,240.90 231.67,240.65 231.38,240.41 231.12,240.17 230.89,239.93 230.67,239.70 230.47,239.47 230.29,239.24 230.13,239.00 229.98,238.77 229.83,238.54 229.70,238.31 229.58,238.07 229.46,237.83 229.34,237.58 229.23,237.33 229.11,237.06 229.00,236.77 228.89,236.47 228.79,236.14 228.68,235.79 228.59,235.40 228.52,234.98 228.47,234.53 228.47,234.05 228.53,233.56 228.67,233.09 228.90,232.65 229.19,232.25 229.56,231.92 230.01,231.74 230.54,231.77 231.06,231.94 231.55,232.17 231.98,232.43 232.36,232.70 232.69,232.98 232.98,233.25 233.23,233.51 233.45,233.76 233.65,234.00 233.83,234.22 234.00,234.43 234.15,234.64 234.30,234.83 234.44,235.03 234.57,235.22 234.71,235.42 234.84,235.62 234.97,235.82 235.11,236.04 235.25,236.26 235.39,236.51" fill="#f7c5ce"/>
<polygon points="235.25,236.77 235.40,237.04 235.55,237.34 235.71,237.67 235.88,238.05 236.04,238.49 236.19,238.99 236.28,239.52 236.24,240.03 236.07,240.48 235.79,240.86 235.43,241.17 235.01,241.37 234.54,241.45 234.05,241.43 233.58,241.35 233.14,241.19 232.73,240.99 232.36,240.76 232.03,240.53 231.74,240.30 231.47,240.08 231.24,239.86 231.02,239.64 230.82,239.43 230.64,239.22 230.48,239.01 230.33,238.80 230.19,238.59 230.06,238.38 229.94,238.17 229.83,237.95 229.72,237.73 229.61,237.51 229.51,237.28 229.41,237.03 229.31,236.77 229.21,236.50 229.11,236.20 229.02,235.88 228.93,235.53 228.87,235.14 228.82,234.73 228.82,234.30 228.87,233.85 229.01,233.42 229.21,233.02 229.48,232.66 229.81,232.36 230.23,232.20 230.70,232.23 231.18,232.38 231.62,232.59 232.01,232.82 232.36,233.07 232.66,233.32 232.92,233.57 233.15,233.81 233.35,234.03 233.53,234.25 233.70,234.45 233.85,234.64 233.99,234.83 234.12,235.01 234.25,235.19 234.37,235.36 234.49,235.54 234.61,235.72 234.74,235.91 234.86,236.10 234.99,236.31 235.12,236.53" fill="#f6c5cd"/>
<polygon points="234.97,236.77 235.09,237.01 235.23,237.28 235.38,237.58 235.53,237.93 235.67,238.32 235.81,238.76 235.89,239.24 235.85,239.71 235.70,240.11 235.45,240.46 235.13,240.73 234.75,240.91 234.32,240.98 233.88,240.97 233.46,240.89 233.06,240.75 232.69,240.57 232.36,240.36 232.06,240.15 231.80,239.95 231.56,239.75 231.35,239.55 231.15,239.36 230.98,239.17 230.81,238.98 230.67,238.79 230.53,238.60 230.41,238.41 230.29,238.22 230.18,238.03 230.08,237.83 229.98,237.64 229.89,237.43 229.80,237.23 229.70,237.01 229.61,236.77 229.52,236.53 229.44,236.26 229.35,235.97 229.28,235.65 229.21,235.31 229.18,234.94 229.17,234.54 229.22,234.14 229.34,233.76 229.53,233.40 229.76,233.07 230.07,232.80 230.44,232.66 230.87,232.68 231.30,232.82 231.69,233.01 232.05,233.22 232.36,233.44 232.63,233.67 232.87,233.89 233.07,234.10 233.25,234.31 233.42,234.50 233.56,234.68 233.70,234.86 233.83,235.02 233.94,235.19 234.06,235.35 234.17,235.50 234.28,235.66 234.39,235.83 234.50,235.99 234.61,236.17 234.72,236.36 234.84,236.56" fill="#f6c4cc"/>
<polygon points="234.68,236.77 234.79,236.99 234.91,237.22 235.04,237.49 235.17,237.80 235.31,238.15 235.42,238.54 235.49,238.97 235.47,239.38 235.33,239.74 235.10,240.05 234.82,240.29 234.48,240.45 234.10,240.51 233.72,240.50 233.34,240.43 232.98,240.31 232.65,240.14 232.36,239.96 232.10,239.78 231.86,239.60 231.65,239.42 231.46,239.24 231.29,239.07 231.13,238.90 230.99,238.73 230.85,238.56 230.74,238.40 230.63,238.23 230.52,238.06 230.43,237.89 230.34,237.72 230.25,237.54 230.16,237.36 230.08,237.17 230.00,236.98 229.92,236.77 229.84,236.55 229.76,236.32 229.69,236.06 229.62,235.78 229.56,235.47 229.53,235.14 229.53,234.79 229.57,234.43 229.68,234.09 229.84,233.77 230.05,233.48 230.32,233.24 230.65,233.12 231.03,233.14 231.42,233.26 231.77,233.42 232.08,233.61 232.36,233.81 232.60,234.01 232.81,234.21 232.99,234.40 233.16,234.58 233.30,234.75 233.43,234.92 233.55,235.07 233.66,235.22 233.77,235.36 233.87,235.50 233.97,235.65 234.07,235.79 234.16,235.93 234.26,236.08 234.36,236.24 234.46,236.40 234.57,236.58" fill="#f6c3cc"/>
<polygon points="234.39,236.77 234.49,236.96 234.59,237.17 234.70,237.40 234.82,237.67 234.94,237.98 235.04,238.32 235.10,238.69 235.08,239.06 234.96,239.37 234.76,239.64 234.51,239.85 234.21,239.99 233.88,240.05 233.55,240.04 233.22,239.97 232.90,239.87 232.62,239.72 232.36,239.56 232.13,239.40 231.92,239.24 231.74,239.09 231.57,238.93 231.42,238.78 231.28,238.63 231.16,238.49 231.04,238.34 230.94,238.19 230.84,238.05 230.75,237.90 230.67,237.75 230.59,237.60 230.51,237.45 230.44,237.29 230.37,237.12 230.29,236.95 230.22,236.77 230.15,236.58 230.08,236.37 230.02,236.15 229.96,235.90 229.91,235.63 229.88,235.34 229.88,235.04 229.92,234.73 230.01,234.43 230.15,234.15 230.34,233.89 230.58,233.69 230.87,233.57 231.20,233.59 231.53,233.70 231.84,233.84 232.12,234.01 232.36,234.18 232.57,234.36 232.75,234.53 232.91,234.70 233.06,234.86 233.18,235.01 233.30,235.15 233.40,235.28 233.50,235.41 233.59,235.54 233.68,235.66 233.77,235.79 233.85,235.91 233.94,236.04 234.02,236.17 234.11,236.30 234.20,236.45 234.29,236.60" fill="#f6c2cb"/>
<polygon points="234.10,236.77 234.18,236.93 234.27,237.11 234.37,237.31 234.47,237.54 234.57,237.80 234.66,238.10 234.71,238.42 234.69,238.73 234.58,239.00 234.42,239.23 234.20,239.41 233.95,239.53 233.67,239.58 233.38,239.57 233.09,239.52 232.83,239.42 232.58,239.30 232.36,239.17 232.16,239.03 231.98,238.89 231.83,238.76 231.68,238.62 231.55,238.50 231.44,238.37 231.33,238.24 231.23,238.12 231.14,237.99 231.06,237.86 230.98,237.74 230.91,237.61 230.84,237.48 230.78,237.35 230.71,237.21 230.65,237.07 230.59,236.93 230.53,236.77 230.47,236.61 230.41,236.43 230.35,236.24 230.30,236.03 230.26,235.80 230.24,235.55 230.23,235.29 230.27,235.02 230.35,234.76 230.47,234.52 230.63,234.30 230.83,234.13 231.08,234.03 231.37,234.05 231.65,234.14 231.92,234.26 232.15,234.40 232.36,234.55 232.54,234.70 232.70,234.85 232.83,234.99 232.96,235.13 233.06,235.26 233.16,235.38 233.25,235.50 233.34,235.61 233.42,235.72 233.49,235.82 233.57,235.93 233.64,236.03 233.71,236.14 233.78,236.25 233.86,236.37 233.93,236.50 234.01,236.63" fill="#f6c1ca"/>
<polygon points="233.81,236.77 233.88,236.91 233.95,237.05 234.03,237.22 234.12,237.41 234.20,237.63 234.27,237.88 234.32,238.15 234.30,238.40 234.21,238.63 234.07,238.82 233.90,238.97 233.68,239.07 233.45,239.11 233.21,239.10 232.97,239.06 232.75,238.98 232.54,238.88 232.36,238.77 232.19,238.65 232.05,238.54 231.92,238.42 231.80,238.32 231.69,238.21 231.59,238.10 231.50,238.00 231.42,237.89 231.34,237.79 231.27,237.68 231.21,237.58 231.15,237.47 231.09,237.36 231.04,237.25 230.99,237.14 230.93,237.02 230.88,236.90 230.83,236.77 230.78,236.64 230.73,236.49 230.69,236.33 230.65,236.15 230.61,235.96 230.59,235.75 230.59,235.53 230.62,235.31 230.68,235.10 230.78,234.90 230.92,234.72 231.08,234.57 231.29,234.49 231.53,234.50 231.77,234.58 231.99,234.68 232.19,234.80 232.36,234.92 232.51,235.05 232.64,235.17 232.76,235.29 232.86,235.40 232.95,235.51 233.03,235.61 233.10,235.71 233.17,235.80 233.24,235.89 233.30,235.98 233.36,236.07 233.43,236.16 233.49,236.25 233.55,236.34 233.61,236.44 233.67,236.54 233.74,236.65" fill="#f6c0ca"/>
<polygon points="233.52,236.77 233.57,236.88 233.63,237.00 233.70,237.13 233.77,237.29 233.83,237.46 233.89,237.66 233.93,237.87 233.91,238.08 233.84,238.26 233.73,238.41 233.59,238.53 233.42,238.61 233.23,238.64 233.04,238.64 232.85,238.60 232.67,238.54 232.51,238.46 232.36,238.37 232.23,238.28 232.11,238.18 232.00,238.09 231.91,238.01 231.82,237.92 231.74,237.84 231.67,237.75 231.61,237.67 231.55,237.58 231.49,237.50 231.44,237.42 231.39,237.33 231.35,237.24 231.30,237.16 231.26,237.07 231.22,236.97 231.18,236.88 231.14,236.77 231.10,236.66 231.06,236.54 231.02,236.42 230.99,236.27 230.96,236.12 230.94,235.96 230.94,235.78 230.96,235.60 231.02,235.43 231.10,235.27 231.21,235.13 231.34,235.01 231.51,234.94 231.70,234.96 231.89,235.01 232.06,235.10 232.22,235.19 232.36,235.29 232.48,235.39 232.58,235.49 232.68,235.59 232.76,235.68 232.83,235.76 232.89,235.84 232.95,235.92 233.01,236.00 233.06,236.07 233.11,236.14 233.16,236.21 233.21,236.28 233.26,236.35 233.31,236.43 233.36,236.51 233.41,236.59 233.46,236.68" fill="#f6bfc9"/>
<polygon points="233.23,236.77 233.27,236.85 233.32,236.94 233.36,237.04 233.41,237.16 233.46,237.29 233.51,237.44 233.53,237.60 233.52,237.75 233.47,237.89 233.39,238.00 233.28,238.09 233.15,238.15 233.01,238.18 232.87,238.17 232.73,238.14 232.59,238.10 232.47,238.04 232.36,237.97 232.26,237.90 232.17,237.83 232.09,237.76 232.02,237.70 231.96,237.63 231.90,237.57 231.84,237.51 231.79,237.45 231.75,237.38 231.71,237.32 231.67,237.26 231.63,237.19 231.60,237.13 231.57,237.06 231.54,236.99 231.50,236.92 231.47,236.85 231.44,236.77 231.41,236.69 231.38,236.60 231.36,236.50 231.33,236.40 231.31,236.28 231.30,236.16 231.30,236.03 231.31,235.90 231.35,235.77 231.41,235.65 231.49,235.54 231.59,235.45 231.72,235.40 231.86,235.41 232.00,235.45 232.14,235.52 232.25,235.59 232.36,235.66 232.45,235.74 232.53,235.81 232.60,235.88 232.66,235.95 232.71,236.02 232.76,236.08 232.81,236.13 232.85,236.19 232.89,236.24 232.93,236.30 232.96,236.35 233.00,236.40 233.03,236.46 233.07,236.51 233.11,236.57 233.15,236.63 233.19,236.70" fill="#f5bfc8"/>
<polygon points="232.94,236.77 232.97,236.83 233.00,236.89 233.03,236.95 233.06,237.03 233.09,237.12 233.12,237.22 233.14,237.32 233.14,237.43 233.10,237.52 233.04,237.59 232.97,237.65 232.89,237.69 232.79,237.71 232.70,237.71 232.60,237.69 232.51,237.66 232.43,237.62 232.36,237.57 232.29,237.52 232.23,237.48 232.18,237.43 232.13,237.39 232.09,237.35 232.05,237.31 232.01,237.26 231.98,237.22 231.95,237.18 231.92,237.14 231.90,237.09 231.88,237.05 231.85,237.01 231.83,236.97 231.81,236.92 231.79,236.87 231.77,236.82 231.75,236.77 231.73,236.72 231.71,236.66 231.69,236.59 231.67,236.52 231.66,236.45 231.65,236.37 231.65,236.28 231.66,236.19 231.69,236.10 231.73,236.02 231.78,235.95 231.85,235.89 231.93,235.86 232.03,235.86 232.12,235.89 232.21,235.94 232.29,235.98 232.36,236.03 232.42,236.08 232.47,236.13 232.52,236.18 232.56,236.23 232.59,236.27 232.63,236.31 232.66,236.35 232.68,236.38 232.71,236.42 232.74,236.46 232.76,236.49 232.79,236.53 232.81,236.56 232.83,236.60 232.86,236.64 232.88,236.68 232.91,236.72" fill="#f5bec7"/>
<polygon points="232.65,236.77 232.66,236.80 232.68,236.83 232.69,236.86 232.71,236.90 232.73,236.95 232.74,236.99 232.75,237.05 232.75,237.10 232.73,237.14 232.70,237.18 232.67,237.21 232.62,237.23 232.58,237.24 232.53,237.24 232.48,237.23 232.44,237.22 232.39,237.19 232.36,237.17 232.33,237.15 232.30,237.13 232.27,237.10 232.25,237.08 232.22,237.06 232.20,237.04 232.19,237.02 232.17,237.00 232.16,236.98 232.14,236.96 232.13,236.93 232.12,236.91 232.11,236.89 232.09,236.87 232.08,236.85 232.07,236.82 232.06,236.80 232.05,236.77 232.04,236.75 232.03,236.72 232.02,236.68 232.02,236.65 232.01,236.61 232.00,236.57 232.00,236.53 232.01,236.48 232.02,236.44 232.04,236.40 232.07,236.36 232.10,236.33 232.14,236.32 232.19,236.32 232.24,236.33 232.28,236.35 232.32,236.38 232.36,236.40 232.39,236.43 232.41,236.45 232.44,236.48 232.46,236.50 232.48,236.52 232.49,236.54 232.51,236.56 232.52,236.58 232.53,236.60 232.55,236.61 232.56,236.63 232.57,236.65 232.58,236.67 232.60,236.69 232.61,236.71 232.62,236.73 232.63,236.75" fill="#f5bdc7"/>
<path d="M227.16,222.26C228.08,222.42 229.71,222.77 230.98,223.64C232.26,224.50 233.53,225.99 234.80,227.46C236.07,228.92 237.41,230.70 238.62,232.42C239.83,234.14 241.04,236.05 242.06,237.77C243.08,239.48 244.18,241.33 244.73,242.73C245.28,244.13 245.53,245.17 245.34,246.17C245.15,247.16 244.45,248.14 243.58,248.69C242.72,249.23 241.42,249.49 240.15,249.45C238.88,249.41 237.35,249.01 235.95,248.46C234.55,247.91 233.02,247.19 231.75,246.17C230.47,245.15 229.33,243.75 228.31,242.35C227.29,240.95 226.36,239.36 225.64,237.77C224.91,236.18 224.34,234.39 223.96,232.80C223.58,231.21 223.32,229.62 223.35,228.22C223.37,226.82 223.75,225.32 224.11,224.40C224.47,223.48 224.98,223.08 225.48,222.72C225.99,222.36 226.25,222.11 227.16,222.26Z" fill="none" stroke="#000" stroke-width="1.0"/>
</g>
<path d="M229.46,230.36C230.35,230.29 231.75,230.99 232.89,232.04C234.04,233.08 235.50,235.16 236.33,236.62C237.16,238.08 237.86,239.74 237.86,240.82C237.86,241.90 237.09,242.77 236.33,243.11C235.57,243.46 234.36,243.39 233.27,242.88C232.19,242.37 230.75,241.23 229.84,240.06C228.92,238.89 228.16,237.13 227.78,235.86C227.39,234.58 227.27,233.34 227.55,232.42C227.83,231.50 228.56,230.42 229.46,230.36Z" fill="none" stroke="#000" stroke-width="1.0"/>
<path d="M228.70,236.50H236.30M232.50,232.90V240.10" stroke="#000" stroke-width="1" fill="none"/>
<rect x="199.50" y="198.50" width="97.15" height="74.30" fill="none" stroke="#000" stroke-width="1"/>
<path d="M203.35,272.80v6.6M225.76,272.80v6.6M248.18,272.80v6.6M270.59,272.80v6.6M293.00,272.80v6.6M199.50,270.10h-6.8M199.50,254.80h-6.8M199.50,239.40h-6.8M199.50,224.10h-6.8M199.50,208.50h-6.8" stroke="#000" stroke-width="1" fill="none"/>
<text class="a" x="203.35" y="295.60">0.00</text>
<text class="a" x="248.18" y="295.60">0.04</text>
<text class="a" x="293.00" y="295.60">0.08</text>
<text class="a" transform="translate(184.50,270.10) rotate(-90)">0</text>
<text class="a" transform="translate(184.50,239.40) rotate(-90)">100</text>
<text class="a" transform="translate(184.50,208.50) rotate(-90)">200</text>
<text class="p" x="248.18" y="308.60">π</text>
<g transform="translate(167.30,244.35) rotate(-90)">
<text class="g" x="0" y="0">γ</text><path d="M0.1,-6.2h4.6" stroke="#000" stroke-width="1"/>
<text class="s" x="4.60" y="2.60">dn</text><text class="ss" x="13.40" y="3.90">2</text>
</g>
<text class="t" x="248.07" y="169.20">LoF de novo</text>
<text class="t" x="248.07" y="185.20">(ID)</text>
</g>
<g>
<g>
<path d="M75.07,366.96C75.90,367.22 77.43,367.66 78.51,368.87C79.59,370.08 80.65,372.18 81.57,374.22C82.48,376.26 83.31,378.80 84.01,381.09C84.71,383.38 85.35,385.80 85.77,387.97C86.19,390.13 86.47,392.04 86.53,394.08C86.59,396.11 86.53,398.28 86.15,400.19C85.77,402.10 85.07,404.13 84.24,405.53C83.41,406.93 82.07,408.01 81.18,408.59C80.29,409.16 79.85,409.22 78.89,408.97C77.94,408.71 76.47,408.14 75.46,407.06C74.44,405.98 73.55,404.26 72.78,402.48C72.02,400.70 71.38,398.53 70.87,396.37C70.36,394.20 69.92,391.79 69.73,389.49C69.54,387.20 69.60,384.91 69.73,382.62C69.86,380.33 70.11,377.91 70.49,375.75C70.87,373.58 71.51,371.04 72.02,369.64C72.53,368.24 73.04,367.79 73.55,367.35C74.06,366.90 74.25,366.71 75.07,366.96Z" fill="#d6f8ca"/>
<polygon points="86.02,392.01 86.09,392.80 86.13,393.61 86.16,394.45 86.17,395.33 86.15,396.25 86.10,397.24 86.01,398.28 85.86,399.40 85.62,400.57 85.28,401.81 84.84,403.12 84.25,404.47 83.46,405.75 82.47,406.87 81.30,407.84 79.97,408.53 78.49,408.35 77.06,407.77 75.76,406.87 74.67,405.55 73.82,404.11 73.16,402.74 72.63,401.51 72.22,400.39 71.90,399.39 71.63,398.48 71.41,397.67 71.21,396.92 71.05,396.22 70.90,395.57 70.76,394.95 70.64,394.35 70.53,393.77 70.42,393.19 70.32,392.60 70.23,392.01 70.14,391.41 70.07,390.78 69.99,390.12 69.93,389.42 69.89,388.67 69.85,387.85 69.84,386.96 69.84,385.96 69.87,384.83 69.93,383.52 70.03,381.98 70.20,380.13 70.47,377.89 70.94,375.21 71.71,372.06 73.00,368.99 74.95,367.85 77.06,368.63 78.96,370.32 80.45,372.81 81.57,375.19 82.41,377.32 83.04,379.18 83.55,380.78 83.96,382.16 84.31,383.38 84.60,384.47 84.85,385.48 85.07,386.41 85.26,387.28 85.43,388.11 85.58,388.91 85.71,389.70 85.83,390.47 85.93,391.24" fill="#d4f8c7"/>
<polygon points="85.65,392.01 85.71,392.77 85.75,393.55 85.78,394.35 85.78,395.19 85.76,396.07 85.72,397.01 85.63,398.02 85.48,399.08 85.25,400.21 84.94,401.40 84.51,402.66 83.96,403.96 83.21,405.21 82.26,406.31 81.15,407.27 79.87,407.97 78.44,407.84 77.06,407.29 75.80,406.41 74.75,405.14 73.92,403.75 73.27,402.42 72.77,401.22 72.37,400.14 72.05,399.17 71.79,398.29 71.57,397.50 71.39,396.77 71.22,396.10 71.08,395.47 70.95,394.86 70.83,394.28 70.72,393.71 70.62,393.15 70.52,392.59 70.43,392.01 70.35,391.43 70.28,390.82 70.21,390.18 70.15,389.50 70.11,388.77 70.08,387.98 70.07,387.12 70.08,386.16 70.11,385.06 70.17,383.81 70.27,382.32 70.44,380.54 70.71,378.40 71.17,375.84 71.92,372.84 73.16,369.91 75.03,368.80 77.06,369.50 78.89,371.13 80.32,373.50 81.41,375.79 82.21,377.85 82.83,379.65 83.31,381.19 83.70,382.53 84.03,383.71 84.31,384.77 84.55,385.73 84.75,386.63 84.93,387.47 85.09,388.27 85.23,389.04 85.36,389.79 85.47,390.53 85.57,391.27" fill="#d1f7c3"/>
<polygon points="85.28,392.01 85.33,392.74 85.37,393.48 85.39,394.25 85.39,395.05 85.38,395.89 85.33,396.79 85.25,397.75 85.11,398.77 84.89,399.84 84.59,400.99 84.19,402.20 83.66,403.45 82.96,404.67 82.06,405.75 81.00,406.71 79.77,407.41 78.40,407.33 77.06,406.81 75.84,405.95 74.82,404.73 74.01,403.38 73.39,402.10 72.90,400.94 72.51,399.89 72.20,398.95 71.95,398.10 71.74,397.33 71.56,396.63 71.40,395.98 71.26,395.36 71.13,394.78 71.02,394.21 70.91,393.66 70.81,393.12 70.72,392.57 70.64,392.01 70.56,391.45 70.49,390.86 70.42,390.24 70.37,389.58 70.33,388.88 70.31,388.11 70.30,387.28 70.31,386.35 70.35,385.30 70.41,384.09 70.51,382.66 70.68,380.96 70.95,378.91 71.40,376.47 72.13,373.62 73.33,370.84 75.11,369.74 77.06,370.38 78.82,371.93 80.20,374.20 81.25,376.39 82.02,378.38 82.61,380.12 83.07,381.61 83.44,382.90 83.75,384.04 84.02,385.06 84.24,385.99 84.44,386.85 84.61,387.66 84.76,388.43 84.89,389.17 85.01,389.89 85.11,390.59 85.20,391.30" fill="#cdf6bf"/>
<polygon points="84.90,392.01 84.96,392.71 84.99,393.41 85.01,394.14 85.01,394.91 84.99,395.71 84.95,396.57 84.86,397.48 84.73,398.45 84.53,399.48 84.24,400.58 83.87,401.74 83.37,402.94 82.71,404.12 81.85,405.19 80.85,406.14 79.68,406.85 78.35,406.82 77.06,406.33 75.88,405.50 74.89,404.32 74.11,403.02 73.50,401.78 73.03,400.66 72.66,399.64 72.36,398.73 72.11,397.91 71.91,397.17 71.73,396.49 71.58,395.85 71.44,395.26 71.32,394.69 71.21,394.14 71.10,393.61 71.01,393.08 70.92,392.55 70.84,392.01 70.76,391.46 70.70,390.89 70.64,390.29 70.59,389.66 70.55,388.98 70.53,388.24 70.53,387.44 70.54,386.55 70.58,385.54 70.65,384.37 70.75,383.01 70.92,381.38 71.19,379.43 71.63,377.10 72.34,374.40 73.49,371.76 75.19,370.69 77.06,371.26 78.75,372.73 80.08,374.89 81.09,376.99 81.83,378.90 82.39,380.58 82.83,382.02 83.18,383.27 83.48,384.36 83.73,385.35 83.94,386.24 84.12,387.07 84.28,387.84 84.42,388.58 84.54,389.29 84.65,389.98 84.75,390.66 84.84,391.33" fill="#caf6bb"/>
<polygon points="84.53,392.01 84.58,392.67 84.61,393.35 84.63,394.04 84.62,394.77 84.60,395.53 84.56,396.35 84.48,397.21 84.36,398.14 84.16,399.12 83.90,400.16 83.54,401.27 83.08,402.44 82.45,403.58 81.65,404.63 80.69,405.58 79.58,406.29 78.31,406.30 77.06,405.85 75.92,405.04 74.96,403.91 74.21,402.66 73.62,401.47 73.16,400.38 72.80,399.39 72.51,398.51 72.27,397.72 72.07,397.00 71.90,396.34 71.75,395.73 71.62,395.15 71.50,394.61 71.40,394.08 71.30,393.56 71.21,393.05 71.12,392.53 71.04,392.01 70.97,391.48 70.91,390.93 70.85,390.35 70.81,389.74 70.78,389.08 70.76,388.38 70.76,387.60 70.77,386.74 70.82,385.77 70.89,384.66 70.99,383.35 71.16,381.80 71.43,379.94 71.86,377.73 72.55,375.18 73.65,372.69 75.28,371.63 77.06,372.14 78.68,373.54 79.96,375.58 80.93,377.58 81.64,379.43 82.17,381.05 82.59,382.44 82.92,383.64 83.20,384.69 83.44,385.64 83.64,386.50 83.81,387.29 83.96,388.03 84.09,388.74 84.20,389.42 84.30,390.07 84.39,390.72 84.47,391.37" fill="#c7f5b7"/>
<polygon points="84.16,392.01 84.20,392.64 84.23,393.28 84.24,393.94 84.24,394.63 84.22,395.35 84.18,396.12 84.10,396.94 83.98,397.82 83.80,398.75 83.55,399.75 83.22,400.81 82.78,401.93 82.20,403.04 81.45,404.07 80.54,405.01 79.48,405.73 78.26,405.79 77.06,405.36 75.96,404.59 75.04,403.49 74.30,402.30 73.74,401.15 73.29,400.09 72.94,399.14 72.66,398.29 72.43,397.53 72.24,396.83 72.08,396.20 71.93,395.61 71.80,395.05 71.69,394.52 71.58,394.01 71.49,393.51 71.40,393.01 71.32,392.52 71.25,392.01 71.18,391.50 71.12,390.97 71.07,390.41 71.02,389.82 71.00,389.19 70.98,388.51 70.98,387.76 71.01,386.94 71.05,386.01 71.12,384.94 71.23,383.69 71.40,382.22 71.67,380.45 72.09,378.36 72.76,375.95 73.82,373.61 75.36,372.57 77.06,373.02 78.61,374.34 79.84,376.27 80.77,378.18 81.45,379.95 81.96,381.51 82.35,382.85 82.67,384.01 82.93,385.02 83.15,385.93 83.33,386.75 83.49,387.51 83.63,388.22 83.75,388.89 83.86,389.54 83.95,390.17 84.03,390.78 84.10,391.40" fill="#c3f5b3"/>
<polygon points="83.79,392.01 83.83,392.61 83.85,393.21 83.86,393.84 83.85,394.49 83.83,395.17 83.79,395.90 83.72,396.68 83.60,397.51 83.43,398.39 83.20,399.34 82.90,400.35 82.49,401.42 81.95,402.50 81.24,403.51 80.39,404.44 79.38,405.17 78.22,405.28 77.06,404.88 76.00,404.13 75.11,403.08 74.40,401.93 73.85,400.83 73.42,399.81 73.09,398.90 72.82,398.07 72.59,397.34 72.41,396.67 72.25,396.05 72.11,395.48 71.99,394.94 71.87,394.43 71.77,393.94 71.68,393.46 71.60,392.98 71.52,392.50 71.45,392.01 71.38,391.52 71.33,391.00 71.28,390.47 71.24,389.90 71.22,389.29 71.21,388.64 71.21,387.92 71.24,387.13 71.29,386.24 71.36,385.22 71.47,384.04 71.64,382.63 71.91,380.96 72.32,378.99 72.97,376.73 73.98,374.54 75.44,373.52 77.06,373.90 78.54,375.14 79.71,376.96 80.61,378.78 81.26,380.48 81.74,381.98 82.11,383.27 82.41,384.38 82.65,385.35 82.85,386.22 83.03,387.01 83.17,387.73 83.30,388.41 83.41,389.05 83.51,389.67 83.60,390.26 83.67,390.85 83.74,391.43" fill="#bff4ae"/>
<polygon points="83.42,392.01 83.45,392.57 83.47,393.14 83.48,393.73 83.47,394.35 83.45,394.99 83.40,395.68 83.33,396.41 83.23,397.19 83.07,398.02 82.86,398.92 82.57,399.89 82.20,400.91 81.69,401.95 81.04,402.95 80.24,403.88 79.28,404.61 78.18,404.77 77.06,404.40 76.04,403.67 75.18,402.67 74.50,401.57 73.97,400.51 73.56,399.53 73.23,398.65 72.97,397.86 72.76,397.14 72.58,396.50 72.42,395.91 72.29,395.36 72.17,394.84 72.06,394.35 71.96,393.87 71.87,393.40 71.79,392.94 71.72,392.48 71.65,392.01 71.59,391.54 71.54,391.04 71.49,390.52 71.46,389.98 71.44,389.39 71.43,388.77 71.44,388.08 71.47,387.33 71.52,386.48 71.60,385.51 71.71,384.38 71.89,383.05 72.15,381.48 72.55,379.62 73.17,377.51 74.14,375.46 75.52,374.46 77.06,374.78 78.47,375.95 79.59,377.66 80.45,379.38 81.07,381.00 81.52,382.44 81.87,383.68 82.15,384.75 82.38,385.68 82.56,386.51 82.72,387.26 82.86,387.95 82.98,388.60 83.08,389.21 83.17,389.79 83.25,390.36 83.31,390.91 83.37,391.46" fill="#bcf3a9"/>
<polygon points="83.05,392.01 83.08,392.54 83.09,393.08 83.09,393.63 83.08,394.21 83.06,394.81 83.02,395.46 82.95,396.14 82.85,396.87 82.71,397.66 82.51,398.51 82.25,399.42 81.90,400.40 81.44,401.41 80.83,402.39 80.09,403.31 79.18,404.06 78.13,404.25 77.06,403.92 76.08,403.22 75.25,402.26 74.60,401.21 74.08,400.19 73.69,399.25 73.37,398.40 73.12,397.64 72.92,396.95 72.74,396.33 72.59,395.76 72.46,395.23 72.35,394.73 72.24,394.26 72.15,393.80 72.07,393.35 71.99,392.91 71.92,392.46 71.86,392.01 71.80,391.55 71.75,391.08 71.71,390.58 71.68,390.06 71.66,389.50 71.66,388.90 71.67,388.24 71.70,387.52 71.76,386.71 71.84,385.79 71.96,384.72 72.13,383.47 72.38,381.99 72.78,380.25 73.38,378.29 74.30,376.39 75.61,375.41 77.06,375.66 78.40,376.75 79.47,378.35 80.28,379.98 80.88,381.53 81.31,382.91 81.63,384.10 81.89,385.12 82.10,386.01 82.27,386.80 82.42,387.52 82.54,388.17 82.65,388.79 82.74,389.36 82.82,389.92 82.89,390.45 82.95,390.97 83.01,391.49" fill="#b8f3a5"/>
<polygon points="82.67,392.01 82.70,392.51 82.71,393.01 82.71,393.53 82.70,394.07 82.67,394.63 82.63,395.23 82.57,395.87 82.48,396.56 82.34,397.30 82.16,398.10 81.92,398.96 81.61,399.90 81.19,400.87 80.63,401.83 79.93,402.74 79.08,403.50 78.09,403.74 77.06,403.44 76.12,402.76 75.33,401.85 74.69,400.85 74.20,399.87 73.82,398.96 73.52,398.15 73.28,397.42 73.08,396.76 72.91,396.16 72.76,395.62 72.64,395.11 72.53,394.63 72.43,394.17 72.34,393.73 72.26,393.30 72.19,392.87 72.12,392.45 72.06,392.01 72.00,391.57 71.96,391.11 71.92,390.64 71.90,390.14 71.89,389.60 71.89,389.03 71.90,388.40 71.94,387.72 71.99,386.95 72.08,386.08 72.20,385.07 72.37,383.89 72.62,382.50 73.01,380.88 73.59,379.07 74.47,377.31 75.69,376.35 77.06,376.53 78.32,377.55 79.35,379.04 80.12,380.58 80.68,382.06 81.09,383.37 81.39,384.51 81.63,385.49 81.82,386.34 81.98,387.09 82.12,387.77 82.23,388.40 82.33,388.97 82.41,389.52 82.48,390.04 82.54,390.55 82.60,391.04 82.64,391.53" fill="#b4f2a0"/>
<polygon points="82.30,392.01 82.32,392.47 82.33,392.94 82.33,393.43 82.31,393.93 82.29,394.45 82.25,395.01 82.19,395.60 82.10,396.24 81.98,396.93 81.82,397.68 81.60,398.50 81.32,399.39 80.94,400.33 80.43,401.27 79.78,402.18 78.99,402.94 78.04,403.23 77.06,402.96 76.16,402.31 75.40,401.43 74.79,400.48 74.32,399.55 73.95,398.68 73.66,397.90 73.43,397.20 73.24,396.57 73.08,396.00 72.94,395.47 72.82,394.99 72.71,394.53 72.61,394.09 72.53,393.66 72.45,393.25 72.38,392.84 72.32,392.43 72.26,392.01 72.21,391.59 72.17,391.15 72.14,390.70 72.11,390.21 72.11,389.70 72.11,389.16 72.13,388.56 72.17,387.91 72.23,387.18 72.31,386.36 72.44,385.41 72.61,384.31 72.86,383.01 73.24,381.51 73.80,379.85 74.63,378.24 75.77,377.30 77.06,377.41 78.25,378.35 79.23,379.73 79.96,381.18 80.49,382.58 80.87,383.84 81.15,384.93 81.37,385.86 81.55,386.67 81.69,387.38 81.81,388.03 81.91,388.62 82.00,389.16 82.07,389.68 82.14,390.17 82.19,390.64 82.24,391.10 82.27,391.56" fill="#b0f19b"/>
<polygon points="81.93,392.01 81.95,392.44 81.95,392.88 81.94,393.32 81.93,393.79 81.90,394.27 81.86,394.79 81.80,395.34 81.72,395.93 81.61,396.57 81.47,397.27 81.28,398.04 81.02,398.88 80.68,399.78 80.22,400.71 79.63,401.61 78.89,402.38 78.00,402.72 77.06,402.48 76.20,401.85 75.47,401.02 74.89,400.12 74.43,399.23 74.08,398.40 73.81,397.65 73.58,396.98 73.40,396.38 73.24,395.83 73.11,395.33 72.99,394.86 72.89,394.42 72.80,394.00 72.72,393.59 72.64,393.20 72.58,392.80 72.52,392.41 72.47,392.01 72.42,391.61 72.38,391.19 72.35,390.75 72.33,390.29 72.33,389.81 72.34,389.29 72.36,388.72 72.40,388.11 72.46,387.42 72.55,386.64 72.68,385.75 72.85,384.72 73.10,383.52 73.47,382.14 74.01,380.63 74.79,379.16 75.85,378.24 77.06,378.29 78.18,379.16 79.10,380.42 79.80,381.77 80.30,383.11 80.65,384.31 80.91,385.34 81.11,386.22 81.27,386.99 81.40,387.67 81.51,388.28 81.60,388.84 81.67,389.35 81.74,389.83 81.79,390.29 81.84,390.73 81.88,391.16 81.91,391.59" fill="#acf096"/>
<polygon points="81.56,392.01 81.57,392.41 81.57,392.81 81.56,393.22 81.54,393.65 81.52,394.09 81.48,394.56 81.42,395.07 81.35,395.61 81.25,396.21 81.12,396.86 80.95,397.58 80.73,398.37 80.43,399.24 80.02,400.15 79.48,401.04 78.79,401.82 77.95,402.21 77.06,402.00 76.24,401.40 75.54,400.61 74.98,399.76 74.55,398.91 74.21,398.12 73.95,397.40 73.73,396.76 73.56,396.19 73.41,395.66 73.28,395.18 73.17,394.74 73.07,394.32 72.99,393.91 72.91,393.53 72.84,393.15 72.78,392.77 72.72,392.39 72.67,392.01 72.62,391.63 72.59,391.23 72.56,390.81 72.55,390.37 72.55,389.91 72.56,389.42 72.59,388.88 72.63,388.30 72.70,387.65 72.79,386.93 72.92,386.10 73.09,385.14 73.34,384.04 73.69,382.77 74.22,381.41 74.96,380.09 75.94,379.19 77.06,379.17 78.11,379.96 78.98,381.12 79.64,382.37 80.11,383.63 80.44,384.77 80.67,385.75 80.85,386.59 81.00,387.32 81.11,387.96 81.20,388.54 81.28,389.06 81.35,389.54 81.40,389.99 81.45,390.42 81.49,390.83 81.52,391.23 81.54,391.62" fill="#a8f091"/>
<path d="M76.60,379.95C77.56,379.95 78.89,381.41 79.66,383.38C80.42,385.36 81.09,389.24 81.18,391.79C81.27,394.33 80.76,397.00 80.19,398.66C79.62,400.31 78.66,401.71 77.75,401.71C76.83,401.71 75.52,400.44 74.69,398.66C73.86,396.88 72.91,393.57 72.78,391.02C72.66,388.48 73.29,385.23 73.93,383.38C74.56,381.54 75.65,379.95 76.60,379.95Z" fill="#62e85a"/>
<polygon points="80.89,392.01 80.90,392.35 80.89,392.69 80.88,393.04 80.86,393.40 80.84,393.78 80.80,394.18 80.76,394.60 80.69,395.06 80.61,395.57 80.51,396.13 80.38,396.75 80.20,397.45 79.95,398.22 79.62,399.04 79.17,399.87 78.57,400.60 77.85,401.00 77.06,400.84 76.33,400.30 75.72,399.61 75.22,398.87 74.84,398.13 74.54,397.42 74.30,396.79 74.11,396.22 73.96,395.71 73.83,395.25 73.71,394.82 73.61,394.43 73.53,394.05 73.45,393.70 73.38,393.35 73.32,393.02 73.26,392.68 73.21,392.35 73.17,392.01 73.13,391.67 73.11,391.32 73.08,390.95 73.08,390.56 73.08,390.16 73.09,389.72 73.12,389.26 73.17,388.75 73.23,388.18 73.32,387.55 73.44,386.84 73.60,386.02 73.83,385.08 74.15,384.01 74.61,382.89 75.26,381.80 76.09,380.98 77.06,380.90 77.97,381.57 78.73,382.54 79.31,383.62 79.71,384.72 79.99,385.72 80.19,386.59 80.34,387.32 80.46,387.96 80.55,388.52 80.63,389.02 80.69,389.48 80.74,389.89 80.78,390.28 80.81,390.65 80.84,391.00 80.87,391.34 80.88,391.68" fill="#5fe758"/>
<polygon points="80.60,392.01 80.60,392.32 80.60,392.64 80.59,392.96 80.57,393.29 80.55,393.64 80.52,394.01 80.47,394.40 80.41,394.83 80.34,395.29 80.24,395.81 80.12,396.39 79.95,397.03 79.73,397.74 79.42,398.50 79.00,399.27 78.46,399.94 77.79,400.31 77.06,400.16 76.39,399.66 75.82,399.03 75.36,398.34 75.01,397.66 74.73,397.00 74.52,396.42 74.34,395.90 74.20,395.43 74.07,395.00 73.97,394.61 73.88,394.24 73.80,393.90 73.73,393.57 73.66,393.25 73.60,392.94 73.56,392.63 73.51,392.33 73.47,392.01 73.43,391.70 73.41,391.37 73.39,391.03 73.38,390.68 73.39,390.30 73.40,389.90 73.42,389.47 73.46,389.00 73.52,388.48 73.60,387.90 73.71,387.24 73.87,386.48 74.08,385.62 74.37,384.63 74.80,383.59 75.40,382.58 76.17,381.83 77.06,381.76 77.90,382.37 78.60,383.27 79.14,384.26 79.51,385.28 79.77,386.20 79.95,387.00 80.09,387.69 80.20,388.27 80.28,388.79 80.35,389.25 80.41,389.67 80.45,390.05 80.49,390.41 80.53,390.75 80.55,391.08 80.57,391.39 80.59,391.71" fill="#5de756"/>
<polygon points="80.30,392.01 80.31,392.30 80.30,392.59 80.30,392.88 80.28,393.19 80.26,393.51 80.23,393.84 80.19,394.20 80.13,394.59 80.07,395.02 79.98,395.49 79.87,396.02 79.71,396.61 79.51,397.27 79.22,397.96 78.84,398.66 78.34,399.28 77.73,399.62 77.06,399.48 76.45,399.03 75.93,398.45 75.51,397.82 75.18,397.19 74.93,396.59 74.73,396.05 74.57,395.57 74.44,395.14 74.32,394.75 74.23,394.39 74.14,394.06 74.07,393.74 74.00,393.44 73.95,393.15 73.89,392.86 73.85,392.58 73.80,392.30 73.77,392.01 73.74,391.72 73.71,391.42 73.70,391.11 73.69,390.79 73.69,390.44 73.70,390.08 73.73,389.68 73.76,389.25 73.82,388.77 73.89,388.24 73.99,387.64 74.13,386.94 74.32,386.15 74.60,385.24 74.99,384.29 75.54,383.37 76.24,382.68 77.06,382.61 77.83,383.17 78.47,384.00 78.96,384.91 79.31,385.84 79.54,386.69 79.71,387.42 79.84,388.05 79.94,388.59 80.01,389.06 80.08,389.48 80.13,389.87 80.17,390.22 80.21,390.55 80.24,390.86 80.26,391.16 80.28,391.45 80.29,391.73" fill="#5ae654"/>
<polygon points="80.01,392.01 80.01,392.27 80.01,392.53 80.00,392.80 79.99,393.08 79.97,393.37 79.94,393.68 79.90,394.00 79.85,394.36 79.79,394.75 79.71,395.18 79.61,395.66 79.47,396.19 79.29,396.79 79.03,397.42 78.68,398.06 78.22,398.62 77.66,398.93 77.06,398.80 76.50,398.39 76.03,397.86 75.65,397.29 75.35,396.72 75.12,396.17 74.94,395.69 74.79,395.25 74.67,394.86 74.57,394.50 74.48,394.18 74.41,393.87 74.34,393.58 74.28,393.31 74.23,393.04 74.18,392.79 74.14,392.53 74.10,392.27 74.07,392.01 74.04,391.75 74.02,391.48 74.00,391.20 73.99,390.90 74.00,390.59 74.01,390.25 74.03,389.89 74.06,389.50 74.11,389.07 74.18,388.58 74.27,388.03 74.40,387.40 74.57,386.68 74.82,385.86 75.18,384.99 75.67,384.15 76.32,383.53 77.06,383.47 77.76,383.98 78.35,384.72 78.79,385.55 79.10,386.40 79.32,387.17 79.47,387.84 79.59,388.41 79.67,388.90 79.75,389.33 79.80,389.71 79.85,390.06 79.89,390.38 79.92,390.68 79.95,390.96 79.97,391.23 79.99,391.50 80.00,391.76" fill="#58e651"/>
<polygon points="79.71,392.01 79.72,392.25 79.71,392.48 79.71,392.72 79.69,392.97 79.68,393.23 79.65,393.51 79.62,393.81 79.58,394.13 79.52,394.47 79.45,394.86 79.35,395.29 79.23,395.77 79.06,396.31 78.83,396.88 78.52,397.45 78.11,397.96 77.60,398.24 77.06,398.12 76.56,397.75 76.13,397.28 75.79,396.76 75.52,396.25 75.31,395.76 75.15,395.32 75.02,394.93 74.91,394.57 74.82,394.25 74.74,393.96 74.67,393.69 74.61,393.43 74.56,393.18 74.51,392.94 74.47,392.71 74.43,392.48 74.40,392.25 74.37,392.01 74.34,391.78 74.32,391.53 74.31,391.28 74.30,391.01 74.30,390.73 74.31,390.43 74.33,390.10 74.36,389.75 74.41,389.36 74.47,388.93 74.55,388.43 74.66,387.87 74.82,387.22 75.04,386.48 75.37,385.69 75.81,384.94 76.39,384.38 77.06,384.32 77.69,384.78 78.22,385.45 78.62,386.20 78.90,386.96 79.09,387.66 79.23,388.26 79.33,388.77 79.41,389.21 79.48,389.60 79.53,389.94 79.57,390.26 79.61,390.54 79.63,390.81 79.66,391.07 79.68,391.31 79.69,391.55 79.71,391.78" fill="#55e54f"/>
<polygon points="79.42,392.01 79.42,392.22 79.42,392.43 79.41,392.64 79.40,392.87 79.38,393.10 79.36,393.34 79.33,393.61 79.30,393.89 79.25,394.20 79.18,394.54 79.10,394.93 78.99,395.36 78.84,395.83 78.63,396.34 78.36,396.85 77.99,397.30 77.54,397.55 77.06,397.44 76.61,397.11 76.23,396.69 75.93,396.23 75.69,395.77 75.51,395.34 75.36,394.95 75.25,394.60 75.15,394.29 75.07,394.00 75.00,393.74 74.94,393.50 74.89,393.27 74.84,393.05 74.80,392.84 74.76,392.63 74.72,392.43 74.69,392.22 74.67,392.01 74.64,391.80 74.63,391.59 74.61,391.36 74.61,391.12 74.61,390.87 74.62,390.61 74.64,390.32 74.66,390.00 74.70,389.66 74.76,389.27 74.83,388.83 74.93,388.33 75.07,387.75 75.27,387.09 75.55,386.40 75.95,385.73 76.47,385.22 77.06,385.18 77.62,385.59 78.09,386.18 78.44,386.85 78.69,387.52 78.87,388.14 78.99,388.67 79.08,389.13 79.15,389.52 79.21,389.87 79.25,390.17 79.29,390.45 79.32,390.71 79.35,390.95 79.37,391.17 79.39,391.39 79.40,391.60 79.41,391.81" fill="#53e54d"/>
<polygon points="79.12,392.01 79.13,392.20 79.12,392.38 79.12,392.57 79.11,392.76 79.09,392.96 79.08,393.18 79.05,393.41 79.02,393.66 78.97,393.93 78.92,394.23 78.84,394.56 78.75,394.94 78.62,395.36 78.44,395.80 78.19,396.25 77.87,396.64 77.48,396.85 77.06,396.76 76.67,396.48 76.34,396.11 76.07,395.71 75.86,395.30 75.70,394.92 75.58,394.58 75.47,394.28 75.39,394.00 75.32,393.76 75.26,393.53 75.20,393.31 75.16,393.11 75.12,392.92 75.08,392.74 75.04,392.55 75.02,392.37 74.99,392.20 74.97,392.01 74.94,391.83 74.93,391.64 74.92,391.44 74.91,391.23 74.92,391.01 74.92,390.78 74.94,390.53 74.96,390.25 75.00,389.95 75.04,389.61 75.11,389.23 75.20,388.79 75.32,388.28 75.49,387.71 75.74,387.10 76.09,386.51 76.54,386.07 77.06,386.03 77.55,386.39 77.96,386.91 78.27,387.49 78.49,388.09 78.64,388.63 78.75,389.09 78.83,389.49 78.89,389.83 78.94,390.13 78.98,390.40 79.01,390.65 79.04,390.87 79.06,391.08 79.08,391.28 79.10,391.47 79.11,391.65 79.12,391.83" fill="#50e44b"/>
<polygon points="78.83,392.01 78.83,392.17 78.83,392.33 78.82,392.49 78.82,392.65 78.80,392.83 78.79,393.01 78.77,393.21 78.74,393.42 78.70,393.65 78.65,393.91 78.59,394.20 78.51,394.52 78.40,394.88 78.24,395.26 78.03,395.64 77.76,395.98 77.42,396.16 77.06,396.09 76.73,395.84 76.44,395.52 76.21,395.18 76.03,394.83 75.90,394.51 75.79,394.22 75.70,393.96 75.63,393.72 75.57,393.51 75.51,393.31 75.47,393.13 75.43,392.96 75.39,392.79 75.36,392.63 75.33,392.48 75.31,392.32 75.28,392.17 75.26,392.01 75.25,391.86 75.23,391.69 75.23,391.52 75.22,391.34 75.22,391.16 75.23,390.96 75.24,390.74 75.26,390.51 75.29,390.25 75.33,389.96 75.39,389.63 75.46,389.25 75.57,388.82 75.72,388.32 75.93,387.80 76.23,387.30 76.61,386.92 77.06,386.89 77.48,387.19 77.83,387.64 78.10,388.14 78.29,388.65 78.41,389.11 78.51,389.51 78.58,389.85 78.63,390.14 78.67,390.40 78.71,390.63 78.73,390.84 78.76,391.03 78.78,391.21 78.79,391.38 78.81,391.55 78.82,391.70 78.82,391.86" fill="#4de349"/>
<polygon points="78.53,392.01 78.54,392.14 78.53,392.27 78.53,392.41 78.52,392.55 78.51,392.69 78.50,392.85 78.48,393.01 78.46,393.19 78.43,393.38 78.39,393.60 78.33,393.84 78.27,394.10 78.17,394.40 78.04,394.72 77.87,395.04 77.64,395.32 77.36,395.47 77.06,395.41 76.78,395.20 76.54,394.94 76.35,394.65 76.20,394.36 76.09,394.09 76.00,393.85 75.93,393.63 75.87,393.44 75.82,393.26 75.77,393.09 75.73,392.94 75.70,392.80 75.67,392.66 75.64,392.53 75.62,392.40 75.60,392.27 75.58,392.14 75.56,392.01 75.55,391.88 75.54,391.75 75.53,391.60 75.53,391.46 75.53,391.30 75.53,391.13 75.54,390.95 75.56,390.76 75.59,390.54 75.62,390.30 75.67,390.02 75.73,389.71 75.82,389.35 75.94,388.94 76.12,388.50 76.37,388.08 76.69,387.77 77.06,387.74 77.41,388.00 77.70,388.37 77.93,388.78 78.08,389.21 78.19,389.59 78.27,389.93 78.32,390.21 78.37,390.46 78.40,390.67 78.43,390.86 78.45,391.04 78.47,391.20 78.49,391.35 78.50,391.49 78.51,391.62 78.52,391.76 78.53,391.89" fill="#4be347"/>
<polygon points="78.24,392.01 78.24,392.12 78.24,392.22 78.24,392.33 78.23,392.44 78.22,392.56 78.21,392.68 78.20,392.81 78.18,392.95 78.15,393.11 78.12,393.28 78.08,393.47 78.02,393.69 77.95,393.92 77.85,394.18 77.71,394.43 77.53,394.66 77.30,394.78 77.06,394.73 76.84,394.56 76.65,394.35 76.49,394.12 76.38,393.89 76.28,393.68 76.21,393.48 76.15,393.31 76.11,393.15 76.06,393.01 76.03,392.88 76.00,392.76 75.97,392.64 75.95,392.53 75.93,392.43 75.91,392.32 75.89,392.22 75.88,392.12 75.86,392.01 75.85,391.91 75.84,391.80 75.84,391.69 75.83,391.57 75.83,391.44 75.84,391.31 75.85,391.17 75.86,391.01 75.88,390.84 75.91,390.64 75.94,390.42 76.00,390.17 76.07,389.88 76.16,389.55 76.31,389.21 76.51,388.87 76.76,388.62 77.06,388.60 77.34,388.80 77.57,389.10 77.75,389.43 77.88,389.77 77.96,390.08 78.02,390.34 78.07,390.57 78.11,390.77 78.13,390.94 78.16,391.09 78.18,391.23 78.19,391.36 78.20,391.48 78.21,391.59 78.22,391.70 78.23,391.81 78.24,391.91" fill="#48e245"/>
<polygon points="77.94,392.01 77.95,392.09 77.94,392.17 77.94,392.25 77.94,392.33 77.93,392.42 77.92,392.51 77.91,392.61 77.90,392.72 77.88,392.83 77.86,392.96 77.82,393.11 77.78,393.27 77.73,393.45 77.65,393.64 77.55,393.83 77.41,394.00 77.24,394.09 77.06,394.05 76.89,393.93 76.75,393.77 76.64,393.60 76.55,393.42 76.48,393.26 76.42,393.12 76.38,392.98 76.34,392.87 76.31,392.76 76.29,392.66 76.26,392.57 76.24,392.49 76.23,392.40 76.21,392.32 76.20,392.25 76.18,392.17 76.17,392.09 76.16,392.01 76.15,391.94 76.15,391.85 76.14,391.77 76.14,391.68 76.14,391.59 76.14,391.49 76.15,391.38 76.16,391.26 76.18,391.13 76.20,390.98 76.22,390.82 76.26,390.63 76.31,390.41 76.39,390.17 76.50,389.91 76.64,389.66 76.84,389.47 77.06,389.45 77.27,389.60 77.45,389.83 77.58,390.08 77.67,390.33 77.74,390.56 77.78,390.76 77.82,390.93 77.84,391.08 77.87,391.21 77.88,391.32 77.90,391.43 77.91,391.52 77.92,391.61 77.93,391.70 77.93,391.78 77.94,391.86 77.94,391.94" fill="#46e242"/>
<polygon points="77.65,392.01 77.65,392.07 77.65,392.12 77.65,392.17 77.65,392.23 77.64,392.29 77.64,392.35 77.63,392.41 77.62,392.48 77.61,392.56 77.59,392.65 77.57,392.74 77.54,392.85 77.50,392.97 77.45,393.10 77.38,393.22 77.29,393.34 77.18,393.40 77.06,393.37 76.95,393.29 76.85,393.18 76.78,393.07 76.72,392.95 76.67,392.85 76.64,392.75 76.61,392.66 76.58,392.58 76.56,392.51 76.54,392.45 76.53,392.39 76.52,392.33 76.50,392.27 76.49,392.22 76.48,392.17 76.48,392.12 76.47,392.07 76.46,392.01 76.46,391.96 76.45,391.91 76.45,391.85 76.45,391.79 76.45,391.73 76.45,391.66 76.45,391.59 76.46,391.51 76.47,391.42 76.48,391.33 76.50,391.22 76.53,391.09 76.56,390.95 76.61,390.78 76.68,390.61 76.78,390.44 76.91,390.32 77.06,390.31 77.20,390.41 77.32,390.56 77.41,390.72 77.47,390.89 77.51,391.05 77.54,391.18 77.56,391.29 77.58,391.39 77.60,391.48 77.61,391.55 77.62,391.62 77.63,391.69 77.63,391.75 77.64,391.80 77.64,391.86 77.65,391.91 77.65,391.96" fill="#43e140"/>
<polygon points="77.35,392.01 77.35,392.04 77.35,392.07 77.35,392.09 77.35,392.12 77.35,392.15 77.35,392.18 77.34,392.21 77.34,392.25 77.33,392.29 77.33,392.33 77.31,392.38 77.30,392.43 77.28,392.49 77.26,392.56 77.22,392.62 77.18,392.67 77.12,392.71 77.06,392.69 77.00,392.65 76.96,392.60 76.92,392.54 76.89,392.48 76.87,392.43 76.85,392.38 76.83,392.34 76.82,392.30 76.81,392.26 76.80,392.23 76.79,392.20 76.79,392.17 76.78,392.14 76.78,392.12 76.77,392.09 76.77,392.07 76.76,392.04 76.76,392.01 76.76,391.99 76.76,391.96 76.75,391.93 76.75,391.90 76.75,391.87 76.75,391.84 76.76,391.80 76.76,391.76 76.76,391.72 76.77,391.67 76.78,391.62 76.79,391.55 76.81,391.48 76.84,391.40 76.87,391.31 76.92,391.23 76.99,391.17 77.06,391.16 77.13,391.21 77.19,391.29 77.23,391.37 77.26,391.45 77.29,391.53 77.30,391.60 77.31,391.65 77.32,391.70 77.33,391.75 77.33,391.78 77.34,391.82 77.34,391.85 77.35,391.88 77.35,391.91 77.35,391.94 77.35,391.96 77.35,391.99" fill="#41e13e"/>
<path d="M75.07,366.96C75.90,367.22 77.43,367.66 78.51,368.87C79.59,370.08 80.65,372.18 81.57,374.22C82.48,376.26 83.31,378.80 84.01,381.09C84.71,383.38 85.35,385.80 85.77,387.97C86.19,390.13 86.47,392.04 86.53,394.08C86.59,396.11 86.53,398.28 86.15,400.19C85.77,402.10 85.07,404.13 84.24,405.53C83.41,406.93 82.07,408.01 81.18,408.59C80.29,409.16 79.85,409.22 78.89,408.97C77.94,408.71 76.47,408.14 75.46,407.06C74.44,405.98 73.55,404.26 72.78,402.48C72.02,400.70 71.38,398.53 70.87,396.37C70.36,394.20 69.92,391.79 69.73,389.49C69.54,387.20 69.60,384.91 69.73,382.62C69.86,380.33 70.11,377.91 70.49,375.75C70.87,373.58 71.51,371.04 72.02,369.64C72.53,368.24 73.04,367.79 73.55,367.35C74.06,366.90 74.25,366.71 75.07,366.96Z" fill="none" stroke="#000" stroke-width="1.0"/>
</g>
<path d="M76.60,379.95C77.56,379.95 78.89,381.41 79.66,383.38C80.42,385.36 81.09,389.24 81.18,391.79C81.27,394.33 80.76,397.00 80.19,398.66C79.62,400.31 78.66,401.71 77.75,401.71C76.83,401.71 75.52,400.44 74.69,398.66C73.86,396.88 72.91,393.57 72.78,391.02C72.66,388.48 73.29,385.23 73.93,383.38C74.56,381.54 75.65,379.95 76.60,379.95Z" fill="none" stroke="#000" stroke-width="1.0"/>
<path d="M73.90,392.50H81.10M77.50,388.70V396.30" stroke="#000" stroke-width="1" fill="none"/>
<rect x="42.10" y="357.30" width="96.75" height="74.90" fill="none" stroke="#000" stroke-width="1"/>
<path d="M45.45,432.20v6.6M67.89,432.20v6.6M90.32,432.20v6.6M112.76,432.20v6.6M135.20,432.20v6.6M42.10,429.20h-6.8M42.10,412.55h-6.8M42.10,395.90h-6.8M42.10,379.25h-6.8M42.10,362.60h-6.8" stroke="#000" stroke-width="1" fill="none"/>
<text class="a" x="45.45" y="455.00">0.00</text>
<text class="a" x="90.32" y="455.00">0.04</text>
<text class="a" x="135.20" y="455.00">0.08</text>
<text class="a" transform="translate(27.10,429.20) rotate(-90)">0</text>
<text class="a" transform="translate(27.10,395.90) rotate(-90)">20</text>
<text class="a" transform="translate(27.10,362.60) rotate(-90)">40</text>
<text class="p" x="90.32" y="468.00">π</text>
<g transform="translate(6.90,403.45) rotate(-90)">
<text class="g" x="0" y="0">γ</text><path d="M0.1,-6.2h4.6" stroke="#000" stroke-width="1"/>
<text class="s" x="4.60" y="2.60">dn</text><text class="ss" x="13.40" y="3.90">1</text>
</g>
<text class="t" x="90.47" y="328.00">MiD de novo</text>
<text class="t" x="90.47" y="344.00">(DD)</text>
</g>
<g>
<g>
<path d="M231.15,363.27C232.28,363.17 233.82,364.36 235.07,365.64C236.31,366.93 237.54,369.01 238.63,370.98C239.71,372.96 240.70,375.23 241.59,377.51C242.48,379.78 243.47,382.45 243.97,384.63C244.46,386.80 244.76,388.84 244.56,390.56C244.36,392.28 243.67,393.96 242.78,394.95C241.89,395.94 240.51,396.49 239.22,396.49C237.94,396.49 236.35,395.94 235.07,394.95C233.78,393.96 232.50,392.28 231.51,390.56C230.52,388.84 229.77,386.70 229.14,384.63C228.50,382.55 228.01,380.28 227.71,378.10C227.42,375.93 227.26,373.55 227.36,371.58C227.45,369.60 227.67,367.62 228.31,366.24C228.94,364.85 230.03,363.37 231.15,363.27Z" fill="#d6f8ca"/>
<polygon points="243.06,382.25 243.27,382.97 243.48,383.74 243.68,384.56 243.87,385.46 244.04,386.44 244.18,387.52 244.26,388.69 244.23,389.94 244.02,391.21 243.63,392.46 243.05,393.65 242.24,394.67 241.19,395.39 240.00,395.81 238.72,395.89 237.43,395.65 236.20,395.14 235.07,394.44 234.08,393.55 233.24,392.60 232.55,391.66 231.96,390.78 231.48,389.95 231.08,389.17 230.74,388.44 230.45,387.75 230.20,387.12 229.98,386.52 229.79,385.95 229.61,385.41 229.44,384.88 229.28,384.36 229.12,383.85 228.98,383.33 228.84,382.80 228.71,382.25 228.57,381.69 228.44,381.09 228.31,380.44 228.18,379.75 228.06,378.99 227.94,378.14 227.82,377.18 227.71,376.08 227.63,374.81 227.59,373.34 227.64,371.64 227.82,369.70 228.25,367.64 229.10,365.85 230.30,364.47 231.86,364.08 233.55,364.94 235.07,366.27 236.33,367.80 237.35,369.33 238.16,370.70 238.84,371.90 239.39,372.99 239.86,373.96 240.26,374.84 240.61,375.65 240.92,376.40 241.20,377.11 241.47,377.77 241.71,378.42 241.95,379.04 242.18,379.67 242.40,380.29 242.62,380.92 242.84,381.57" fill="#d4f8c7"/>
<polygon points="242.81,382.25 243.01,382.95 243.21,383.69 243.39,384.49 243.56,385.35 243.72,386.29 243.85,387.32 243.91,388.45 243.87,389.64 243.66,390.85 243.28,392.04 242.71,393.18 241.93,394.15 240.94,394.84 239.79,395.23 238.57,395.31 237.33,395.07 236.15,394.59 235.07,393.92 234.12,393.08 233.32,392.18 232.65,391.29 232.09,390.44 231.62,389.65 231.23,388.90 230.90,388.20 230.62,387.55 230.38,386.94 230.17,386.37 229.98,385.82 229.80,385.30 229.63,384.79 229.48,384.29 229.33,383.79 229.19,383.29 229.05,382.78 228.92,382.25 228.79,381.70 228.66,381.12 228.54,380.50 228.41,379.83 228.29,379.09 228.17,378.27 228.06,377.35 227.96,376.29 227.88,375.07 227.84,373.65 227.90,372.02 228.08,370.16 228.51,368.20 229.33,366.50 230.50,365.20 232.00,364.84 233.62,365.65 235.07,366.89 236.29,368.33 237.27,369.77 238.06,371.07 238.72,372.22 239.26,373.26 239.72,374.20 240.11,375.06 240.45,375.84 240.75,376.57 241.03,377.25 241.28,377.90 241.52,378.53 241.75,379.14 241.97,379.74 242.19,380.35 242.40,380.96 242.61,381.59" fill="#d1f7c3"/>
<polygon points="242.56,382.25 242.75,382.93 242.93,383.64 243.11,384.41 243.26,385.24 243.40,386.14 243.52,387.13 243.57,388.20 243.51,389.34 243.30,390.49 242.93,391.62 242.38,392.70 241.63,393.62 240.68,394.28 239.58,394.65 238.41,394.73 237.23,394.50 236.10,394.04 235.07,393.41 234.16,392.61 233.39,391.76 232.75,390.91 232.21,390.11 231.76,389.35 231.38,388.64 231.07,387.97 230.80,387.34 230.56,386.76 230.35,386.21 230.16,385.69 229.99,385.19 229.83,384.70 229.67,384.22 229.53,383.74 229.39,383.26 229.26,382.76 229.13,382.25 229.01,381.72 228.88,381.16 228.76,380.56 228.64,379.92 228.52,379.20 228.41,378.41 228.30,377.52 228.21,376.50 228.13,375.32 228.10,373.95 228.16,372.39 228.35,370.62 228.77,368.76 229.57,367.15 230.70,365.93 232.13,365.60 233.68,366.36 235.07,367.52 236.24,368.86 237.19,370.21 237.97,371.44 238.60,372.54 239.13,373.54 239.58,374.44 239.96,375.27 240.29,376.03 240.59,376.74 240.86,377.40 241.10,378.03 241.34,378.64 241.56,379.23 241.77,379.82 241.97,380.40 242.17,381.00 242.37,381.62" fill="#cdf6bf"/>
<polygon points="242.31,382.25 242.49,382.90 242.66,383.59 242.82,384.33 242.96,385.13 243.09,385.99 243.18,386.94 243.22,387.96 243.15,389.04 242.94,390.13 242.58,391.20 242.05,392.22 241.33,393.10 240.42,393.73 239.37,394.08 238.25,394.14 237.13,393.92 236.05,393.49 235.07,392.89 234.20,392.14 233.47,391.33 232.85,390.53 232.33,389.77 231.90,389.05 231.54,388.37 231.23,387.74 230.97,387.14 230.74,386.58 230.53,386.06 230.35,385.56 230.18,385.08 230.02,384.61 229.87,384.15 229.73,383.68 229.60,383.22 229.47,382.74 229.34,382.25 229.22,381.74 229.10,381.20 228.99,380.62 228.87,380.00 228.76,379.31 228.65,378.55 228.54,377.69 228.45,376.70 228.38,375.57 228.36,374.26 228.43,372.77 228.62,371.08 229.04,369.32 229.81,367.80 230.89,366.67 232.27,366.36 233.74,367.06 235.07,368.14 236.19,369.39 237.11,370.65 237.87,371.81 238.49,372.86 239.00,373.81 239.44,374.69 239.81,375.48 240.13,376.22 240.42,376.90 240.68,377.54 240.92,378.15 241.15,378.74 241.36,379.32 241.56,379.89 241.76,380.46 241.95,381.04 242.13,381.64" fill="#caf6bb"/>
<polygon points="242.07,382.25 242.23,382.88 242.39,383.54 242.53,384.25 242.66,385.02 242.77,385.85 242.85,386.75 242.87,387.72 242.79,388.74 242.58,389.77 242.23,390.79 241.72,391.75 241.03,392.58 240.16,393.17 239.16,393.50 238.10,393.56 237.02,393.35 236.00,392.94 235.07,392.38 234.24,391.67 233.54,390.91 232.95,390.15 232.46,389.43 232.04,388.75 231.69,388.11 231.39,387.50 231.14,386.94 230.92,386.41 230.72,385.90 230.54,385.43 230.37,384.96 230.22,384.52 230.07,384.07 229.93,383.63 229.80,383.18 229.68,382.73 229.56,382.25 229.44,381.76 229.32,381.24 229.21,380.68 229.10,380.08 228.99,379.42 228.88,378.68 228.79,377.86 228.70,376.91 228.64,375.82 228.62,374.57 228.69,373.14 228.88,371.54 229.30,369.88 230.05,368.46 231.09,367.40 232.40,367.12 233.80,367.77 235.07,368.76 236.15,369.92 237.04,371.10 237.77,372.18 238.37,373.17 238.88,374.09 239.30,374.93 239.66,375.70 239.98,376.41 240.26,377.07 240.51,377.69 240.74,378.28 240.96,378.85 241.16,379.41 241.36,379.97 241.54,380.52 241.72,381.08 241.90,381.66" fill="#c7f5b7"/>
<polygon points="241.82,382.25 241.97,382.86 242.11,383.50 242.24,384.18 242.36,384.91 242.45,385.70 242.52,386.55 242.52,387.47 242.44,388.44 242.22,389.41 241.87,390.37 241.38,391.27 240.73,392.06 239.90,392.62 238.95,392.92 237.94,392.97 236.92,392.78 235.96,392.40 235.07,391.86 234.28,391.20 233.62,390.49 233.05,389.78 232.58,389.09 232.18,388.45 231.84,387.84 231.56,387.27 231.31,386.73 231.09,386.23 230.90,385.75 230.73,385.29 230.56,384.85 230.41,384.42 230.27,384.00 230.13,383.58 230.01,383.15 229.89,382.71 229.77,382.25 229.65,381.78 229.54,381.28 229.43,380.74 229.33,380.16 229.22,379.53 229.12,378.82 229.03,378.02 228.95,377.12 228.89,376.08 228.88,374.88 228.95,373.52 229.15,372.00 229.56,370.44 230.28,369.11 231.28,368.13 232.53,367.88 233.86,368.47 235.07,369.39 236.10,370.45 236.96,371.54 237.67,372.55 238.26,373.49 238.75,374.36 239.16,375.17 239.51,375.91 239.82,376.59 240.09,377.23 240.34,377.83 240.56,378.41 240.77,378.96 240.96,379.50 241.15,380.04 241.33,380.58 241.50,381.12 241.66,381.68" fill="#c3f5b3"/>
<polygon points="241.57,382.25 241.71,382.84 241.84,383.45 241.95,384.10 242.05,384.80 242.14,385.55 242.18,386.36 242.17,387.23 242.08,388.14 241.86,389.05 241.52,389.95 241.05,390.80 240.42,391.53 239.64,392.06 238.74,392.35 237.78,392.39 236.82,392.20 235.91,391.85 235.07,391.35 234.33,390.74 233.69,390.07 233.15,389.40 232.70,388.76 232.32,388.15 232.00,387.57 231.72,387.03 231.48,386.53 231.27,386.05 231.08,385.60 230.91,385.16 230.76,384.74 230.61,384.33 230.47,383.93 230.34,383.52 230.21,383.11 230.09,382.69 229.98,382.25 229.87,381.80 229.76,381.32 229.66,380.80 229.55,380.25 229.45,379.64 229.36,378.96 229.27,378.19 229.19,377.32 229.14,376.33 229.14,375.19 229.22,373.90 229.41,372.46 229.82,371.00 230.52,369.76 231.48,368.86 232.67,368.64 233.92,369.18 235.07,370.01 236.05,370.98 236.88,371.98 237.57,372.92 238.14,373.81 238.62,374.64 239.02,375.41 239.36,376.12 239.66,376.78 239.92,377.40 240.16,377.98 240.38,378.54 240.58,379.07 240.77,379.60 240.94,380.12 241.11,380.63 241.27,381.16 241.42,381.70" fill="#bff4ae"/>
<polygon points="241.32,382.25 241.45,382.81 241.56,383.40 241.67,384.02 241.75,384.69 241.82,385.40 241.85,386.17 241.83,386.99 241.72,387.83 241.50,388.69 241.17,389.53 240.72,390.32 240.12,391.01 239.38,391.50 238.53,391.77 237.63,391.80 236.72,391.63 235.86,391.30 235.07,390.84 234.37,390.27 233.76,389.65 233.25,389.02 232.82,388.42 232.46,387.85 232.15,387.31 231.88,386.80 231.65,386.32 231.45,385.87 231.27,385.44 231.10,385.03 230.95,384.63 230.80,384.24 230.67,383.86 230.54,383.47 230.42,383.07 230.30,382.67 230.19,382.25 230.09,381.82 229.98,381.36 229.88,380.86 229.78,380.33 229.69,379.75 229.60,379.09 229.51,378.36 229.44,377.53 229.39,376.58 229.40,375.49 229.48,374.27 229.68,372.92 230.08,371.56 230.76,370.41 231.68,369.60 232.80,369.40 233.99,369.89 235.07,370.63 236.01,371.51 236.80,372.42 237.47,373.29 238.03,374.12 238.49,374.92 238.88,375.65 239.21,376.33 239.50,376.97 239.76,377.56 239.99,378.13 240.20,378.66 240.39,379.18 240.57,379.69 240.74,380.19 240.90,380.69 241.05,381.20 241.19,381.72" fill="#bcf3a9"/>
<polygon points="241.07,382.25 241.19,382.79 241.29,383.35 241.38,383.95 241.45,384.58 241.50,385.25 241.52,385.98 241.48,386.74 241.36,387.53 241.14,388.33 240.82,389.11 240.38,389.85 239.82,390.49 239.12,390.95 238.32,391.19 237.47,391.22 236.62,391.05 235.81,390.75 235.07,390.32 234.41,389.80 233.84,389.23 233.36,388.64 232.95,388.08 232.60,387.55 232.30,387.04 232.05,386.57 231.83,386.12 231.63,385.69 231.45,385.29 231.29,384.90 231.14,384.52 231.00,384.15 230.86,383.78 230.74,383.41 230.62,383.04 230.51,382.65 230.40,382.25 230.30,381.84 230.20,381.40 230.11,380.92 230.01,380.41 229.92,379.85 229.83,379.23 229.75,378.53 229.69,377.74 229.65,376.83 229.65,375.80 229.74,374.65 229.94,373.38 230.34,372.11 230.99,371.06 231.87,370.33 232.94,370.16 234.05,370.59 235.07,371.26 235.96,372.04 236.72,372.86 237.37,373.66 237.91,374.44 238.36,375.19 238.74,375.89 239.06,376.55 239.34,377.16 239.59,377.73 239.81,378.27 240.02,378.79 240.20,379.29 240.37,379.78 240.53,380.27 240.68,380.75 240.82,381.24 240.95,381.74" fill="#b8f3a5"/>
<polygon points="240.82,382.25 240.93,382.77 241.02,383.30 241.09,383.87 241.15,384.47 241.18,385.11 241.18,385.78 241.13,386.50 241.00,387.23 240.78,387.97 240.47,388.69 240.05,389.37 239.52,389.96 238.86,390.39 238.11,390.61 237.31,390.63 236.52,390.48 235.76,390.20 235.07,389.81 234.45,389.33 233.91,388.81 233.46,388.27 233.07,387.75 232.74,387.25 232.46,386.78 232.21,386.33 232.00,385.91 231.81,385.51 231.63,385.13 231.48,384.77 231.33,384.41 231.19,384.06 231.06,383.71 230.94,383.36 230.83,383.00 230.72,382.63 230.62,382.25 230.52,381.86 230.42,381.44 230.33,380.98 230.24,380.50 230.15,379.96 230.07,379.37 229.99,378.70 229.93,377.95 229.90,377.08 229.91,376.11 230.00,375.02 230.21,373.84 230.60,372.67 231.23,371.71 232.07,371.06 233.07,370.92 234.11,371.30 235.07,371.88 235.91,372.57 236.65,373.31 237.27,374.03 237.80,374.76 238.23,375.47 238.60,376.13 238.91,376.76 239.19,377.35 239.43,377.90 239.64,378.42 239.83,378.92 240.01,379.40 240.18,379.87 240.33,380.34 240.47,380.81 240.59,381.28 240.71,381.76" fill="#b4f2a0"/>
<polygon points="240.58,382.25 240.66,382.74 240.74,383.25 240.80,383.79 240.85,384.36 240.87,384.96 240.85,385.59 240.78,386.25 240.64,386.93 240.42,387.61 240.12,388.27 239.72,388.89 239.22,389.44 238.60,389.84 237.90,390.04 237.16,390.05 236.42,389.91 235.71,389.65 235.07,389.29 234.49,388.86 233.99,388.39 233.56,387.89 233.19,387.41 232.88,386.95 232.61,386.51 232.38,386.10 232.17,385.71 231.99,385.34 231.82,384.98 231.66,384.64 231.52,384.30 231.39,383.97 231.26,383.64 231.14,383.31 231.03,382.97 230.93,382.62 230.83,382.25 230.73,381.88 230.64,381.47 230.55,381.04 230.47,380.58 230.38,380.07 230.31,379.51 230.24,378.87 230.18,378.15 230.15,377.34 230.17,376.42 230.27,375.40 230.48,374.30 230.86,373.23 231.47,372.36 232.26,371.79 233.20,371.68 234.17,372.00 235.07,372.51 235.87,373.10 236.57,373.75 237.17,374.40 237.68,375.07 238.10,375.74 238.46,376.38 238.77,376.97 239.03,377.53 239.26,378.06 239.47,378.56 239.65,379.04 239.82,379.51 239.98,379.96 240.12,380.42 240.25,380.87 240.37,381.32 240.48,381.78" fill="#b0f19b"/>
<polygon points="240.33,382.25 240.40,382.72 240.47,383.21 240.52,383.71 240.54,384.25 240.55,384.81 240.52,385.40 240.43,386.01 240.28,386.63 240.06,387.25 239.76,387.85 239.38,388.42 238.91,388.92 238.35,389.28 237.69,389.46 237.00,389.46 236.32,389.33 235.67,389.10 235.07,388.78 234.53,388.39 234.06,387.97 233.66,387.51 233.31,387.07 233.02,386.65 232.76,386.25 232.54,385.86 232.34,385.50 232.16,385.16 232.00,384.83 231.85,384.51 231.71,384.19 231.58,383.88 231.46,383.57 231.35,383.25 231.24,382.93 231.14,382.60 231.04,382.25 230.95,381.89 230.86,381.51 230.78,381.10 230.70,380.66 230.62,380.18 230.54,379.64 230.48,379.04 230.43,378.36 230.40,377.59 230.43,376.73 230.53,375.77 230.74,374.76 231.12,373.79 231.70,373.01 232.46,372.52 233.34,372.44 234.23,372.71 235.07,373.13 235.82,373.63 236.49,374.19 237.07,374.78 237.57,375.39 237.98,376.02 238.32,376.62 238.62,377.19 238.87,377.72 239.09,378.23 239.29,378.71 239.47,379.17 239.63,379.62 239.78,380.06 239.91,380.49 240.03,380.92 240.14,381.36 240.24,381.80" fill="#acf096"/>
<polygon points="240.08,382.25 240.14,382.70 240.19,383.16 240.23,383.64 240.24,384.14 240.23,384.66 240.18,385.21 240.09,385.77 239.92,386.33 239.70,386.89 239.41,387.43 239.05,387.94 238.61,388.39 238.09,388.73 237.48,388.88 236.84,388.88 236.21,388.76 235.62,388.55 235.07,388.27 234.57,387.93 234.14,387.54 233.76,387.14 233.44,386.73 233.16,386.35 232.92,385.98 232.70,385.63 232.51,385.30 232.34,384.98 232.18,384.67 232.04,384.37 231.91,384.08 231.78,383.79 231.66,383.49 231.55,383.20 231.44,382.89 231.35,382.58 231.25,382.25 231.17,381.91 231.08,381.55 231.00,381.16 230.92,380.75 230.85,380.29 230.78,379.78 230.72,379.21 230.67,378.57 230.66,377.84 230.69,377.03 230.79,376.15 231.01,375.22 231.38,374.35 231.94,373.67 232.66,373.26 233.47,373.20 234.29,373.42 235.07,373.75 235.78,374.16 236.41,374.63 236.97,375.15 237.45,375.71 237.85,376.29 238.18,376.86 238.47,377.40 238.71,377.91 238.93,378.39 239.12,378.85 239.29,379.30 239.44,379.73 239.58,380.15 239.71,380.57 239.82,380.98 239.92,381.40 240.00,381.82" fill="#a8f091"/>
<path d="M233.53,373.95C234.45,374.05 236.10,374.64 237.08,375.73C238.07,376.82 239.00,378.89 239.46,380.47C239.91,382.06 240.09,383.94 239.81,385.22C239.54,386.51 238.69,387.83 237.80,388.19C236.91,388.54 235.46,388.15 234.47,387.36C233.49,386.56 232.46,384.88 231.86,383.44C231.27,382.00 230.97,380.08 230.92,378.69C230.86,377.31 231.07,375.93 231.51,375.14C231.94,374.34 232.60,373.85 233.53,373.95Z" fill="#62e85a"/>
<polygon points="239.49,382.25 239.54,382.65 239.57,383.05 239.59,383.47 239.59,383.90 239.57,384.35 239.51,384.82 239.40,385.29 239.24,385.76 239.04,386.22 238.77,386.67 238.46,387.10 238.08,387.47 237.63,387.75 237.11,387.87 236.57,387.86 236.04,387.76 235.53,387.59 235.07,387.36 234.65,387.09 234.27,386.77 233.95,386.44 233.67,386.10 233.42,385.78 233.21,385.47 233.02,385.17 232.86,384.89 232.70,384.62 232.56,384.36 232.43,384.10 232.31,383.85 232.20,383.59 232.09,383.34 231.99,383.08 231.89,382.81 231.81,382.54 231.72,382.25 231.65,381.95 231.57,381.64 231.50,381.30 231.43,380.93 231.37,380.53 231.31,380.08 231.25,379.58 231.22,379.02 231.20,378.39 231.24,377.69 231.34,376.94 231.54,376.15 231.89,375.44 232.39,374.88 233.01,374.58 233.71,374.55 234.41,374.70 235.07,374.94 235.68,375.23 236.24,375.59 236.74,376.00 237.17,376.47 237.53,376.98 237.83,377.47 238.09,377.94 238.31,378.39 238.50,378.82 238.67,379.23 238.82,379.63 238.96,380.01 239.08,380.38 239.19,380.76 239.28,381.13 239.36,381.50 239.43,381.87" fill="#5fe758"/>
<polygon points="239.15,382.25 239.19,382.62 239.23,382.99 239.24,383.37 239.24,383.77 239.22,384.19 239.17,384.62 239.07,385.06 238.92,385.49 238.73,385.92 238.49,386.33 238.20,386.72 237.85,387.07 237.43,387.33 236.96,387.44 236.46,387.43 235.96,387.34 235.50,387.18 235.07,386.97 234.68,386.71 234.33,386.43 234.03,386.11 233.78,385.81 233.55,385.51 233.36,385.22 233.18,384.95 233.03,384.69 232.88,384.44 232.75,384.20 232.63,383.96 232.52,383.72 232.42,383.49 232.32,383.26 232.22,383.02 232.14,382.77 232.06,382.52 231.98,382.25 231.91,381.98 231.84,381.69 231.77,381.37 231.71,381.03 231.65,380.66 231.60,380.25 231.55,379.79 231.51,379.27 231.50,378.69 231.53,378.04 231.63,377.34 231.82,376.62 232.13,375.96 232.59,375.45 233.17,375.17 233.81,375.15 234.46,375.28 235.07,375.50 235.63,375.77 236.15,376.10 236.62,376.48 237.01,376.92 237.34,377.38 237.62,377.84 237.85,378.28 238.06,378.69 238.24,379.09 238.39,379.46 238.53,379.83 238.66,380.18 238.77,380.53 238.87,380.87 238.96,381.21 239.03,381.56 239.10,381.90" fill="#5de756"/>
<polygon points="238.81,382.25 238.85,382.59 238.88,382.93 238.90,383.28 238.90,383.65 238.88,384.03 238.83,384.42 238.74,384.82 238.60,385.22 238.43,385.61 238.20,385.99 237.94,386.35 237.62,386.67 237.24,386.90 236.80,387.01 236.34,387.00 235.89,386.91 235.46,386.77 235.07,386.57 234.71,386.34 234.39,386.08 234.12,385.79 233.88,385.51 233.68,385.24 233.50,384.97 233.34,384.72 233.20,384.49 233.07,384.26 232.95,384.03 232.84,383.82 232.73,383.60 232.64,383.39 232.55,383.17 232.46,382.95 232.38,382.73 232.31,382.50 232.24,382.25 232.17,382.00 232.11,381.73 232.05,381.45 231.99,381.13 231.94,380.79 231.89,380.42 231.84,379.99 231.81,379.52 231.80,378.99 231.83,378.39 231.92,377.75 232.09,377.09 232.38,376.49 232.80,376.02 233.33,375.76 233.92,375.74 234.51,375.87 235.07,376.06 235.59,376.31 236.06,376.61 236.49,376.96 236.85,377.36 237.15,377.79 237.41,378.20 237.62,378.61 237.81,378.99 237.97,379.35 238.12,379.70 238.24,380.03 238.36,380.35 238.46,380.67 238.55,380.99 238.63,381.30 238.70,381.61 238.76,381.93" fill="#5ae654"/>
<polygon points="238.47,382.25 238.51,382.56 238.53,382.87 238.55,383.19 238.55,383.52 238.53,383.87 238.48,384.23 238.40,384.59 238.28,384.95 238.12,385.31 237.92,385.65 237.68,385.98 237.38,386.27 237.04,386.48 236.64,386.58 236.22,386.57 235.81,386.49 235.43,386.36 235.07,386.18 234.74,385.97 234.45,385.73 234.21,385.47 233.99,385.21 233.80,384.96 233.64,384.73 233.50,384.50 233.37,384.28 233.25,384.07 233.14,383.87 233.04,383.67 232.95,383.48 232.86,383.28 232.77,383.09 232.70,382.89 232.63,382.68 232.56,382.47 232.50,382.25 232.44,382.02 232.38,381.78 232.32,381.52 232.27,381.24 232.22,380.93 232.17,380.58 232.13,380.20 232.10,379.77 232.10,379.28 232.12,378.75 232.20,378.16 232.36,377.56 232.62,377.01 233.00,376.58 233.49,376.35 234.02,376.33 234.56,376.45 235.07,376.63 235.54,376.85 235.97,377.12 236.36,377.44 236.69,377.81 236.96,378.19 237.19,378.57 237.39,378.94 237.56,379.29 237.71,379.61 237.84,379.93 237.95,380.23 238.06,380.53 238.15,380.82 238.24,381.10 238.31,381.39 238.37,381.67 238.42,381.96" fill="#58e651"/>
<polygon points="238.13,382.25 238.16,382.53 238.19,382.80 238.20,383.09 238.20,383.39 238.18,383.71 238.14,384.03 238.07,384.36 237.96,384.68 237.81,385.00 237.63,385.31 237.41,385.61 237.15,385.86 236.84,386.06 236.48,386.14 236.11,386.14 235.74,386.07 235.39,385.95 235.07,385.79 234.78,385.60 234.52,385.38 234.29,385.15 234.10,384.92 233.93,384.69 233.78,384.48 233.65,384.27 233.54,384.08 233.43,383.89 233.33,383.71 233.24,383.53 233.16,383.36 233.08,383.18 233.00,383.01 232.94,382.83 232.87,382.64 232.81,382.45 232.75,382.25 232.70,382.05 232.65,381.83 232.60,381.59 232.55,381.34 232.51,381.06 232.46,380.75 232.43,380.41 232.40,380.02 232.39,379.58 232.42,379.10 232.49,378.57 232.63,378.03 232.87,377.53 233.21,377.15 233.64,376.94 234.13,376.92 234.61,377.03 235.07,377.19 235.49,377.39 235.88,377.64 236.23,377.92 236.53,378.25 236.77,378.60 236.98,378.94 237.16,379.27 237.31,379.58 237.44,379.88 237.56,380.16 237.67,380.43 237.76,380.70 237.84,380.96 237.92,381.22 237.98,381.47 238.04,381.73 238.09,381.99" fill="#55e54f"/>
<polygon points="237.79,382.25 237.82,382.49 237.84,382.74 237.85,383.00 237.85,383.27 237.84,383.55 237.80,383.83 237.74,384.12 237.64,384.41 237.51,384.70 237.35,384.97 237.15,385.23 236.92,385.46 236.64,385.64 236.33,385.71 235.99,385.71 235.67,385.64 235.35,385.54 235.07,385.40 234.81,385.23 234.58,385.04 234.38,384.83 234.21,384.62 234.06,384.42 233.93,384.23 233.81,384.05 233.71,383.88 233.61,383.71 233.53,383.55 233.45,383.39 233.37,383.23 233.30,383.08 233.23,382.92 233.17,382.76 233.11,382.60 233.06,382.43 233.01,382.25 232.96,382.07 232.92,381.87 232.87,381.67 232.83,381.44 232.79,381.19 232.75,380.92 232.72,380.61 232.70,380.27 232.69,379.88 232.71,379.45 232.78,378.98 232.90,378.50 233.11,378.06 233.42,377.72 233.80,377.53 234.23,377.51 234.66,377.61 235.07,377.75 235.45,377.93 235.79,378.15 236.10,378.40 236.36,378.70 236.58,379.01 236.77,379.31 236.93,379.60 237.06,379.88 237.18,380.14 237.28,380.39 237.38,380.64 237.46,380.87 237.54,381.10 237.60,381.33 237.66,381.56 237.71,381.79 237.75,382.02" fill="#53e54d"/>
<polygon points="237.45,382.25 237.47,382.46 237.49,382.68 237.50,382.91 237.50,383.14 237.49,383.38 237.46,383.63 237.40,383.89 237.32,384.14 237.20,384.39 237.06,384.63 236.89,384.86 236.69,385.06 236.45,385.21 236.17,385.28 235.88,385.27 235.59,385.22 235.32,385.13 235.07,385.00 234.84,384.86 234.64,384.69 234.46,384.51 234.31,384.33 234.18,384.15 234.07,383.98 233.97,383.83 233.88,383.67 233.79,383.53 233.72,383.39 233.65,383.25 233.58,383.11 233.52,382.98 233.46,382.84 233.41,382.70 233.36,382.56 233.31,382.41 233.27,382.25 233.23,382.09 233.19,381.92 233.15,381.74 233.11,381.54 233.07,381.32 233.04,381.09 233.01,380.82 232.99,380.51 232.99,380.17 233.01,379.80 233.06,379.39 233.17,378.97 233.36,378.58 233.62,378.29 233.96,378.12 234.34,378.11 234.71,378.19 235.07,378.32 235.40,378.47 235.70,378.66 235.97,378.89 236.20,379.14 236.39,379.41 236.56,379.68 236.69,379.93 236.81,380.18 236.92,380.41 237.01,380.63 237.09,380.84 237.16,381.05 237.23,381.25 237.28,381.45 237.34,381.65 237.38,381.85 237.42,382.05" fill="#50e44b"/>
<polygon points="237.11,382.25 237.13,382.43 237.15,382.62 237.16,382.81 237.16,383.01 237.15,383.22 237.12,383.44 237.07,383.66 237.00,383.87 236.90,384.09 236.78,384.29 236.63,384.49 236.46,384.66 236.25,384.79 236.01,384.85 235.76,384.84 235.52,384.80 235.28,384.72 235.07,384.61 234.87,384.48 234.70,384.34 234.55,384.18 234.42,384.03 234.31,383.88 234.21,383.74 234.12,383.60 234.05,383.47 233.98,383.35 233.91,383.23 233.85,383.11 233.79,382.99 233.74,382.87 233.69,382.76 233.65,382.64 233.60,382.51 233.56,382.39 233.52,382.25 233.49,382.12 233.45,381.97 233.42,381.81 233.39,381.64 233.36,381.46 233.33,381.25 233.31,381.02 233.29,380.76 233.28,380.47 233.30,380.15 233.35,379.80 233.44,379.44 233.60,379.11 233.83,378.85 234.12,378.71 234.44,378.70 234.76,378.77 235.07,378.88 235.35,379.01 235.61,379.18 235.84,379.37 236.04,379.59 236.20,379.82 236.34,380.05 236.46,380.26 236.56,380.47 236.65,380.67 236.73,380.86 236.80,381.04 236.86,381.22 236.92,381.39 236.97,381.56 237.01,381.73 237.05,381.90 237.08,382.08" fill="#4de349"/>
<polygon points="236.77,382.25 236.79,382.40 236.80,382.56 236.81,382.72 236.81,382.89 236.80,383.06 236.78,383.24 236.74,383.42 236.67,383.60 236.59,383.78 236.49,383.95 236.37,384.12 236.23,384.26 236.05,384.37 235.85,384.42 235.65,384.41 235.44,384.37 235.25,384.31 235.07,384.22 234.91,384.11 234.76,383.99 234.64,383.86 234.53,383.73 234.44,383.61 234.35,383.49 234.28,383.38 234.22,383.27 234.16,383.16 234.10,383.06 234.05,382.96 234.01,382.87 233.96,382.77 233.92,382.67 233.88,382.57 233.85,382.47 233.81,382.36 233.78,382.25 233.75,382.14 233.72,382.02 233.70,381.89 233.67,381.75 233.64,381.59 233.62,381.42 233.60,381.23 233.59,381.01 233.58,380.77 233.60,380.50 233.64,380.21 233.71,379.91 233.85,379.63 234.04,379.42 234.28,379.30 234.55,379.29 234.81,379.35 235.07,379.44 235.30,379.55 235.52,379.69 235.71,379.85 235.88,380.03 236.01,380.22 236.13,380.41 236.23,380.60 236.31,380.77 236.39,380.93 236.45,381.09 236.51,381.24 236.56,381.39 236.61,381.54 236.65,381.68 236.69,381.82 236.72,381.96 236.75,382.11" fill="#4be347"/>
<polygon points="236.43,382.25 236.44,382.37 236.45,382.50 236.46,382.63 236.46,382.76 236.45,382.90 236.43,383.04 236.40,383.19 236.35,383.33 236.29,383.48 236.21,383.61 236.11,383.74 235.99,383.86 235.86,383.94 235.70,383.98 235.53,383.98 235.37,383.95 235.21,383.90 235.07,383.83 234.94,383.74 234.82,383.65 234.72,383.54 234.64,383.44 234.56,383.34 234.50,383.24 234.44,383.15 234.39,383.07 234.34,382.98 234.30,382.90 234.26,382.82 234.22,382.74 234.18,382.67 234.15,382.59 234.12,382.51 234.09,382.43 234.06,382.34 234.04,382.25 234.01,382.16 233.99,382.06 233.97,381.96 233.95,381.85 233.93,381.72 233.91,381.59 233.89,381.43 233.88,381.26 233.88,381.07 233.89,380.85 233.92,380.62 233.98,380.38 234.09,380.16 234.24,379.99 234.44,379.89 234.65,379.88 234.86,379.93 235.07,380.00 235.26,380.09 235.43,380.20 235.58,380.33 235.72,380.47 235.83,380.63 235.92,380.78 236.00,380.93 236.06,381.07 236.12,381.20 236.18,381.32 236.22,381.45 236.26,381.56 236.30,381.68 236.33,381.79 236.36,381.91 236.39,382.02 236.41,382.14" fill="#48e245"/>
<polygon points="236.09,382.25 236.10,382.34 236.11,382.44 236.11,382.53 236.11,382.63 236.11,382.74 236.09,382.85 236.07,382.95 236.03,383.06 235.98,383.17 235.92,383.27 235.85,383.37 235.76,383.46 235.66,383.52 235.54,383.55 235.41,383.55 235.29,383.52 235.18,383.49 235.07,383.43 234.97,383.37 234.88,383.30 234.81,383.22 234.74,383.14 234.69,383.07 234.64,383.00 234.60,382.93 234.56,382.86 234.52,382.80 234.49,382.74 234.46,382.68 234.43,382.62 234.40,382.56 234.38,382.50 234.36,382.44 234.34,382.38 234.32,382.32 234.30,382.25 234.28,382.19 234.26,382.11 234.24,382.03 234.23,381.95 234.21,381.86 234.20,381.75 234.19,381.64 234.18,381.51 234.18,381.36 234.18,381.20 234.21,381.03 234.25,380.85 234.33,380.68 234.45,380.55 234.59,380.48 234.75,380.48 234.92,380.51 235.07,380.57 235.21,380.63 235.34,380.72 235.45,380.81 235.55,380.92 235.64,381.04 235.71,381.15 235.76,381.26 235.82,381.36 235.86,381.46 235.90,381.56 235.93,381.65 235.97,381.74 235.99,381.82 236.02,381.91 236.04,381.99 236.06,382.08 236.07,382.17" fill="#46e242"/>
<polygon points="235.75,382.25 235.76,382.31 235.76,382.38 235.76,382.44 235.76,382.51 235.76,382.58 235.75,382.65 235.73,382.72 235.71,382.79 235.68,382.86 235.64,382.93 235.59,383.00 235.53,383.06 235.46,383.10 235.38,383.12 235.30,383.12 235.22,383.10 235.14,383.07 235.07,383.04 235.00,383.00 234.95,382.95 234.90,382.90 234.85,382.85 234.82,382.80 234.78,382.75 234.75,382.70 234.73,382.66 234.70,382.62 234.68,382.58 234.66,382.54 234.64,382.50 234.63,382.46 234.61,382.42 234.59,382.38 234.58,382.34 234.57,382.30 234.55,382.25 234.54,382.21 234.53,382.16 234.52,382.11 234.51,382.05 234.50,381.99 234.49,381.92 234.48,381.84 234.48,381.76 234.47,381.66 234.48,381.55 234.49,381.44 234.53,381.32 234.58,381.21 234.66,381.12 234.75,381.07 234.86,381.07 234.97,381.09 235.07,381.13 235.16,381.17 235.25,381.23 235.33,381.29 235.39,381.36 235.45,381.44 235.49,381.52 235.53,381.59 235.57,381.66 235.60,381.73 235.62,381.79 235.65,381.85 235.67,381.91 235.68,381.97 235.70,382.02 235.72,382.08 235.73,382.14 235.74,382.20" fill="#43e140"/>
<polygon points="235.41,382.25 235.41,382.28 235.41,382.32 235.42,382.35 235.42,382.38 235.41,382.42 235.41,382.45 235.40,382.49 235.39,382.52 235.37,382.56 235.35,382.59 235.33,382.63 235.30,382.66 235.26,382.68 235.23,382.69 235.18,382.69 235.14,382.68 235.10,382.66 235.07,382.65 235.04,382.63 235.01,382.60 234.98,382.58 234.96,382.55 234.94,382.53 234.93,382.50 234.91,382.48 234.90,382.46 234.89,382.44 234.87,382.42 234.86,382.40 234.86,382.38 234.85,382.36 234.84,382.34 234.83,382.32 234.82,382.30 234.82,382.28 234.81,382.25 234.80,382.23 234.80,382.21 234.79,382.18 234.79,382.15 234.78,382.12 234.78,382.09 234.77,382.05 234.77,382.01 234.77,381.96 234.77,381.90 234.78,381.85 234.80,381.78 234.82,381.73 234.86,381.69 234.91,381.66 234.96,381.66 235.02,381.67 235.07,381.69 235.12,381.71 235.16,381.74 235.20,381.77 235.23,381.81 235.26,381.85 235.28,381.89 235.30,381.92 235.32,381.96 235.33,381.99 235.34,382.02 235.36,382.05 235.37,382.08 235.38,382.11 235.38,382.14 235.39,382.17 235.40,382.20 235.40,382.22" fill="#41e13e"/>
<path d="M231.15,363.27C232.28,363.17 233.82,364.36 235.07,365.64C236.31,366.93 237.54,369.01 238.63,370.98C239.71,372.96 240.70,375.23 241.59,377.51C242.48,379.78 243.47,382.45 243.97,384.63C244.46,386.80 244.76,388.84 244.56,390.56C244.36,392.28 243.67,393.96 242.78,394.95C241.89,395.94 240.51,396.49 239.22,396.49C237.94,396.49 236.35,395.94 235.07,394.95C233.78,393.96 232.50,392.28 231.51,390.56C230.52,388.84 229.77,386.70 229.14,384.63C228.50,382.55 228.01,380.28 227.71,378.10C227.42,375.93 227.26,373.55 227.36,371.58C227.45,369.60 227.67,367.62 228.31,366.24C228.94,364.85 230.03,363.37 231.15,363.27Z" fill="none" stroke="#000" stroke-width="1.0"/>
</g>
<path d="M233.53,373.95C234.45,374.05 236.10,374.64 237.08,375.73C238.07,376.82 239.00,378.89 239.46,380.47C239.91,382.06 240.09,383.94 239.81,385.22C239.54,386.51 238.69,387.83 237.80,388.19C236.91,388.54 235.46,388.15 234.47,387.36C233.49,386.56 232.46,384.88 231.86,383.44C231.27,382.00 230.97,380.08 230.92,378.69C230.86,377.31 231.07,375.93 231.51,375.14C231.94,374.34 232.60,373.85 233.53,373.95Z" fill="none" stroke="#000" stroke-width="1.0"/>
<path d="M232.20,382.50H238.80M235.50,379.20V385.80" stroke="#000" stroke-width="1" fill="none"/>
<rect x="199.50" y="357.30" width="97.15" height="74.90" fill="none" stroke="#000" stroke-width="1"/>
<path d="M203.35,432.20v6.6M225.76,432.20v6.6M248.18,432.20v6.6M270.59,432.20v6.6M293.00,432.20v6.6M199.50,429.20h-6.8M199.50,418.50h-6.8M199.50,407.80h-6.8M199.50,397.10h-6.8M199.50,386.40h-6.8M199.50,375.70h-6.8M199.50,365.00h-6.8" stroke="#000" stroke-width="1" fill="none"/>
<text class="a" x="203.35" y="455.00">0.00</text>
<text class="a" x="248.18" y="455.00">0.04</text>
<text class="a" x="293.00" y="455.00">0.08</text>
<text class="a" transform="translate(184.50,429.20) rotate(-90)">0</text>
<text class="a" transform="translate(184.50,407.80) rotate(-90)">40</text>
<text class="a" transform="translate(184.50,386.40) rotate(-90)">80</text>
<text class="p" x="248.18" y="468.00">π</text>
<g transform="translate(167.30,403.45) rotate(-90)">
<text class="g" x="0" y="0">γ</text><path d="M0.1,-6.2h4.6" stroke="#000" stroke-width="1"/>
<text class="s" x="4.60" y="2.60">dn</text><text class="ss" x="13.40" y="3.90">2</text>
</g>
<text class="t" x="248.07" y="328.00">LoF de novo</text>
<text class="t" x="248.07" y="344.00">(DD)</text>
</g>
<g>
<g>
<path d="M52.87,540.58C53.64,540.52 54.72,540.84 55.55,541.73C56.37,542.62 57.07,544.21 57.84,545.93C58.60,547.65 59.24,550.00 60.13,552.04C61.02,554.07 61.97,556.11 63.18,558.15C64.39,560.18 65.98,562.35 67.38,564.26C68.78,566.17 70.57,568.01 71.58,569.60C72.60,571.19 73.37,572.53 73.49,573.80C73.62,575.08 73.11,576.44 72.35,577.24C71.58,578.04 70.25,578.49 68.91,578.62C67.58,578.74 65.86,578.55 64.33,578.00C62.80,577.46 61.15,576.48 59.75,575.33C58.35,574.19 57.01,572.72 55.93,571.13C54.85,569.54 54.02,567.82 53.26,565.79C52.49,563.75 51.82,561.20 51.35,558.91C50.88,556.62 50.62,554.20 50.43,552.04C50.24,549.87 50.11,547.58 50.20,545.93C50.29,544.27 50.52,543.00 50.96,542.11C51.41,541.22 52.11,540.65 52.87,540.58Z" fill="#d4f8fb"/>
<polygon points="67.38,564.64 67.98,565.43 68.73,566.36 69.66,567.50 70.74,568.92 71.80,570.62 72.68,572.55 72.85,574.35 72.37,575.88 71.41,577.07 70.01,577.78 68.42,578.11 66.76,578.11 65.14,577.85 63.61,577.35 62.21,576.66 60.97,575.90 59.90,575.11 58.98,574.33 58.20,573.56 57.54,572.84 56.97,572.17 56.48,571.53 56.05,570.93 55.68,570.36 55.35,569.83 55.06,569.32 54.80,568.83 54.56,568.35 54.34,567.89 54.14,567.44 53.94,566.99 53.76,566.54 53.58,566.09 53.40,565.62 53.22,565.14 53.05,564.64 52.88,564.11 52.70,563.53 52.51,562.91 52.32,562.21 52.11,561.44 51.90,560.55 51.66,559.51 51.42,558.29 51.17,556.83 50.94,555.05 50.71,552.83 50.51,549.96 50.50,546.45 51.17,543.16 52.81,541.60 55.01,542.10 57.30,545.35 58.98,549.52 60.06,552.32 60.85,554.06 61.47,555.35 61.99,556.37 62.45,557.21 62.85,557.93 63.23,558.57 63.59,559.15 63.93,559.69 64.27,560.21 64.60,560.71 64.93,561.20 65.28,561.70 65.64,562.22 66.02,562.75 66.43,563.33 66.87,563.95" fill="#d1f8fb"/>
<polygon points="67.08,564.64 67.65,565.40 68.36,566.29 69.23,567.38 70.24,568.74 71.23,570.35 72.06,572.19 72.22,573.91 71.79,575.38 70.89,576.54 69.56,577.25 68.06,577.60 66.48,577.63 64.93,577.39 63.45,576.91 62.09,576.25 60.90,575.51 59.87,574.74 58.98,573.98 58.23,573.25 57.59,572.55 57.04,571.90 56.57,571.28 56.15,570.71 55.80,570.16 55.48,569.64 55.20,569.15 54.95,568.68 54.72,568.22 54.50,567.78 54.30,567.34 54.12,566.91 53.94,566.48 53.76,566.04 53.59,565.59 53.42,565.13 53.25,564.64 53.08,564.12 52.90,563.57 52.72,562.96 52.53,562.29 52.33,561.54 52.11,560.67 51.88,559.67 51.64,558.48 51.40,557.06 51.17,555.33 50.95,553.17 50.77,550.42 50.80,547.09 51.47,544.00 53.07,542.57 55.18,543.07 57.36,546.13 58.98,550.04 60.03,552.70 60.80,554.35 61.41,555.60 61.91,556.59 62.36,557.41 62.75,558.11 63.12,558.73 63.46,559.30 63.79,559.83 64.12,560.33 64.44,560.82 64.76,561.30 65.09,561.79 65.43,562.29 65.79,562.81 66.18,563.37 66.61,563.97" fill="#cef7fa"/>
<polygon points="66.79,564.64 67.32,565.37 67.98,566.23 68.79,567.27 69.73,568.55 70.66,570.08 71.43,571.83 71.59,573.47 71.20,574.89 70.36,576.01 69.12,576.72 67.69,577.08 66.20,577.14 64.71,576.92 63.29,576.47 61.98,575.84 60.83,575.12 59.84,574.38 58.98,573.64 58.26,572.93 57.64,572.26 57.11,571.63 56.66,571.04 56.26,570.48 55.91,569.96 55.61,569.46 55.34,568.98 55.09,568.53 54.87,568.09 54.67,567.66 54.47,567.24 54.29,566.83 54.12,566.41 53.95,565.99 53.78,565.56 53.61,565.11 53.45,564.64 53.28,564.14 53.11,563.60 52.93,563.02 52.74,562.37 52.54,561.64 52.33,560.80 52.11,559.82 51.87,558.67 51.63,557.29 51.41,555.61 51.20,553.52 51.03,550.87 51.10,547.72 51.77,544.83 53.33,543.53 55.35,544.04 57.43,546.90 58.98,550.56 60.00,553.07 60.74,554.65 61.34,555.85 61.83,556.80 62.27,557.60 62.65,558.29 63.01,558.89 63.34,559.45 63.66,559.96 63.97,560.46 64.28,560.93 64.59,561.41 64.90,561.88 65.23,562.37 65.57,562.87 65.94,563.41 66.34,564.00" fill="#caf6f9"/>
<polygon points="66.49,564.64 66.99,565.34 67.60,566.16 68.36,567.15 69.23,568.37 70.09,569.82 70.81,571.47 70.97,573.03 70.61,574.39 69.83,575.49 68.67,576.19 67.33,576.57 65.92,576.65 64.50,576.46 63.13,576.03 61.87,575.42 60.76,574.73 59.80,574.01 58.98,573.30 58.29,572.61 57.69,571.97 57.18,571.36 56.74,570.79 56.36,570.26 56.03,569.75 55.74,569.27 55.48,568.82 55.24,568.38 55.03,567.96 54.83,567.55 54.64,567.15 54.47,566.75 54.30,566.35 54.13,565.94 53.97,565.52 53.81,565.09 53.64,564.64 53.48,564.16 53.31,563.64 53.14,563.07 52.95,562.44 52.76,561.74 52.55,560.93 52.33,559.98 52.10,558.86 51.86,557.52 51.64,555.89 51.44,553.86 51.30,551.33 51.39,548.36 52.08,545.67 53.58,544.49 55.52,545.00 57.50,547.68 58.98,551.08 59.96,553.44 60.69,554.95 61.27,556.10 61.76,557.02 62.18,557.79 62.55,558.46 62.89,559.05 63.22,559.59 63.52,560.10 63.82,560.58 64.12,561.05 64.41,561.51 64.71,561.97 65.02,562.44 65.35,562.93 65.69,563.46 66.07,564.02" fill="#c6f6f9"/>
<polygon points="66.19,564.64 66.66,565.31 67.23,566.09 67.92,567.04 68.73,568.19 69.51,569.55 70.18,571.11 70.34,572.59 70.02,573.90 69.30,574.96 68.23,575.66 66.97,576.05 65.64,576.16 64.28,576.00 62.97,575.59 61.76,575.01 60.69,574.34 59.77,573.64 58.98,572.96 58.31,572.30 57.74,571.67 57.25,571.09 56.83,570.54 56.47,570.03 56.15,569.55 55.87,569.09 55.62,568.65 55.39,568.23 55.18,567.83 54.99,567.43 54.81,567.05 54.64,566.66 54.48,566.28 54.32,565.89 54.16,565.49 54.00,565.08 53.84,564.64 53.68,564.18 53.52,563.68 53.35,563.13 53.16,562.52 52.97,561.84 52.77,561.05 52.55,560.14 52.32,559.05 52.10,557.75 51.88,556.17 51.68,554.21 51.56,551.78 51.69,548.99 52.38,546.50 53.84,545.45 55.69,545.97 57.57,548.45 58.98,551.61 59.93,553.81 60.64,555.25 61.20,556.35 61.68,557.24 62.08,557.99 62.45,558.64 62.78,559.21 63.09,559.74 63.39,560.23 63.67,560.70 63.96,561.16 64.24,561.61 64.52,562.06 64.81,562.52 65.12,563.00 65.45,563.50 65.80,564.04" fill="#c2f5f8"/>
<polygon points="65.90,564.64 66.33,565.28 66.85,566.03 67.49,566.92 68.22,568.00 68.94,569.28 69.56,570.74 69.71,572.15 69.43,573.41 68.78,574.43 67.78,575.12 66.61,575.54 65.35,575.67 64.06,575.53 62.81,575.15 61.65,574.59 60.62,573.95 59.74,573.28 58.98,572.61 58.34,571.98 57.79,571.38 57.33,570.82 56.92,570.30 56.57,569.81 56.27,569.34 56.00,568.90 55.76,568.49 55.54,568.08 55.34,567.70 55.15,567.32 54.98,566.95 54.82,566.58 54.66,566.21 54.50,565.84 54.35,565.46 54.19,565.06 54.04,564.64 53.88,564.19 53.72,563.71 53.55,563.18 53.37,562.60 53.19,561.94 52.99,561.18 52.77,560.29 52.55,559.24 52.33,557.98 52.11,556.45 51.92,554.56 51.82,552.24 51.98,549.63 52.68,547.33 54.10,546.41 55.86,546.94 57.64,549.23 58.98,552.13 59.90,554.18 60.59,555.54 61.14,556.60 61.60,557.46 61.99,558.18 62.35,558.81 62.67,559.37 62.97,559.89 63.25,560.37 63.53,560.83 63.80,561.27 64.06,561.71 64.33,562.15 64.61,562.59 64.90,563.06 65.20,563.54 65.53,564.07" fill="#bef5f8"/>
<polygon points="65.60,564.64 66.00,565.25 66.48,565.96 67.05,566.80 67.72,567.82 68.37,569.02 68.93,570.38 69.09,571.71 68.84,572.91 68.25,573.91 67.34,574.59 66.25,575.02 65.07,575.18 63.85,575.07 62.65,574.71 61.54,574.18 60.56,573.56 59.71,572.91 58.98,572.27 58.37,571.66 57.85,571.09 57.40,570.55 57.01,570.05 56.68,569.58 56.39,569.14 56.13,568.72 55.90,568.32 55.69,567.94 55.50,567.57 55.32,567.21 55.15,566.85 54.99,566.50 54.84,566.15 54.69,565.79 54.54,565.42 54.39,565.04 54.24,564.64 54.09,564.21 53.93,563.75 53.76,563.24 53.59,562.68 53.40,562.04 53.21,561.30 53.00,560.45 52.78,559.43 52.56,558.21 52.35,556.73 52.17,554.90 52.09,552.69 52.28,550.26 52.99,548.17 54.36,547.37 56.03,547.91 57.70,550.01 58.98,552.65 59.87,554.55 60.53,555.84 61.07,556.85 61.52,557.68 61.90,558.38 62.25,558.99 62.56,559.54 62.85,560.04 63.12,560.50 63.38,560.95 63.63,561.38 63.89,561.81 64.14,562.23 64.40,562.67 64.67,563.12 64.96,563.59 65.27,564.09" fill="#baf4f7"/>
<polygon points="65.31,564.64 65.67,565.22 66.10,565.89 66.62,566.69 67.21,567.64 67.80,568.75 68.31,570.02 68.46,571.27 68.25,572.42 67.72,573.38 66.89,574.06 65.89,574.51 64.79,574.70 63.63,574.61 62.49,574.27 61.43,573.77 60.49,573.17 59.67,572.54 58.98,571.93 58.40,571.34 57.90,570.80 57.47,570.28 57.10,569.81 56.78,569.36 56.50,568.93 56.26,568.53 56.04,568.15 55.84,567.79 55.65,567.44 55.48,567.09 55.32,566.75 55.17,566.42 55.02,566.08 54.87,565.74 54.73,565.39 54.58,565.02 54.44,564.64 54.29,564.23 54.13,563.78 53.97,563.30 53.80,562.75 53.61,562.14 53.42,561.43 53.22,560.60 53.00,559.62 52.79,558.44 52.58,557.01 52.41,555.25 52.35,553.15 52.58,550.90 53.29,549.00 54.61,548.34 56.20,548.88 57.77,550.78 58.98,553.17 59.83,554.92 60.48,556.14 61.00,557.10 61.44,557.90 61.81,558.57 62.14,559.16 62.45,559.70 62.72,560.18 62.98,560.64 63.23,561.07 63.47,561.50 63.71,561.91 63.95,562.32 64.20,562.74 64.45,563.18 64.71,563.63 65.00,564.11" fill="#b6f3f6"/>
<polygon points="65.01,564.64 65.34,565.20 65.73,565.83 66.19,566.57 66.71,567.45 67.23,568.49 67.68,569.66 67.83,570.84 67.67,571.93 67.19,572.85 66.44,573.53 65.53,573.99 64.51,574.21 63.41,574.14 62.33,573.83 61.32,573.35 60.42,572.78 59.64,572.18 58.98,571.59 58.42,571.03 57.95,570.50 57.54,570.02 57.19,569.56 56.89,569.13 56.62,568.73 56.39,568.35 56.17,567.99 55.98,567.64 55.81,567.30 55.64,566.98 55.49,566.66 55.34,566.34 55.20,566.02 55.06,565.69 54.92,565.36 54.78,565.01 54.63,564.64 54.49,564.25 54.34,563.82 54.18,563.35 54.01,562.83 53.83,562.24 53.64,561.56 53.44,560.76 53.23,559.81 53.02,558.67 52.82,557.29 52.65,555.60 52.61,553.60 52.87,551.53 53.60,549.84 54.87,549.30 56.37,549.84 57.84,551.56 58.98,553.69 59.80,555.29 60.43,556.43 60.94,557.35 61.36,558.11 61.72,558.77 62.04,559.34 62.33,559.86 62.60,560.33 62.85,560.78 63.08,561.20 63.31,561.61 63.54,562.01 63.76,562.41 63.99,562.82 64.22,563.24 64.47,563.67 64.73,564.14" fill="#b1f3f6"/>
<polygon points="64.72,564.64 65.01,565.17 65.35,565.76 65.75,566.45 66.21,567.27 66.66,568.22 67.06,569.30 67.21,570.40 67.08,571.43 66.67,572.32 66.00,573.00 65.17,573.48 64.23,573.72 63.20,573.68 62.17,573.39 61.21,572.94 60.35,572.39 59.61,571.81 58.98,571.24 58.45,570.71 58.00,570.21 57.61,569.75 57.28,569.31 56.99,568.91 56.74,568.53 56.51,568.16 56.31,567.82 56.13,567.49 55.96,567.17 55.81,566.86 55.66,566.56 55.52,566.26 55.38,565.95 55.24,565.64 55.11,565.32 54.97,564.99 54.83,564.64 54.69,564.26 54.54,563.86 54.39,563.41 54.22,562.91 54.04,562.34 53.86,561.68 53.66,560.91 53.46,560.00 53.25,558.90 53.05,557.57 52.89,555.94 52.87,554.06 53.17,552.17 53.90,550.67 55.13,550.26 56.55,550.81 57.91,552.34 58.98,554.21 59.77,555.66 60.38,556.73 60.87,557.60 61.28,558.33 61.63,558.96 61.94,559.52 62.22,560.02 62.48,560.48 62.71,560.91 62.94,561.32 63.15,561.72 63.36,562.11 63.57,562.50 63.78,562.89 64.00,563.30 64.22,563.72 64.46,564.16" fill="#adf2f5"/>
<polygon points="64.42,564.64 64.68,565.14 64.98,565.70 65.32,566.34 65.70,567.09 66.09,567.95 66.43,568.94 66.58,569.96 66.49,570.94 66.14,571.80 65.55,572.47 64.81,572.96 63.94,573.23 62.98,573.22 62.01,572.95 61.10,572.53 60.28,572.00 59.58,571.44 58.98,570.90 58.48,570.39 58.05,569.92 57.69,569.48 57.37,569.07 57.10,568.68 56.86,568.32 56.64,567.98 56.45,567.65 56.28,567.34 56.12,567.04 55.97,566.75 55.83,566.46 55.69,566.17 55.56,565.89 55.43,565.59 55.30,565.29 55.17,564.97 55.03,564.64 54.89,564.28 54.75,563.89 54.59,563.46 54.43,562.98 54.26,562.44 54.08,561.81 53.88,561.07 53.68,560.19 53.48,559.14 53.28,557.85 53.13,556.29 53.14,554.51 53.46,552.80 54.20,551.51 55.39,551.22 56.72,551.78 57.97,553.11 58.98,554.73 59.74,556.03 60.33,557.03 60.80,557.85 61.20,558.55 61.54,559.16 61.84,559.69 62.11,560.18 62.35,560.63 62.58,561.05 62.79,561.45 62.99,561.83 63.19,562.21 63.38,562.59 63.58,562.97 63.77,563.36 63.98,563.76 64.19,564.18" fill="#a8f1f4"/>
<polygon points="64.13,564.64 64.35,565.11 64.60,565.63 64.88,566.22 65.20,566.90 65.52,567.69 65.81,568.58 65.95,569.52 65.90,570.44 65.61,571.27 65.11,571.94 64.45,572.45 63.66,572.74 62.77,572.75 61.85,572.52 60.99,572.11 60.21,571.61 59.55,571.08 58.98,570.56 58.51,570.07 58.10,569.63 57.76,569.21 57.46,568.82 57.20,568.46 56.97,568.12 56.77,567.80 56.59,567.49 56.43,567.19 56.28,566.91 56.13,566.64 56.00,566.36 55.87,566.09 55.74,565.82 55.61,565.54 55.49,565.26 55.36,564.96 55.23,564.64 55.09,564.30 54.95,563.93 54.80,563.52 54.64,563.06 54.47,562.54 54.30,561.93 54.11,561.22 53.91,560.38 53.71,559.37 53.52,558.13 53.38,556.63 53.40,554.97 53.76,553.44 54.51,552.34 55.65,552.18 56.89,552.75 58.04,553.89 58.98,555.25 59.70,556.40 60.27,557.33 60.73,558.10 61.12,558.77 61.45,559.35 61.74,559.87 62.00,560.34 62.23,560.77 62.44,561.18 62.64,561.57 62.83,561.95 63.01,562.31 63.19,562.68 63.37,563.04 63.55,563.42 63.73,563.80 63.93,564.21" fill="#a3f0f3"/>
<polygon points="63.83,564.64 64.02,565.08 64.22,565.56 64.45,566.10 64.70,566.72 64.95,567.42 65.18,568.22 65.32,569.08 65.31,569.95 65.08,570.74 64.66,571.40 64.09,571.93 63.38,572.26 62.55,572.29 61.69,572.08 60.87,571.70 60.14,571.22 59.51,570.71 58.98,570.22 58.54,569.76 58.16,569.33 57.83,568.94 57.55,568.58 57.31,568.24 57.09,567.91 56.90,567.61 56.73,567.32 56.58,567.05 56.43,566.78 56.30,566.52 56.17,566.27 56.04,566.01 55.92,565.75 55.80,565.49 55.68,565.22 55.55,564.94 55.43,564.64 55.29,564.32 55.16,563.96 55.01,563.57 54.85,563.14 54.69,562.64 54.51,562.06 54.33,561.38 54.14,560.57 53.94,559.60 53.75,558.41 53.62,556.98 53.66,555.42 54.06,554.07 54.81,553.17 55.90,553.14 57.06,553.71 58.11,554.66 58.98,555.77 59.67,556.77 60.22,557.62 60.67,558.35 61.04,558.99 61.36,559.54 61.64,560.04 61.88,560.50 62.10,560.92 62.31,561.32 62.49,561.69 62.67,562.06 62.84,562.41 63.00,562.77 63.16,563.12 63.33,563.48 63.49,563.85 63.66,564.23" fill="#9ff0f3"/>
<path d="M55.55,553.95C56.31,554.01 57.58,554.77 58.60,555.86C59.62,556.94 60.77,558.78 61.66,560.44C62.55,562.09 63.44,564.26 63.95,565.79C64.46,567.31 64.84,568.61 64.71,569.60C64.58,570.60 63.88,571.49 63.18,571.74C62.48,572.00 61.47,571.74 60.51,571.13C59.56,570.52 58.35,569.35 57.46,568.08C56.56,566.80 55.74,565.02 55.16,563.49C54.59,561.97 54.21,560.25 54.02,558.91C53.83,557.58 53.76,556.30 54.02,555.47C54.27,554.65 54.78,553.88 55.55,553.95Z" fill="#5cecd8"/>
<polygon points="63.21,564.64 63.35,565.02 63.50,565.44 63.65,565.89 63.82,566.40 63.99,566.98 64.16,567.63 64.29,568.36 64.31,569.11 64.16,569.82 63.84,570.43 63.39,570.93 62.80,571.26 62.09,571.31 61.35,571.14 60.64,570.81 60.00,570.38 59.45,569.93 58.98,569.50 58.59,569.10 58.26,568.73 57.98,568.38 57.74,568.07 57.52,567.77 57.34,567.49 57.17,567.23 57.02,566.98 56.89,566.74 56.76,566.51 56.64,566.28 56.52,566.06 56.41,565.84 56.31,565.61 56.20,565.39 56.09,565.15 55.98,564.90 55.86,564.64 55.75,564.36 55.62,564.05 55.49,563.70 55.34,563.31 55.19,562.87 55.03,562.36 54.87,561.76 54.69,561.04 54.51,560.17 54.35,559.11 54.23,557.85 54.29,556.51 54.68,555.42 55.39,554.77 56.36,554.86 57.35,555.39 58.24,556.10 58.98,556.89 59.59,557.68 60.08,558.40 60.49,559.04 60.82,559.59 61.11,560.09 61.35,560.53 61.57,560.94 61.77,561.32 61.94,561.68 62.11,562.02 62.26,562.35 62.40,562.67 62.54,562.98 62.67,563.30 62.81,563.61 62.94,563.94 63.07,564.28" fill="#5aebd7"/>
<polygon points="62.89,564.64 63.02,564.99 63.15,565.38 63.30,565.80 63.45,566.26 63.61,566.80 63.76,567.40 63.88,568.07 63.90,568.77 63.76,569.42 63.47,569.98 63.05,570.45 62.51,570.75 61.86,570.80 61.17,570.64 60.51,570.33 59.92,569.94 59.41,569.53 58.98,569.13 58.62,568.75 58.32,568.41 58.06,568.10 57.83,567.80 57.64,567.53 57.46,567.27 57.31,567.03 57.17,566.80 57.05,566.58 56.93,566.36 56.82,566.15 56.71,565.95 56.61,565.75 56.51,565.54 56.41,565.33 56.31,565.11 56.21,564.88 56.10,564.64 55.99,564.38 55.88,564.09 55.76,563.77 55.62,563.42 55.48,563.01 55.34,562.54 55.18,561.98 55.02,561.32 54.86,560.51 54.70,559.54 54.59,558.37 54.65,557.13 55.01,556.13 55.67,555.53 56.56,555.61 57.48,556.10 58.29,556.75 58.98,557.49 59.55,558.22 60.00,558.88 60.37,559.47 60.68,559.98 60.94,560.44 61.17,560.85 61.37,561.23 61.55,561.58 61.72,561.91 61.87,562.22 62.01,562.52 62.14,562.82 62.27,563.11 62.39,563.40 62.51,563.69 62.64,564.00 62.76,564.31" fill="#57ebd6"/>
<polygon points="62.56,564.64 62.68,564.96 62.81,565.31 62.94,565.70 63.08,566.13 63.22,566.62 63.36,567.17 63.47,567.78 63.49,568.42 63.36,569.02 63.09,569.54 62.71,569.96 62.22,570.24 61.62,570.29 60.98,570.14 60.38,569.86 59.84,569.50 59.38,569.12 58.98,568.75 58.65,568.41 58.37,568.10 58.13,567.81 57.93,567.54 57.75,567.29 57.59,567.05 57.45,566.83 57.32,566.62 57.21,566.41 57.10,566.22 57.00,566.03 56.90,565.84 56.81,565.65 56.72,565.46 56.63,565.27 56.53,565.07 56.44,564.86 56.34,564.64 56.24,564.40 56.14,564.14 56.02,563.85 55.90,563.52 55.78,563.14 55.64,562.71 55.50,562.20 55.35,561.59 55.20,560.86 55.06,559.96 54.96,558.89 55.01,557.76 55.34,556.84 55.94,556.29 56.77,556.36 57.60,556.82 58.35,557.41 58.98,558.08 59.50,558.75 59.91,559.36 60.25,559.90 60.54,560.37 60.78,560.79 60.99,561.17 61.17,561.51 61.34,561.83 61.49,562.13 61.63,562.42 61.75,562.70 61.88,562.97 61.99,563.24 62.11,563.50 62.22,563.77 62.33,564.05 62.45,564.34" fill="#55ead5"/>
<polygon points="62.24,564.64 62.35,564.93 62.46,565.25 62.58,565.60 62.70,565.99 62.84,566.44 62.97,566.94 63.07,567.50 63.08,568.08 62.96,568.62 62.72,569.09 62.37,569.48 61.92,569.73 61.38,569.77 60.80,569.64 60.25,569.39 59.76,569.06 59.34,568.71 58.98,568.38 58.68,568.07 58.43,567.78 58.21,567.52 58.02,567.28 57.86,567.05 57.72,566.83 57.59,566.63 57.48,566.44 57.37,566.25 57.27,566.08 57.18,565.90 57.09,565.73 57.01,565.56 56.92,565.39 56.84,565.21 56.76,565.03 56.67,564.84 56.58,564.64 56.49,564.42 56.40,564.18 56.29,563.92 56.18,563.62 56.07,563.28 55.95,562.89 55.82,562.42 55.68,561.87 55.55,561.20 55.42,560.39 55.33,559.42 55.37,558.38 55.68,557.55 56.22,557.05 56.97,557.12 57.73,557.53 58.41,558.07 58.98,558.68 59.45,559.29 59.83,559.84 60.14,560.33 60.40,560.76 60.62,561.14 60.81,561.48 60.97,561.80 61.12,562.09 61.26,562.36 61.39,562.62 61.50,562.88 61.61,563.12 61.72,563.36 61.82,563.61 61.93,563.85 62.03,564.10 62.13,564.36" fill="#52ead5"/>
<polygon points="61.91,564.64 62.01,564.90 62.11,565.19 62.22,565.51 62.33,565.86 62.45,566.26 62.57,566.71 62.66,567.21 62.67,567.74 62.57,568.22 62.35,568.65 62.03,569.00 61.63,569.22 61.14,569.26 60.62,569.14 60.13,568.91 59.68,568.62 59.30,568.30 58.98,568.01 58.71,567.73 58.48,567.47 58.29,567.23 58.12,567.01 57.97,566.81 57.84,566.61 57.73,566.43 57.63,566.26 57.53,566.09 57.44,565.93 57.36,565.78 57.28,565.62 57.20,565.47 57.13,565.31 57.05,565.16 56.98,564.99 56.90,564.82 56.82,564.64 56.74,564.44 56.65,564.23 56.56,563.99 56.46,563.72 56.36,563.42 56.25,563.06 56.13,562.64 56.01,562.15 55.89,561.55 55.77,560.81 55.69,559.94 55.73,559.01 56.01,558.26 56.50,557.81 57.17,557.87 57.85,558.24 58.47,558.73 58.98,559.27 59.40,559.82 59.74,560.32 60.02,560.76 60.26,561.15 60.45,561.49 60.62,561.80 60.78,562.08 60.91,562.34 61.03,562.59 61.15,562.83 61.25,563.05 61.35,563.27 61.45,563.49 61.54,563.71 61.63,563.93 61.72,564.16 61.82,564.39" fill="#50e9d4"/>
<polygon points="61.59,564.64 61.67,564.87 61.76,565.13 61.86,565.41 61.96,565.72 62.07,566.08 62.17,566.48 62.25,566.93 62.26,567.39 62.17,567.82 61.97,568.20 61.69,568.51 61.33,568.71 60.90,568.75 60.44,568.64 60.00,568.44 59.61,568.17 59.27,567.90 58.98,567.63 58.74,567.38 58.54,567.16 58.37,566.94 58.22,566.75 58.09,566.57 57.97,566.39 57.87,566.23 57.78,566.08 57.69,565.93 57.61,565.79 57.54,565.65 57.47,565.51 57.40,565.38 57.34,565.24 57.27,565.10 57.20,564.95 57.13,564.80 57.06,564.64 56.99,564.47 56.91,564.27 56.83,564.06 56.74,563.82 56.65,563.55 56.55,563.24 56.45,562.87 56.34,562.42 56.23,561.89 56.13,561.24 56.06,560.46 56.09,559.63 56.34,558.96 56.77,558.56 57.37,558.62 57.98,558.95 58.52,559.38 58.98,559.87 59.36,560.36 59.66,560.80 59.91,561.19 60.11,561.53 60.29,561.84 60.44,562.11 60.58,562.36 60.70,562.60 60.81,562.82 60.91,563.03 61.00,563.23 61.09,563.43 61.17,563.62 61.25,563.81 61.34,564.01 61.42,564.21 61.50,564.42" fill="#4de9d3"/>
<polygon points="61.26,564.64 61.34,564.85 61.42,565.07 61.50,565.31 61.59,565.59 61.68,565.90 61.77,566.25 61.84,566.64 61.85,567.05 61.77,567.43 61.60,567.76 61.36,568.03 61.04,568.20 60.66,568.23 60.26,568.14 59.87,567.96 59.53,567.73 59.23,567.49 58.98,567.26 58.77,567.04 58.60,566.84 58.44,566.66 58.31,566.48 58.20,566.33 58.10,566.17 58.01,566.03 57.93,565.90 57.85,565.77 57.79,565.65 57.72,565.52 57.66,565.40 57.60,565.28 57.54,565.16 57.48,565.04 57.42,564.91 57.37,564.78 57.30,564.64 57.24,564.49 57.17,564.32 57.10,564.14 57.02,563.93 56.94,563.69 56.86,563.41 56.77,563.09 56.67,562.70 56.58,562.23 56.49,561.66 56.42,560.98 56.45,560.26 56.67,559.67 57.05,559.32 57.57,559.37 58.11,559.66 58.58,560.04 58.98,560.47 59.31,560.89 59.58,561.28 59.79,561.62 59.97,561.92 60.13,562.19 60.26,562.43 60.38,562.65 60.48,562.85 60.58,563.05 60.66,563.23 60.75,563.41 60.82,563.58 60.90,563.75 60.97,563.92 61.04,564.09 61.11,564.26 61.19,564.45" fill="#4be8d2"/>
<polygon points="60.94,564.64 61.00,564.82 61.07,565.01 61.14,565.22 61.22,565.45 61.30,565.72 61.37,566.02 61.43,566.35 61.44,566.70 61.37,567.03 61.23,567.31 61.02,567.54 60.75,567.69 60.42,567.72 60.07,567.64 59.75,567.49 59.45,567.29 59.20,567.08 58.98,566.88 58.80,566.70 58.65,566.53 58.52,566.37 58.41,566.22 58.31,566.08 58.22,565.96 58.15,565.83 58.08,565.72 58.02,565.61 57.96,565.50 57.90,565.40 57.85,565.29 57.80,565.19 57.75,565.09 57.70,564.98 57.65,564.88 57.60,564.76 57.54,564.64 57.49,564.51 57.43,564.37 57.37,564.21 57.30,564.03 57.23,563.82 57.16,563.59 57.08,563.31 57.00,562.98 56.92,562.58 56.84,562.09 56.79,561.50 56.82,560.89 57.00,560.38 57.32,560.08 57.77,560.12 58.23,560.37 58.64,560.70 58.98,561.06 59.26,561.43 59.49,561.76 59.68,562.05 59.83,562.31 59.96,562.54 60.08,562.74 60.18,562.93 60.27,563.11 60.35,563.27 60.42,563.43 60.49,563.58 60.56,563.73 60.62,563.87 60.69,564.02 60.75,564.17 60.81,564.32 60.87,564.47" fill="#49e7d1"/>
<polygon points="60.61,564.64 60.66,564.79 60.72,564.95 60.78,565.12 60.84,565.32 60.91,565.54 60.97,565.79 61.02,566.07 61.03,566.36 60.97,566.63 60.85,566.87 60.68,567.06 60.45,567.19 60.18,567.21 59.89,567.14 59.62,567.01 59.37,566.85 59.16,566.68 58.98,566.51 58.83,566.35 58.71,566.21 58.60,566.08 58.50,565.96 58.42,565.84 58.35,565.74 58.29,565.63 58.23,565.54 58.18,565.45 58.13,565.36 58.08,565.27 58.04,565.19 57.99,565.10 57.95,565.01 57.91,564.93 57.87,564.84 57.83,564.74 57.78,564.64 57.74,564.53 57.69,564.41 57.64,564.28 57.58,564.13 57.53,563.96 57.46,563.76 57.40,563.53 57.33,563.25 57.26,562.92 57.20,562.51 57.15,562.03 57.18,561.51 57.33,561.09 57.60,560.84 57.98,560.88 58.36,561.08 58.70,561.35 58.98,561.66 59.22,561.96 59.41,562.24 59.56,562.48 59.69,562.70 59.80,562.89 59.89,563.06 59.98,563.22 60.05,563.36 60.12,563.50 60.18,563.63 60.24,563.76 60.30,563.88 60.35,564.00 60.40,564.12 60.45,564.25 60.51,564.37 60.56,564.50" fill="#46e7d0"/>
<polygon points="60.28,564.64 60.33,564.76 60.37,564.88 60.42,565.02 60.47,565.18 60.52,565.36 60.58,565.56 60.62,565.78 60.62,566.02 60.58,566.23 60.48,566.42 60.34,566.58 60.16,566.68 59.94,566.69 59.71,566.64 59.49,566.54 59.29,566.41 59.13,566.27 58.98,566.14 58.86,566.01 58.76,565.90 58.67,565.79 58.60,565.69 58.53,565.60 58.48,565.52 58.43,565.44 58.38,565.36 58.34,565.28 58.30,565.21 58.26,565.14 58.23,565.08 58.19,565.01 58.16,564.94 58.13,564.87 58.09,564.80 58.06,564.72 58.02,564.64 57.99,564.55 57.95,564.46 57.91,564.35 57.86,564.23 57.82,564.10 57.77,563.94 57.72,563.75 57.66,563.53 57.61,563.26 57.56,562.94 57.52,562.55 57.54,562.14 57.66,561.80 57.88,561.60 58.18,561.63 58.48,561.79 58.75,562.01 58.98,562.25 59.17,562.50 59.32,562.72 59.45,562.92 59.55,563.09 59.64,563.24 59.71,563.38 59.78,563.50 59.84,563.62 59.89,563.73 59.94,563.83 59.99,563.93 60.03,564.03 60.08,564.13 60.12,564.23 60.16,564.32 60.20,564.42 60.24,564.53" fill="#44e6cf"/>
<polygon points="59.96,564.64 59.99,564.73 60.03,564.82 60.06,564.93 60.10,565.05 60.14,565.18 60.18,565.33 60.21,565.50 60.21,565.67 60.18,565.83 60.10,565.98 60.00,566.09 59.87,566.17 59.70,566.18 59.53,566.14 59.36,566.06 59.22,565.97 59.09,565.86 58.98,565.76 58.89,565.67 58.82,565.58 58.75,565.50 58.70,565.43 58.65,565.36 58.60,565.30 58.57,565.24 58.53,565.18 58.50,565.12 58.47,565.07 58.44,565.02 58.42,564.97 58.39,564.92 58.37,564.86 58.34,564.81 58.32,564.76 58.29,564.70 58.26,564.64 58.24,564.57 58.21,564.50 58.18,564.42 58.14,564.33 58.11,564.23 58.07,564.11 58.03,563.97 57.99,563.81 57.95,563.61 57.91,563.36 57.89,563.07 57.90,562.76 57.99,562.51 58.15,562.36 58.38,562.38 58.61,562.51 58.81,562.67 58.98,562.85 59.12,563.03 59.24,563.20 59.33,563.35 59.41,563.47 59.47,563.59 59.53,563.69 59.58,563.79 59.63,563.87 59.67,563.96 59.70,564.03 59.74,564.11 59.77,564.18 59.80,564.26 59.84,564.33 59.87,564.40 59.90,564.48 59.93,564.56" fill="#41e6cf"/>
<polygon points="59.63,564.64 59.66,564.70 59.68,564.76 59.70,564.83 59.73,564.91 59.75,565.00 59.78,565.10 59.80,565.21 59.80,565.33 59.78,565.44 59.73,565.53 59.66,565.61 59.57,565.66 59.46,565.67 59.35,565.64 59.24,565.59 59.14,565.52 59.05,565.45 58.98,565.39 58.92,565.33 58.87,565.27 58.83,565.22 58.79,565.17 58.76,565.12 58.73,565.08 58.70,565.04 58.68,565.00 58.66,564.96 58.64,564.93 58.62,564.89 58.61,564.86 58.59,564.82 58.57,564.79 58.55,564.75 58.54,564.72 58.52,564.68 58.50,564.64 58.49,564.60 58.47,564.55 58.45,564.50 58.42,564.44 58.40,564.37 58.38,564.29 58.35,564.20 58.32,564.09 58.30,563.95 58.27,563.79 58.25,563.59 58.26,563.39 58.32,563.22 58.43,563.12 58.58,563.13 58.73,563.22 58.87,563.33 58.98,563.45 59.08,563.57 59.15,563.68 59.21,563.78 59.27,563.86 59.31,563.94 59.35,564.01 59.38,564.07 59.41,564.13 59.44,564.18 59.46,564.24 59.49,564.29 59.51,564.34 59.53,564.38 59.55,564.43 59.57,564.48 59.59,564.53 59.61,564.58" fill="#3fe5ce"/>
<polygon points="59.31,564.64 59.32,564.67 59.33,564.70 59.34,564.74 59.36,564.78 59.37,564.82 59.38,564.87 59.39,564.93 59.39,564.98 59.38,565.04 59.36,565.08 59.32,565.12 59.28,565.15 59.22,565.15 59.17,565.14 59.11,565.11 59.06,565.08 59.02,565.05 58.98,565.01 58.95,564.98 58.93,564.95 58.91,564.93 58.89,564.90 58.87,564.88 58.86,564.86 58.84,564.84 58.83,564.82 58.82,564.80 58.81,564.78 58.80,564.77 58.79,564.75 58.79,564.73 58.78,564.71 58.77,564.70 58.76,564.68 58.75,564.66 58.74,564.64 58.73,564.62 58.72,564.59 58.71,564.57 58.70,564.54 58.69,564.50 58.68,564.46 58.67,564.42 58.65,564.36 58.64,564.30 58.63,564.21 58.62,564.12 58.62,564.01 58.65,563.93 58.71,563.88 58.78,563.89 58.86,563.93 58.93,563.98 58.98,564.04 59.03,564.10 59.07,564.16 59.10,564.21 59.12,564.25 59.15,564.29 59.17,564.32 59.18,564.36 59.20,564.38 59.21,564.41 59.22,564.44 59.24,564.46 59.25,564.49 59.26,564.51 59.27,564.54 59.28,564.56 59.29,564.59 59.30,564.61" fill="#3ce5cd"/>
<path d="M52.87,540.58C53.64,540.52 54.72,540.84 55.55,541.73C56.37,542.62 57.07,544.21 57.84,545.93C58.60,547.65 59.24,550.00 60.13,552.04C61.02,554.07 61.97,556.11 63.18,558.15C64.39,560.18 65.98,562.35 67.38,564.26C68.78,566.17 70.57,568.01 71.58,569.60C72.60,571.19 73.37,572.53 73.49,573.80C73.62,575.08 73.11,576.44 72.35,577.24C71.58,578.04 70.25,578.49 68.91,578.62C67.58,578.74 65.86,578.55 64.33,578.00C62.80,577.46 61.15,576.48 59.75,575.33C58.35,574.19 57.01,572.72 55.93,571.13C54.85,569.54 54.02,567.82 53.26,565.79C52.49,563.75 51.82,561.20 51.35,558.91C50.88,556.62 50.62,554.20 50.43,552.04C50.24,549.87 50.11,547.58 50.20,545.93C50.29,544.27 50.52,543.00 50.96,542.11C51.41,541.22 52.11,540.65 52.87,540.58Z" fill="none" stroke="#000" stroke-width="1.0"/>
</g>
<path d="M55.55,553.95C56.31,554.01 57.58,554.77 58.60,555.86C59.62,556.94 60.77,558.78 61.66,560.44C62.55,562.09 63.44,564.26 63.95,565.79C64.46,567.31 64.84,568.61 64.71,569.60C64.58,570.60 63.88,571.49 63.18,571.74C62.48,572.00 61.47,571.74 60.51,571.13C59.56,570.52 58.35,569.35 57.46,568.08C56.56,566.80 55.74,565.02 55.16,563.49C54.59,561.97 54.21,560.25 54.02,558.91C53.83,557.58 53.76,556.30 54.02,555.47C54.27,554.65 54.78,553.88 55.55,553.95Z" fill="none" stroke="#000" stroke-width="1.0"/>
<path d="M55.00,564.50H62.00M58.50,561.20V567.80" stroke="#000" stroke-width="1" fill="none"/>
<rect x="42.10" y="516.50" width="96.75" height="74.50" fill="none" stroke="#000" stroke-width="1"/>
<path d="M45.45,591.00v6.6M67.89,591.00v6.6M90.32,591.00v6.6M112.76,591.00v6.6M135.20,591.00v6.6M42.10,588.50h-6.8M42.10,572.50h-6.8M42.10,556.50h-6.8M42.10,540.50h-6.8M42.10,524.50h-6.8" stroke="#000" stroke-width="1" fill="none"/>
<text class="a" x="45.45" y="613.80">0.00</text>
<text class="a" x="90.32" y="613.80">0.04</text>
<text class="a" x="135.20" y="613.80">0.08</text>
<text class="a" transform="translate(27.10,588.50) rotate(-90)">0</text>
<text class="a" transform="translate(27.10,556.50) rotate(-90)">100</text>
<text class="a" transform="translate(27.10,524.50) rotate(-90)">200</text>
<text class="p" x="90.32" y="626.80">π</text>
<g transform="translate(6.90,562.45) rotate(-90)">
<text class="g" x="0" y="0">γ</text><path d="M0.1,-6.2h4.6" stroke="#000" stroke-width="1"/>
<text class="s" x="4.60" y="2.60">dn</text><text class="ss" x="13.40" y="3.90">1</text>
</g>
<text class="t" x="90.47" y="487.20">MiD de novo</text>
<text class="t" x="90.47" y="503.20">(EPI)</text>
</g>
<g>
<g>
<path d="M211.58,529.69C212.56,529.40 214.05,530.39 215.14,531.71C216.22,533.04 217.11,535.37 218.10,537.64C219.09,539.92 220.08,542.79 221.07,545.36C222.06,547.93 222.95,550.50 224.03,553.07C225.12,555.64 226.51,558.41 227.59,560.78C228.68,563.15 229.87,565.43 230.56,567.31C231.25,569.18 231.84,570.67 231.75,572.05C231.65,573.44 231.05,574.82 229.97,575.61C228.88,576.40 226.90,576.74 225.22,576.80C223.54,576.86 221.56,576.56 219.88,575.97C218.20,575.37 216.46,574.48 215.14,573.24C213.81,571.99 212.82,570.37 211.93,568.49C211.04,566.61 210.35,564.24 209.80,561.97C209.24,559.69 208.91,557.32 208.61,554.85C208.31,552.38 208.06,549.71 208.02,547.14C207.98,544.56 208.18,541.70 208.37,539.42C208.57,537.15 208.67,535.11 209.20,533.49C209.74,531.87 210.59,529.99 211.58,529.69Z" fill="#d4f8fb"/>
<polygon points="226.94,560.19 227.35,561.08 227.81,562.07 228.33,563.18 228.94,564.48 229.61,566.00 230.29,567.77 230.95,569.85 231.09,571.89 230.57,573.61 229.52,574.93 228.01,575.69 226.33,576.08 224.63,576.23 222.97,576.16 221.36,575.90 219.85,575.47 218.44,574.90 217.15,574.22 215.99,573.44 214.97,572.54 214.11,571.54 213.39,570.51 212.80,569.51 212.31,568.57 211.90,567.69 211.56,566.85 211.27,566.07 211.02,565.33 210.80,564.63 210.60,563.97 210.43,563.32 210.26,562.70 210.10,562.08 209.95,561.46 209.81,560.83 209.68,560.19 209.55,559.52 209.43,558.83 209.31,558.09 209.20,557.29 209.08,556.42 208.95,555.45 208.82,554.35 208.68,553.08 208.54,551.57 208.41,549.77 208.32,547.58 208.35,544.94 208.53,541.70 208.90,537.52 209.94,533.25 211.98,530.83 214.71,532.28 217.15,536.38 218.88,540.46 220.08,543.61 220.96,545.96 221.66,547.80 222.23,549.31 222.71,550.57 223.13,551.65 223.51,552.61 223.87,553.47 224.21,554.26 224.54,555.01 224.87,555.73 225.20,556.44 225.52,557.14 225.86,557.85 226.20,558.59 226.56,559.36" fill="#d1f8fb"/>
<polygon points="226.57,560.19 226.96,561.04 227.39,561.99 227.89,563.06 228.45,564.30 229.08,565.75 229.72,567.44 230.34,569.42 230.48,571.37 229.99,573.03 229.01,574.31 227.58,575.08 225.98,575.48 224.37,575.66 222.77,575.61 221.22,575.37 219.76,574.96 218.40,574.40 217.15,573.73 216.04,572.96 215.06,572.08 214.23,571.11 213.54,570.12 212.97,569.15 212.50,568.24 212.10,567.40 211.77,566.60 211.50,565.84 211.25,565.14 211.04,564.47 210.85,563.82 210.68,563.21 210.51,562.60 210.36,562.01 210.21,561.41 210.08,560.81 209.95,560.19 209.83,559.55 209.71,558.87 209.59,558.16 209.48,557.39 209.36,556.55 209.24,555.62 209.11,554.56 208.98,553.33 208.84,551.88 208.71,550.13 208.63,548.01 208.65,545.46 208.83,542.33 209.20,538.33 210.21,534.26 212.18,532.00 214.81,533.43 217.15,537.32 218.81,541.21 219.97,544.22 220.83,546.47 221.50,548.24 222.05,549.69 222.51,550.91 222.92,551.95 223.29,552.87 223.63,553.71 223.96,554.47 224.28,555.19 224.59,555.89 224.90,556.57 225.22,557.25 225.54,557.94 225.87,558.65 226.21,559.39" fill="#cef7fa"/>
<polygon points="226.20,560.19 226.56,561.01 226.97,561.92 227.44,562.94 227.97,564.12 228.56,565.51 229.15,567.12 229.73,569.00 229.86,570.85 229.41,572.44 228.49,573.69 227.15,574.46 225.64,574.89 224.10,575.08 222.57,575.06 221.08,574.84 219.67,574.45 218.35,573.90 217.15,573.24 216.08,572.48 215.14,571.62 214.34,570.68 213.68,569.72 213.14,568.79 212.69,567.92 212.31,567.11 211.99,566.34 211.72,565.62 211.49,564.94 211.28,564.30 211.10,563.68 210.93,563.09 210.77,562.51 210.62,561.94 210.48,561.36 210.35,560.78 210.22,560.19 210.10,559.57 209.99,558.92 209.87,558.24 209.76,557.50 209.65,556.69 209.53,555.79 209.41,554.76 209.28,553.58 209.14,552.18 209.02,550.49 208.93,548.45 208.95,545.98 209.12,542.96 209.49,539.14 210.48,535.27 212.39,533.18 214.91,534.58 217.15,538.27 218.75,541.96 219.86,544.83 220.69,546.99 221.34,548.68 221.87,550.07 222.32,551.24 222.71,552.25 223.07,553.14 223.40,553.94 223.71,554.68 224.02,555.38 224.32,556.05 224.61,556.71 224.91,557.36 225.22,558.03 225.53,558.71 225.85,559.43" fill="#caf6f9"/>
<polygon points="225.82,560.19 226.17,560.97 226.55,561.84 226.99,562.82 227.48,563.95 228.04,565.26 228.59,566.79 229.13,568.57 229.25,570.34 228.83,571.86 227.97,573.07 226.71,573.84 225.30,574.29 223.83,574.51 222.37,574.51 220.94,574.32 219.58,573.94 218.31,573.40 217.15,572.75 216.12,572.00 215.22,571.16 214.46,570.25 213.83,569.33 213.31,568.43 212.87,567.60 212.51,566.82 212.21,566.08 211.95,565.39 211.72,564.74 211.52,564.13 211.34,563.54 211.18,562.97 211.02,562.42 210.88,561.87 210.74,561.32 210.61,560.76 210.49,560.19 210.37,559.59 210.26,558.97 210.15,558.31 210.04,557.60 209.93,556.82 209.82,555.95 209.70,554.97 209.57,553.83 209.45,552.48 209.32,550.86 209.24,548.88 209.25,546.50 209.41,543.59 209.79,539.95 210.75,536.28 212.60,534.35 215.01,535.72 217.15,539.21 218.68,542.71 219.75,545.44 220.55,547.50 221.18,549.12 221.69,550.46 222.12,551.58 222.50,552.55 222.84,553.40 223.16,554.18 223.47,554.89 223.76,555.56 224.04,556.21 224.32,556.84 224.61,557.47 224.89,558.11 225.19,558.77 225.50,559.46" fill="#c6f6f9"/>
<polygon points="225.45,560.19 225.77,560.94 226.13,561.77 226.54,562.70 227.00,563.77 227.51,565.02 228.02,566.46 228.52,568.15 228.63,569.82 228.25,571.28 227.45,572.46 226.28,573.22 224.95,573.70 223.56,573.94 222.17,573.96 220.80,573.79 219.49,573.43 218.26,572.90 217.15,572.25 216.16,571.51 215.30,570.70 214.57,569.82 213.97,568.93 213.47,568.07 213.06,567.27 212.71,566.53 212.42,565.83 212.17,565.17 211.95,564.55 211.76,563.96 211.59,563.40 211.43,562.86 211.28,562.32 211.14,561.80 211.01,561.27 210.88,560.74 210.76,560.19 210.65,559.62 210.54,559.02 210.43,558.39 210.32,557.70 210.22,556.95 210.11,556.12 209.99,555.17 209.87,554.08 209.75,552.78 209.63,551.22 209.54,549.32 209.55,547.02 209.71,544.22 210.08,540.76 211.02,537.28 212.80,535.52 215.11,536.87 217.15,540.16 218.62,543.46 219.65,546.05 220.41,548.01 221.02,549.56 221.51,550.84 221.93,551.92 222.29,552.85 222.62,553.67 222.93,554.41 223.22,555.10 223.49,555.75 223.77,556.37 224.03,556.98 224.30,557.58 224.57,558.20 224.85,558.83 225.14,559.49" fill="#c2f5f8"/>
<polygon points="225.07,560.19 225.37,560.91 225.71,561.69 226.09,562.58 226.51,563.59 226.99,564.77 227.46,566.14 227.91,567.72 228.02,569.30 227.67,570.70 226.93,571.84 225.85,572.61 224.61,573.10 223.30,573.36 221.96,573.41 220.66,573.26 219.40,572.92 218.22,572.40 217.15,571.76 216.20,571.03 215.38,570.23 214.69,569.38 214.11,568.53 213.64,567.71 213.25,566.95 212.92,566.24 212.64,565.57 212.40,564.94 212.19,564.35 212.00,563.79 211.83,563.26 211.68,562.74 211.54,562.23 211.40,561.73 211.27,561.22 211.15,560.71 211.03,560.19 210.92,559.64 210.81,559.07 210.71,558.46 210.61,557.80 210.50,557.09 210.40,556.29 210.28,555.38 210.17,554.33 210.05,553.08 209.94,551.59 209.85,549.76 209.85,547.54 210.00,544.85 210.38,541.57 211.29,538.29 213.01,536.70 215.21,538.02 217.15,541.11 218.55,544.21 219.54,546.66 220.28,548.53 220.86,550.01 221.33,551.23 221.73,552.25 222.08,553.15 222.40,553.93 222.69,554.65 222.97,555.31 223.23,555.93 223.49,556.53 223.74,557.11 224.00,557.70 224.25,558.28 224.52,558.89 224.79,559.52" fill="#bef5f8"/>
<polygon points="224.70,560.19 224.98,560.87 225.29,561.62 225.64,562.46 226.03,563.42 226.46,564.53 226.89,565.81 227.30,567.29 227.40,568.79 227.08,570.12 226.41,571.22 225.42,571.99 224.26,572.50 223.03,572.79 221.76,572.86 220.51,572.73 219.31,572.41 218.18,571.90 217.15,571.27 216.25,570.55 215.46,569.77 214.80,568.95 214.26,568.14 213.81,567.35 213.44,566.62 213.12,565.95 212.85,565.31 212.62,564.72 212.42,564.16 212.24,563.62 212.08,563.12 211.93,562.62 211.79,562.14 211.66,561.66 211.53,561.18 211.41,560.69 211.30,560.19 211.19,559.67 211.09,559.12 210.99,558.53 210.89,557.91 210.79,557.22 210.68,556.45 210.58,555.58 210.47,554.58 210.35,553.39 210.24,551.95 210.16,550.19 210.15,548.06 210.29,545.48 210.67,542.38 211.56,539.30 213.22,537.87 215.31,539.17 217.15,542.05 218.48,544.96 219.43,547.27 220.14,549.04 220.70,550.45 221.15,551.61 221.54,552.59 221.87,553.44 222.18,554.20 222.46,554.88 222.72,555.52 222.97,556.11 223.21,556.69 223.45,557.25 223.69,557.81 223.93,558.37 224.18,558.95 224.43,559.55" fill="#baf4f7"/>
<polygon points="224.32,560.19 224.58,560.84 224.87,561.55 225.19,562.34 225.54,563.24 225.94,564.28 226.33,565.48 226.70,566.87 226.79,568.27 226.50,569.54 225.89,570.60 224.99,571.37 223.92,571.91 222.76,572.22 221.56,572.31 220.37,572.21 219.22,571.90 218.13,571.40 217.15,570.77 216.29,570.07 215.54,569.31 214.92,568.52 214.40,567.74 213.98,566.99 213.62,566.30 213.32,565.66 213.07,565.06 212.85,564.49 212.65,563.96 212.48,563.46 212.33,562.97 212.18,562.50 212.05,562.04 211.92,561.59 211.80,561.13 211.68,560.67 211.57,560.19 211.47,559.69 211.37,559.17 211.27,558.61 211.17,558.01 211.07,557.35 210.97,556.62 210.87,555.79 210.76,554.82 210.65,553.69 210.55,552.31 210.46,550.63 210.45,548.58 210.59,546.11 210.97,543.19 211.83,540.31 213.42,539.04 215.41,540.32 217.15,543.00 218.42,545.71 219.32,547.88 220.00,549.55 220.54,550.89 220.97,551.99 221.34,552.93 221.66,553.74 221.95,554.46 222.22,555.12 222.47,555.73 222.71,556.30 222.94,556.85 223.16,557.38 223.39,557.92 223.61,558.46 223.84,559.01 224.08,559.58" fill="#b6f3f6"/>
<polygon points="223.95,560.19 224.19,560.80 224.45,561.47 224.74,562.22 225.06,563.06 225.41,564.04 225.76,565.16 226.09,566.44 226.17,567.76 225.92,568.96 225.37,569.98 224.55,570.76 223.57,571.31 222.50,571.64 221.36,571.76 220.23,571.68 219.13,571.39 218.09,570.90 217.15,570.28 216.33,569.59 215.62,568.85 215.03,568.09 214.55,567.34 214.15,566.63 213.81,565.98 213.52,565.37 213.28,564.80 213.07,564.27 212.89,563.77 212.72,563.29 212.57,562.83 212.43,562.39 212.30,561.95 212.18,561.52 212.06,561.08 211.95,560.64 211.84,560.19 211.74,559.71 211.64,559.22 211.55,558.68 211.45,558.11 211.36,557.48 211.26,556.79 211.16,555.99 211.06,555.07 210.96,553.99 210.85,552.68 210.77,551.07 210.75,549.10 210.88,546.74 211.26,544.00 212.10,541.32 213.63,540.22 215.51,541.46 217.15,543.94 218.35,546.46 219.22,548.49 219.86,550.07 220.38,551.33 220.79,552.38 221.15,553.27 221.46,554.04 221.73,554.73 221.98,555.36 222.22,555.93 222.44,556.48 222.66,557.01 222.87,557.52 223.08,558.03 223.29,558.54 223.50,559.07 223.72,559.61" fill="#b1f3f6"/>
<polygon points="223.58,560.19 223.79,560.77 224.03,561.40 224.29,562.10 224.57,562.89 224.89,563.79 225.20,564.83 225.48,566.02 225.56,567.24 225.34,568.37 224.85,569.36 224.12,570.14 223.23,570.71 222.23,571.07 221.16,571.21 220.09,571.15 219.04,570.88 218.05,570.40 217.15,569.79 216.37,569.11 215.71,568.39 215.15,567.66 214.69,566.95 214.31,566.27 214.00,565.65 213.73,565.08 213.50,564.54 213.30,564.04 213.12,563.57 212.96,563.12 212.82,562.69 212.68,562.27 212.56,561.86 212.44,561.45 212.32,561.04 212.22,560.62 212.11,560.19 212.01,559.74 211.92,559.26 211.83,558.76 211.74,558.21 211.64,557.62 211.55,556.95 211.46,556.20 211.36,555.32 211.26,554.29 211.16,553.04 211.07,551.50 211.05,549.62 211.18,547.37 211.55,544.81 212.37,542.32 213.84,541.39 215.61,542.61 217.15,544.89 218.29,547.21 219.11,549.10 219.73,550.58 220.22,551.77 220.62,552.76 220.95,553.60 221.25,554.34 221.51,555.00 221.75,555.59 221.97,556.14 222.18,556.67 222.38,557.17 222.58,557.66 222.78,558.14 222.97,558.63 223.17,559.13 223.37,559.64" fill="#adf2f5"/>
<polygon points="223.20,560.19 223.40,560.73 223.61,561.32 223.84,561.98 224.09,562.71 224.36,563.55 224.63,564.50 224.87,565.59 224.94,566.72 224.76,567.79 224.33,568.75 223.69,569.52 222.89,570.12 221.96,570.50 220.96,570.66 219.95,570.62 218.95,570.37 218.00,569.90 217.15,569.30 216.41,568.63 215.79,567.93 215.27,567.23 214.84,566.55 214.48,565.91 214.18,565.33 213.93,564.79 213.71,564.29 213.52,563.82 213.35,563.37 213.20,562.95 213.06,562.55 212.93,562.15 212.81,561.77 212.70,561.38 212.59,560.99 212.48,560.59 212.38,560.19 212.29,559.76 212.20,559.31 212.11,558.83 212.02,558.32 211.93,557.75 211.84,557.12 211.75,556.40 211.65,555.57 211.56,554.59 211.46,553.41 211.38,551.94 211.35,550.14 211.47,548.00 211.85,545.62 212.64,543.33 214.04,542.56 215.72,543.76 217.15,545.83 218.22,547.96 219.00,549.71 219.59,551.09 220.05,552.21 220.44,553.14 220.76,553.94 221.04,554.64 221.29,555.26 221.51,555.83 221.72,556.35 221.92,556.85 222.11,557.33 222.29,557.79 222.47,558.25 222.65,558.71 222.83,559.19 223.01,559.67" fill="#a8f1f4"/>
<polygon points="222.83,560.19 223.00,560.70 223.19,561.25 223.39,561.86 223.61,562.53 223.84,563.30 224.06,564.18 224.27,565.17 224.33,566.21 224.18,567.21 223.82,568.13 223.26,568.90 222.54,569.52 221.69,569.93 220.76,570.11 219.81,570.10 218.86,569.86 217.96,569.40 217.15,568.80 216.46,568.15 215.87,567.47 215.38,566.80 214.98,566.15 214.65,565.55 214.37,565.00 214.13,564.50 213.93,564.03 213.75,563.59 213.59,563.18 213.44,562.78 213.31,562.41 213.18,562.04 213.07,561.67 212.96,561.31 212.85,560.94 212.75,560.57 212.65,560.19 212.56,559.78 212.47,559.36 212.39,558.91 212.30,558.42 212.21,557.88 212.13,557.29 212.04,556.61 211.95,555.82 211.86,554.89 211.77,553.77 211.68,552.38 211.65,550.66 211.76,548.63 212.14,546.43 212.91,544.34 214.25,543.74 215.82,544.91 217.15,546.78 218.16,548.71 218.89,550.32 219.45,551.61 219.89,552.65 220.26,553.53 220.56,554.28 220.83,554.94 221.06,555.53 221.28,556.06 221.47,556.56 221.66,557.03 221.83,557.49 222.00,557.93 222.16,558.36 222.33,558.80 222.49,559.24 222.66,559.70" fill="#a3f0f3"/>
<polygon points="222.45,560.19 222.61,560.66 222.77,561.18 222.94,561.74 223.12,562.36 223.31,563.06 223.50,563.85 223.66,564.74 223.71,565.69 223.60,566.63 223.30,567.51 222.82,568.29 222.20,568.93 221.43,569.35 220.56,569.56 219.67,569.57 218.77,569.35 217.91,568.90 217.15,568.31 216.50,567.67 215.95,567.01 215.50,566.37 215.12,565.76 214.82,565.19 214.56,564.68 214.34,564.21 214.14,563.77 213.97,563.37 213.82,562.98 213.68,562.62 213.55,562.26 213.44,561.92 213.32,561.58 213.22,561.24 213.11,560.90 213.02,560.55 212.92,560.19 212.83,559.81 212.75,559.41 212.67,558.98 212.58,558.52 212.50,558.02 212.42,557.45 212.33,556.81 212.25,556.07 212.16,555.20 212.07,554.13 211.99,552.81 211.95,551.18 212.06,549.26 212.44,547.24 213.18,545.35 214.46,544.91 215.92,546.06 217.15,547.73 218.09,549.46 218.78,550.93 219.31,552.12 219.73,553.10 220.08,553.91 220.37,554.62 220.62,555.23 220.84,555.79 221.04,556.30 221.22,556.77 221.39,557.22 221.55,557.64 221.71,558.06 221.86,558.47 222.01,558.89 222.15,559.30 222.30,559.74" fill="#9ff0f3"/>
<path d="M213.95,545.95C214.70,545.75 215.93,546.94 216.92,548.32C217.90,549.71 218.99,552.18 219.88,554.25C220.77,556.33 221.72,558.90 222.25,560.78C222.79,562.66 223.18,564.24 223.08,565.53C222.99,566.81 222.39,567.94 221.66,568.49C220.93,569.05 219.68,569.24 218.69,568.85C217.71,568.45 216.62,567.46 215.73,566.12C214.84,564.77 213.91,562.66 213.36,560.78C212.80,558.90 212.56,556.73 212.41,554.85C212.25,552.97 212.15,550.99 212.41,549.51C212.66,548.03 213.20,546.15 213.95,545.95Z" fill="#5cecd8"/>
<polygon points="221.73,560.19 221.85,560.60 221.97,561.04 222.11,561.51 222.24,562.04 222.38,562.63 222.52,563.29 222.63,564.02 222.67,564.82 222.60,565.63 222.38,566.41 222.02,567.13 221.52,567.75 220.87,568.17 220.13,568.38 219.36,568.41 218.57,568.22 217.82,567.81 217.15,567.27 216.58,566.68 216.11,566.09 215.72,565.52 215.40,564.99 215.14,564.50 214.92,564.06 214.73,563.65 214.56,563.28 214.41,562.93 214.28,562.60 214.15,562.29 214.04,561.98 213.93,561.69 213.83,561.39 213.74,561.10 213.65,560.80 213.56,560.50 213.48,560.19 213.40,559.86 213.32,559.51 213.25,559.14 213.17,558.74 213.10,558.30 213.02,557.80 212.95,557.24 212.88,556.60 212.80,555.83 212.72,554.90 212.64,553.74 212.60,552.30 212.69,550.62 213.05,548.91 213.71,547.34 214.84,547.09 216.10,548.13 217.15,549.49 217.96,550.92 218.57,552.16 219.03,553.17 219.40,554.01 219.70,554.72 219.96,555.33 220.18,555.87 220.37,556.35 220.54,556.79 220.70,557.21 220.85,557.60 220.98,557.97 221.11,558.34 221.24,558.70 221.36,559.06 221.48,559.42 221.61,559.80" fill="#5aebd7"/>
<polygon points="221.37,560.19 221.49,560.57 221.60,560.97 221.72,561.41 221.85,561.90 221.98,562.44 222.11,563.05 222.21,563.73 222.25,564.46 222.18,565.21 221.97,565.93 221.64,566.60 221.18,567.17 220.59,567.55 219.91,567.75 219.19,567.78 218.46,567.60 217.77,567.22 217.15,566.73 216.63,566.18 216.19,565.64 215.83,565.11 215.54,564.62 215.29,564.17 215.09,563.76 214.91,563.39 214.76,563.04 214.62,562.72 214.50,562.41 214.38,562.12 214.28,561.85 214.18,561.57 214.09,561.30 214.00,561.03 213.92,560.76 213.84,560.48 213.76,560.19 213.69,559.88 213.62,559.56 213.55,559.22 213.48,558.85 213.41,558.44 213.34,557.99 213.27,557.47 213.20,556.87 213.13,556.17 213.06,555.31 212.99,554.24 212.95,552.91 213.04,551.36 213.36,549.78 213.98,548.33 215.02,548.10 216.18,549.06 217.15,550.32 217.90,551.63 218.46,552.77 218.89,553.71 219.23,554.49 219.51,555.14 219.74,555.70 219.95,556.20 220.12,556.65 220.28,557.06 220.43,557.44 220.56,557.80 220.69,558.14 220.81,558.48 220.93,558.81 221.04,559.15 221.15,559.48 221.26,559.83" fill="#57ebd6"/>
<polygon points="221.02,560.19 221.13,560.53 221.23,560.91 221.34,561.31 221.46,561.75 221.58,562.25 221.69,562.81 221.79,563.43 221.82,564.11 221.76,564.79 221.57,565.45 221.27,566.07 220.85,566.58 220.30,566.94 219.68,567.12 219.02,567.14 218.35,566.99 217.72,566.64 217.15,566.18 216.67,565.68 216.27,565.19 215.94,564.70 215.67,564.25 215.45,563.84 215.26,563.46 215.10,563.12 214.96,562.80 214.83,562.51 214.72,562.23 214.62,561.96 214.52,561.71 214.43,561.46 214.35,561.21 214.26,560.96 214.19,560.71 214.11,560.45 214.04,560.19 213.97,559.91 213.91,559.61 213.85,559.30 213.78,558.96 213.72,558.59 213.66,558.17 213.60,557.70 213.53,557.15 213.47,556.50 213.40,555.72 213.34,554.74 213.30,553.51 213.38,552.09 213.68,550.65 214.24,549.32 215.20,549.10 216.26,549.99 217.15,551.14 217.84,552.35 218.35,553.39 218.74,554.25 219.05,554.96 219.31,555.56 219.53,556.07 219.71,556.53 219.88,556.94 220.02,557.32 220.16,557.67 220.28,558.00 220.39,558.31 220.50,558.62 220.61,558.93 220.71,559.23 220.82,559.54 220.92,559.86" fill="#55ead5"/>
<polygon points="220.67,560.19 220.77,560.50 220.86,560.84 220.96,561.21 221.07,561.61 221.18,562.06 221.28,562.57 221.37,563.14 221.40,563.75 221.34,564.37 221.17,564.98 220.89,565.53 220.51,566.00 220.01,566.32 219.45,566.49 218.85,566.51 218.24,566.37 217.67,566.05 217.15,565.64 216.72,565.18 216.35,564.73 216.05,564.29 215.81,563.88 215.60,563.51 215.43,563.16 215.29,562.85 215.16,562.56 215.04,562.30 214.94,562.04 214.85,561.80 214.76,561.57 214.68,561.34 214.60,561.12 214.53,560.89 214.46,560.66 214.39,560.43 214.33,560.19 214.26,559.93 214.20,559.67 214.15,559.38 214.09,559.07 214.03,558.73 213.98,558.35 213.92,557.92 213.86,557.43 213.80,556.84 213.74,556.12 213.68,555.23 213.65,554.12 213.72,552.83 214.00,551.51 214.51,550.31 215.38,550.11 216.34,550.91 217.15,551.96 217.78,553.06 218.24,554.01 218.60,554.79 218.88,555.44 219.11,555.98 219.31,556.45 219.48,556.86 219.63,557.24 219.76,557.58 219.88,557.90 219.99,558.20 220.10,558.49 220.20,558.77 220.30,559.04 220.39,559.32 220.48,559.60 220.58,559.89" fill="#52ead5"/>
<polygon points="220.32,560.19 220.40,560.47 220.49,560.78 220.58,561.11 220.68,561.47 220.77,561.88 220.87,562.33 220.94,562.84 220.98,563.39 220.92,563.95 220.77,564.50 220.52,565.00 220.17,565.42 219.73,565.71 219.22,565.86 218.68,565.88 218.13,565.75 217.61,565.46 217.15,565.09 216.76,564.68 216.43,564.28 216.16,563.88 215.94,563.51 215.76,563.17 215.61,562.87 215.47,562.59 215.36,562.33 215.25,562.09 215.16,561.86 215.08,561.64 215.00,561.43 214.92,561.23 214.86,561.02 214.79,560.82 214.73,560.61 214.67,560.40 214.61,560.19 214.55,559.96 214.50,559.72 214.45,559.46 214.40,559.18 214.34,558.88 214.29,558.54 214.24,558.15 214.19,557.70 214.14,557.17 214.08,556.53 214.03,555.73 214.00,554.73 214.07,553.57 214.31,552.38 214.77,551.30 215.55,551.12 216.42,551.84 217.15,552.78 217.71,553.77 218.13,554.63 218.45,555.33 218.71,555.91 218.92,556.40 219.10,556.82 219.25,557.19 219.38,557.53 219.50,557.84 219.61,558.12 219.71,558.40 219.80,558.66 219.90,558.91 219.98,559.16 220.07,559.41 220.15,559.66 220.24,559.92" fill="#50e9d4"/>
<polygon points="219.97,560.19 220.04,560.44 220.12,560.71 220.20,561.00 220.29,561.33 220.37,561.69 220.46,562.09 220.52,562.55 220.55,563.04 220.50,563.54 220.37,564.02 220.15,564.46 219.84,564.84 219.44,565.10 218.99,565.23 218.51,565.25 218.02,565.13 217.56,564.88 217.15,564.55 216.80,564.19 216.51,563.82 216.27,563.47 216.08,563.14 215.91,562.84 215.78,562.57 215.66,562.32 215.56,562.09 215.46,561.87 215.38,561.67 215.31,561.48 215.24,561.29 215.17,561.11 215.11,560.93 215.05,560.75 215.00,560.57 214.94,560.38 214.89,560.19 214.84,559.98 214.79,559.77 214.75,559.54 214.70,559.29 214.66,559.02 214.61,558.72 214.57,558.38 214.52,557.98 214.47,557.51 214.42,556.94 214.38,556.22 214.35,555.33 214.41,554.30 214.63,553.25 215.03,552.28 215.73,552.13 216.50,552.77 217.15,553.61 217.65,554.48 218.02,555.24 218.31,555.87 218.54,556.39 218.72,556.82 218.88,557.20 219.01,557.53 219.13,557.83 219.24,558.10 219.34,558.35 219.43,558.59 219.51,558.83 219.59,559.05 219.67,559.27 219.74,559.49 219.82,559.72 219.89,559.95" fill="#4de9d3"/>
<polygon points="219.62,560.19 219.68,560.41 219.75,560.64 219.82,560.90 219.89,561.18 219.97,561.50 220.04,561.86 220.10,562.25 220.13,562.68 220.08,563.12 219.97,563.54 219.77,563.93 219.50,564.26 219.16,564.48 218.76,564.60 218.34,564.61 217.92,564.51 217.51,564.29 217.15,564.00 216.85,563.69 216.59,563.37 216.38,563.06 216.21,562.77 216.07,562.51 215.95,562.27 215.85,562.05 215.76,561.85 215.68,561.66 215.60,561.49 215.54,561.32 215.48,561.15 215.42,560.99 215.37,560.84 215.31,560.68 215.27,560.52 215.22,560.36 215.17,560.19 215.13,560.01 215.09,559.82 215.05,559.62 215.01,559.41 214.97,559.17 214.93,558.90 214.89,558.60 214.85,558.25 214.81,557.84 214.77,557.34 214.72,556.72 214.70,555.94 214.75,555.04 214.94,554.12 215.30,553.27 215.91,553.13 216.58,553.70 217.15,554.43 217.59,555.20 217.91,555.86 218.16,556.41 218.36,556.86 218.53,557.24 218.66,557.57 218.78,557.86 218.89,558.12 218.98,558.36 219.06,558.58 219.14,558.79 219.22,559.00 219.29,559.19 219.35,559.39 219.42,559.58 219.48,559.78 219.55,559.98" fill="#4be8d2"/>
<polygon points="219.26,560.19 219.32,560.38 219.38,560.58 219.44,560.80 219.50,561.04 219.57,561.31 219.63,561.62 219.68,561.96 219.70,562.32 219.66,562.70 219.56,563.06 219.40,563.39 219.17,563.68 218.87,563.87 218.53,563.97 218.17,563.98 217.81,563.90 217.46,563.70 217.15,563.46 216.89,563.19 216.67,562.91 216.49,562.65 216.35,562.40 216.22,562.18 216.12,561.97 216.03,561.79 215.96,561.61 215.89,561.45 215.82,561.30 215.77,561.16 215.72,561.02 215.67,560.88 215.62,560.74 215.58,560.61 215.53,560.47 215.50,560.33 215.46,560.19 215.42,560.03 215.38,559.87 215.35,559.70 215.31,559.52 215.28,559.31 215.25,559.09 215.21,558.83 215.18,558.53 215.14,558.18 215.11,557.75 215.07,557.21 215.05,556.55 215.09,555.77 215.26,554.98 215.56,554.26 216.09,554.14 216.67,554.62 217.15,555.25 217.53,555.91 217.81,556.48 218.02,556.95 218.19,557.34 218.33,557.66 218.45,557.94 218.55,558.19 218.64,558.42 218.72,558.62 218.79,558.81 218.86,558.99 218.92,559.17 218.98,559.33 219.04,559.50 219.10,559.67 219.15,559.83 219.21,560.01" fill="#49e7d1"/>
<polygon points="218.91,560.19 218.96,560.34 219.01,560.51 219.06,560.70 219.11,560.90 219.16,561.12 219.22,561.38 219.26,561.66 219.28,561.97 219.25,562.28 219.16,562.58 219.02,562.86 218.83,563.09 218.58,563.26 218.30,563.34 218.00,563.35 217.70,563.28 217.41,563.12 217.15,562.91 216.93,562.69 216.75,562.46 216.60,562.24 216.48,562.03 216.38,561.85 216.29,561.68 216.22,561.52 216.15,561.38 216.10,561.24 216.05,561.11 216.00,560.99 215.96,560.88 215.91,560.76 215.88,560.65 215.84,560.54 215.80,560.42 215.77,560.31 215.74,560.19 215.71,560.06 215.68,559.93 215.65,559.78 215.62,559.63 215.59,559.46 215.56,559.27 215.54,559.05 215.51,558.81 215.48,558.51 215.45,558.15 215.42,557.71 215.40,557.15 215.44,556.51 215.57,555.85 215.83,555.25 216.26,555.15 216.75,555.55 217.15,556.07 217.46,556.62 217.70,557.10 217.88,557.49 218.02,557.81 218.13,558.08 218.23,558.32 218.32,558.52 218.39,558.71 218.46,558.88 218.52,559.04 218.57,559.19 218.63,559.34 218.68,559.48 218.72,559.61 218.77,559.75 218.82,559.89 218.87,560.04" fill="#46e7d0"/>
<polygon points="218.56,560.19 218.60,560.31 218.64,560.45 218.68,560.59 218.72,560.76 218.76,560.94 218.80,561.14 218.84,561.37 218.85,561.61 218.83,561.86 218.76,562.10 218.65,562.32 218.50,562.51 218.30,562.64 218.07,562.71 217.83,562.72 217.59,562.66 217.36,562.53 217.15,562.37 216.98,562.19 216.83,562.00 216.71,561.83 216.61,561.67 216.53,561.51 216.46,561.38 216.41,561.25 216.35,561.14 216.31,561.03 216.27,560.93 216.23,560.83 216.19,560.74 216.16,560.65 216.13,560.56 216.10,560.47 216.07,560.38 216.05,560.28 216.02,560.19 216.00,560.09 215.97,559.98 215.95,559.86 215.93,559.74 215.90,559.60 215.88,559.45 215.86,559.28 215.84,559.08 215.81,558.85 215.79,558.56 215.76,558.20 215.75,557.76 215.78,557.24 215.89,556.72 216.09,556.23 216.44,556.16 216.83,556.48 217.15,556.90 217.40,557.34 217.59,557.72 217.73,558.03 217.84,558.29 217.94,558.50 218.02,558.69 218.08,558.86 218.14,559.01 218.20,559.14 218.24,559.27 218.29,559.39 218.33,559.51 218.37,559.62 218.41,559.73 218.45,559.84 218.49,559.95 218.52,560.07" fill="#44e6cf"/>
<polygon points="218.21,560.19 218.24,560.28 218.27,560.38 218.30,560.49 218.33,560.61 218.36,560.75 218.39,560.90 218.42,561.07 218.43,561.26 218.41,561.44 218.36,561.62 218.28,561.79 218.16,561.93 218.01,562.03 217.84,562.08 217.66,562.08 217.48,562.04 217.31,561.95 217.15,561.82 217.02,561.69 216.91,561.55 216.82,561.42 216.75,561.30 216.69,561.18 216.64,561.08 216.59,560.99 216.55,560.90 216.52,560.82 216.49,560.74 216.46,560.67 216.43,560.60 216.41,560.53 216.39,560.47 216.36,560.40 216.34,560.33 216.32,560.26 216.30,560.19 216.29,560.11 216.27,560.03 216.25,559.94 216.23,559.85 216.22,559.75 216.20,559.64 216.18,559.51 216.17,559.36 216.15,559.18 216.13,558.97 216.11,558.70 216.10,558.37 216.12,557.98 216.21,557.58 216.36,557.22 216.62,557.16 216.91,557.40 217.15,557.72 217.34,558.05 217.48,558.33 217.59,558.57 217.67,558.76 217.74,558.92 217.80,559.06 217.85,559.19 217.90,559.30 217.94,559.40 217.97,559.50 218.01,559.59 218.04,559.68 218.07,559.76 218.10,559.84 218.12,559.93 218.15,560.01 218.18,560.10" fill="#41e6cf"/>
<polygon points="217.86,560.19 217.88,560.25 217.89,560.32 217.91,560.39 217.94,560.47 217.96,560.56 217.98,560.66 218.00,560.78 218.00,560.90 217.99,561.02 217.96,561.14 217.90,561.26 217.82,561.35 217.72,561.41 217.61,561.45 217.49,561.45 217.37,561.42 217.26,561.36 217.15,561.28 217.07,561.19 216.99,561.10 216.93,561.01 216.88,560.93 216.84,560.85 216.81,560.78 216.78,560.72 216.75,560.66 216.73,560.61 216.71,560.56 216.69,560.51 216.67,560.46 216.66,560.42 216.64,560.37 216.63,560.33 216.61,560.28 216.60,560.23 216.59,560.19 216.57,560.14 216.56,560.08 216.55,560.03 216.54,559.96 216.53,559.90 216.52,559.82 216.51,559.73 216.49,559.63 216.48,559.52 216.47,559.37 216.46,559.20 216.45,558.97 216.47,558.72 216.52,558.45 216.62,558.21 216.80,558.17 216.99,558.33 217.15,558.54 217.28,558.76 217.37,558.95 217.44,559.11 217.50,559.24 217.54,559.34 217.58,559.44 217.62,559.52 217.65,559.60 217.67,559.66 217.70,559.73 217.72,559.79 217.74,559.85 217.76,559.90 217.78,559.96 217.80,560.01 217.82,560.07 217.84,560.13" fill="#3fe5ce"/>
<polygon points="217.50,560.19 217.51,560.22 217.52,560.25 217.53,560.29 217.54,560.33 217.56,560.37 217.57,560.42 217.57,560.48 217.58,560.54 217.57,560.61 217.55,560.67 217.53,560.72 217.49,560.77 217.44,560.80 217.38,560.82 217.32,560.82 217.26,560.80 217.20,560.77 217.15,560.73 217.11,560.69 217.07,560.64 217.04,560.60 217.02,560.56 217.00,560.52 216.98,560.48 216.97,560.45 216.95,560.42 216.94,560.40 216.93,560.37 216.92,560.35 216.91,560.32 216.90,560.30 216.90,560.28 216.89,560.26 216.88,560.23 216.88,560.21 216.87,560.19 216.86,560.16 216.86,560.13 216.85,560.11 216.85,560.07 216.84,560.04 216.83,560.00 216.83,559.96 216.82,559.91 216.82,559.85 216.81,559.78 216.81,559.69 216.80,559.58 216.81,559.45 216.84,559.32 216.89,559.20 216.97,559.18 217.07,559.26 217.15,559.36 217.21,559.47 217.26,559.57 217.30,559.65 217.33,559.71 217.35,559.77 217.37,559.81 217.39,559.85 217.40,559.89 217.41,559.93 217.43,559.96 217.44,559.99 217.45,560.02 217.46,560.04 217.47,560.07 217.48,560.10 217.49,560.13 217.50,560.16" fill="#3ce5cd"/>
<path d="M211.58,529.69C212.56,529.40 214.05,530.39 215.14,531.71C216.22,533.04 217.11,535.37 218.10,537.64C219.09,539.92 220.08,542.79 221.07,545.36C222.06,547.93 222.95,550.50 224.03,553.07C225.12,555.64 226.51,558.41 227.59,560.78C228.68,563.15 229.87,565.43 230.56,567.31C231.25,569.18 231.84,570.67 231.75,572.05C231.65,573.44 231.05,574.82 229.97,575.61C228.88,576.40 226.90,576.74 225.22,576.80C223.54,576.86 221.56,576.56 219.88,575.97C218.20,575.37 216.46,574.48 215.14,573.24C213.81,571.99 212.82,570.37 211.93,568.49C211.04,566.61 210.35,564.24 209.80,561.97C209.24,559.69 208.91,557.32 208.61,554.85C208.31,552.38 208.06,549.71 208.02,547.14C207.98,544.56 208.18,541.70 208.37,539.42C208.57,537.15 208.67,535.11 209.20,533.49C209.74,531.87 210.59,529.99 211.58,529.69Z" fill="none" stroke="#000" stroke-width="1.0"/>
</g>
<path d="M213.95,545.95C214.70,545.75 215.93,546.94 216.92,548.32C217.90,549.71 218.99,552.18 219.88,554.25C220.77,556.33 221.72,558.90 222.25,560.78C222.79,562.66 223.18,564.24 223.08,565.53C222.99,566.81 222.39,567.94 221.66,568.49C220.93,569.05 219.68,569.24 218.69,568.85C217.71,568.45 216.62,567.46 215.73,566.12C214.84,564.77 213.91,562.66 213.36,560.78C212.80,558.90 212.56,556.73 212.41,554.85C212.25,552.97 212.15,550.99 212.41,549.51C212.66,548.03 213.20,546.15 213.95,545.95Z" fill="none" stroke="#000" stroke-width="1.0"/>
<path d="M213.70,560.50H221.30M217.50,557.00V564.00" stroke="#000" stroke-width="1" fill="none"/>
<rect x="199.50" y="516.50" width="97.15" height="74.50" fill="none" stroke="#000" stroke-width="1"/>
<path d="M203.35,591.00v6.6M225.76,591.00v6.6M248.18,591.00v6.6M270.59,591.00v6.6M293.00,591.00v6.6M199.50,588.50h-6.8M199.50,573.60h-6.8M199.50,558.70h-6.8M199.50,543.80h-6.8M199.50,528.80h-6.8" stroke="#000" stroke-width="1" fill="none"/>
<text class="a" x="203.35" y="613.80">0.00</text>
<text class="a" x="248.18" y="613.80">0.04</text>
<text class="a" x="293.00" y="613.80">0.08</text>
<text class="a" transform="translate(184.50,588.50) rotate(-90)">0</text>
<text class="a" transform="translate(184.50,558.70) rotate(-90)">100</text>
<text class="a" transform="translate(184.50,528.80) rotate(-90)">200</text>
<text class="p" x="248.18" y="626.80">π</text>
<g transform="translate(167.30,562.45) rotate(-90)">
<text class="g" x="0" y="0">γ</text><path d="M0.1,-6.2h4.6" stroke="#000" stroke-width="1"/>
<text class="s" x="4.60" y="2.60">dn</text><text class="ss" x="13.40" y="3.90">2</text>
</g>
<text class="t" x="248.07" y="487.20">LoF de novo</text>
<text class="t" x="248.07" y="503.20">(EPI)</text>
</g>
</svg></body></html>
